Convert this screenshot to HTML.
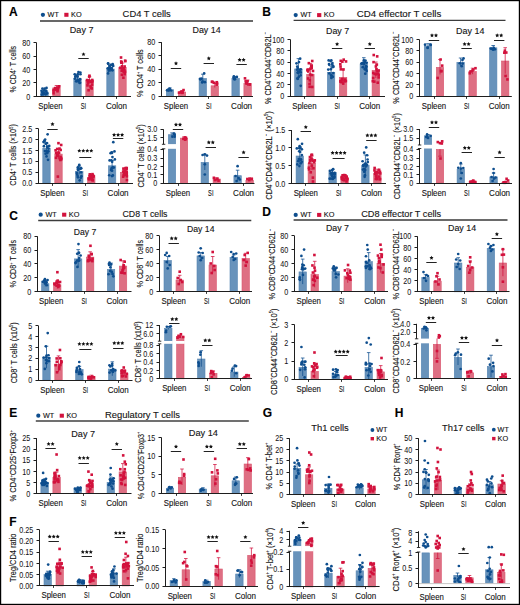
<!DOCTYPE html>
<html><head><meta charset="utf-8"><title>Figure</title>
<style>html,body{margin:0;padding:0;background:#fff;}
body{width:520px;height:605px;overflow:hidden;font-family:"Liberation Sans", sans-serif;}
svg{display:block;} text{stroke:#141414;stroke-width:0.12px;} text.tk{stroke-width:0.04px;}</style></head>
<body><svg width="520" height="605" viewBox="0 0 520 605" font-family='"Liberation Sans", sans-serif'><rect x="0.6" y="0.6" width="518.8" height="603.8" fill="none" stroke="#000" stroke-width="1.2"/><text x="8.9" y="15.8" font-size="12" text-anchor="start" font-weight="bold" fill="#000"><tspan>A</tspan></text><text x="262.3" y="15.6" font-size="12" text-anchor="start" font-weight="bold" fill="#000"><tspan>B</tspan></text><text x="9.3" y="220.1" font-size="12" text-anchor="start" font-weight="bold" fill="#000"><tspan>C</tspan></text><text x="262.3" y="216.3" font-size="12" text-anchor="start" font-weight="bold" fill="#000"><tspan>D</tspan></text><text x="9.3" y="417.1" font-size="12" text-anchor="start" font-weight="bold" fill="#000"><tspan>E</tspan></text><text x="9.3" y="525.8" font-size="12" text-anchor="start" font-weight="bold" fill="#000"><tspan>F</tspan></text><text x="262.8" y="417.1" font-size="12" text-anchor="start" font-weight="bold" fill="#000"><tspan>G</tspan></text><text x="394.8" y="417.1" font-size="12" text-anchor="start" font-weight="bold" fill="#000"><tspan>H</tspan></text><circle cx="42.9" cy="14.8" r="2.1" fill="#0e4e8e"/><text x="47.6" y="16.7" font-size="7" text-anchor="start" font-weight="normal" fill="#141414" textLength="11.2" lengthAdjust="spacingAndGlyphs"><tspan>WT</tspan></text><rect x="64.3" y="12.8" width="4.2" height="4" fill="#d2123d"/><text x="71" y="16.7" font-size="7" text-anchor="start" font-weight="normal" fill="#141414" textLength="10.6" lengthAdjust="spacingAndGlyphs"><tspan>KO</tspan></text><text x="122.6" y="16.6" font-size="9.3" text-anchor="start" font-weight="normal" fill="#141414" textLength="48.2" lengthAdjust="spacingAndGlyphs"><tspan>CD4 T cells</tspan></text><line x1="40" y1="20.9" x2="253" y2="20.9" stroke="#686868" stroke-width="2"/><circle cx="295.7" cy="15.1" r="2.1" fill="#0e4e8e"/><text x="300.4" y="17" font-size="7" text-anchor="start" font-weight="normal" fill="#141414" textLength="11.2" lengthAdjust="spacingAndGlyphs"><tspan>WT</tspan></text><rect x="317.1" y="13.1" width="4.2" height="4" fill="#d2123d"/><text x="323.8" y="17" font-size="7" text-anchor="start" font-weight="normal" fill="#141414" textLength="10.6" lengthAdjust="spacingAndGlyphs"><tspan>KO</tspan></text><text x="356.8" y="16.9" font-size="9.3" text-anchor="start" font-weight="normal" fill="#141414" textLength="84.5" lengthAdjust="spacingAndGlyphs"><tspan>CD4 effector T cells</tspan></text><line x1="293.6" y1="20.4" x2="505.5" y2="20.4" stroke="#3c3c3c" stroke-width="1.4"/><circle cx="40.7" cy="214.7" r="2.1" fill="#0e4e8e"/><text x="45.4" y="216.6" font-size="7" text-anchor="start" font-weight="normal" fill="#141414" textLength="11.2" lengthAdjust="spacingAndGlyphs"><tspan>WT</tspan></text><rect x="62.1" y="212.7" width="4.2" height="4" fill="#d2123d"/><text x="68.8" y="216.6" font-size="7" text-anchor="start" font-weight="normal" fill="#141414" textLength="10.6" lengthAdjust="spacingAndGlyphs"><tspan>KO</tspan></text><text x="122.5" y="216.5" font-size="9.3" text-anchor="start" font-weight="normal" fill="#141414" textLength="45" lengthAdjust="spacingAndGlyphs"><tspan>CD8 T cells</tspan></text><line x1="38.2" y1="220.5" x2="251.3" y2="220.5" stroke="#3c3c3c" stroke-width="1.4"/><circle cx="295.7" cy="214.9" r="2.1" fill="#0e4e8e"/><text x="300.4" y="216.8" font-size="7" text-anchor="start" font-weight="normal" fill="#141414" textLength="11.2" lengthAdjust="spacingAndGlyphs"><tspan>WT</tspan></text><rect x="317.1" y="212.9" width="4.2" height="4" fill="#d2123d"/><text x="323.8" y="216.8" font-size="7" text-anchor="start" font-weight="normal" fill="#141414" textLength="10.6" lengthAdjust="spacingAndGlyphs"><tspan>KO</tspan></text><text x="361.2" y="216.7" font-size="9.3" text-anchor="start" font-weight="normal" fill="#141414" textLength="80" lengthAdjust="spacingAndGlyphs"><tspan>CD8 effector T cells</tspan></text><line x1="293.6" y1="219.9" x2="507.5" y2="219.9" stroke="#6a6a6a" stroke-width="2"/><circle cx="38.3" cy="415.7" r="2.1" fill="#0e4e8e"/><text x="43" y="417.6" font-size="7" text-anchor="start" font-weight="normal" fill="#141414" textLength="11.2" lengthAdjust="spacingAndGlyphs"><tspan>WT</tspan></text><rect x="59.7" y="413.7" width="4.2" height="4" fill="#d2123d"/><text x="66.4" y="417.6" font-size="7" text-anchor="start" font-weight="normal" fill="#141414" textLength="10.6" lengthAdjust="spacingAndGlyphs"><tspan>KO</tspan></text><text x="105" y="417.5" font-size="9.3" text-anchor="start" font-weight="normal" fill="#141414" textLength="75" lengthAdjust="spacingAndGlyphs"><tspan>Regulatory T cells</tspan></text><line x1="35.8" y1="421" x2="248.8" y2="421" stroke="#707070" stroke-width="2"/><text x="69.85" y="32.5" font-size="9" text-anchor="start" font-weight="normal" fill="#141414" textLength="23.6" lengthAdjust="spacingAndGlyphs"><tspan>Day 7</tspan></text><text x="192.5" y="33" font-size="9" text-anchor="start" font-weight="normal" fill="#141414" textLength="28.2" lengthAdjust="spacingAndGlyphs"><tspan>Day 14</tspan></text><text x="326" y="33.5" font-size="9" text-anchor="start" font-weight="normal" fill="#141414" textLength="23.2" lengthAdjust="spacingAndGlyphs"><tspan>Day 7</tspan></text><text x="456" y="33.5" font-size="9" text-anchor="start" font-weight="normal" fill="#141414" textLength="28.4" lengthAdjust="spacingAndGlyphs"><tspan>Day 14</tspan></text><text x="73.8" y="234.5" font-size="9" text-anchor="start" font-weight="normal" fill="#141414" textLength="22.5" lengthAdjust="spacingAndGlyphs"><tspan>Day 7</tspan></text><text x="187" y="231.6" font-size="9" text-anchor="start" font-weight="normal" fill="#141414" textLength="27.5" lengthAdjust="spacingAndGlyphs"><tspan>Day 14</tspan></text><text x="326" y="230.8" font-size="9" text-anchor="start" font-weight="normal" fill="#141414" textLength="23" lengthAdjust="spacingAndGlyphs"><tspan>Day 7</tspan></text><text x="448" y="230.8" font-size="9" text-anchor="start" font-weight="normal" fill="#141414" textLength="28.2" lengthAdjust="spacingAndGlyphs"><tspan>Day 14</tspan></text><text x="71.3" y="436.5" font-size="9" text-anchor="start" font-weight="normal" fill="#141414" textLength="23.7" lengthAdjust="spacingAndGlyphs"><tspan>Day 7</tspan></text><text x="188.8" y="435.8" font-size="9" text-anchor="start" font-weight="normal" fill="#141414" textLength="29.2" lengthAdjust="spacingAndGlyphs"><tspan>Day 14</tspan></text><text x="311.3" y="430.5" font-size="9.2" text-anchor="start" font-weight="normal" fill="#141414" textLength="37.5" lengthAdjust="spacingAndGlyphs"><tspan>Th1 cells</tspan></text><circle cx="372.4" cy="430" r="1.9" fill="#0e4e8e"/><text x="376.3" y="432.3" font-size="7" text-anchor="start" font-weight="normal" fill="#141414" textLength="11.2" lengthAdjust="spacingAndGlyphs"><tspan>WT</tspan></text><rect x="370.6" y="437" width="3.4" height="3.4" fill="#d2123d"/><text x="376.3" y="440.6" font-size="7" text-anchor="start" font-weight="normal" fill="#141414" textLength="10.6" lengthAdjust="spacingAndGlyphs"><tspan>KO</tspan></text><text x="442" y="430.5" font-size="9.2" text-anchor="start" font-weight="normal" fill="#141414" textLength="42.5" lengthAdjust="spacingAndGlyphs"><tspan>Th17 cells</tspan></text><circle cx="493.8" cy="429.7" r="1.9" fill="#0e4e8e"/><text x="497.6" y="432" font-size="7" text-anchor="start" font-weight="normal" fill="#141414" textLength="11.2" lengthAdjust="spacingAndGlyphs"><tspan>WT</tspan></text><rect x="492.1" y="436.9" width="3.4" height="3.4" fill="#d2123d"/><text x="497.6" y="440.5" font-size="7" text-anchor="start" font-weight="normal" fill="#141414" textLength="10.6" lengthAdjust="spacingAndGlyphs"><tspan>KO</tspan></text><rect x="40.8" y="92.05" width="7.4" height="4.35" fill="#6893bb" stroke="#5584b2" stroke-width="0.6"/><rect x="52.8" y="87.8" width="7.4" height="8.6" fill="#de6f83" stroke="#d9566f" stroke-width="0.6"/><line x1="44.5" y1="89.75" x2="44.5" y2="93.75" stroke="#0e4e8e" stroke-width="0.75"/><line x1="42.7" y1="89.75" x2="46.3" y2="89.75" stroke="#0e4e8e" stroke-width="0.75"/><circle cx="46.12" cy="93.74" r="1.35" fill="#0e4e8e"/><circle cx="45.73" cy="94.34" r="1.35" fill="#0e4e8e"/><circle cx="46.3" cy="91.39" r="1.35" fill="#0e4e8e"/><circle cx="44.7" cy="88.61" r="1.35" fill="#0e4e8e"/><circle cx="41.79" cy="94.62" r="1.35" fill="#0e4e8e"/><circle cx="47.1" cy="93.33" r="1.35" fill="#0e4e8e"/><circle cx="43.36" cy="94.29" r="1.35" fill="#0e4e8e"/><circle cx="46.11" cy="90.87" r="1.35" fill="#0e4e8e"/><circle cx="42.63" cy="92.28" r="1.35" fill="#0e4e8e"/><circle cx="43.58" cy="93.53" r="1.35" fill="#0e4e8e"/><circle cx="44.83" cy="93.56" r="1.35" fill="#0e4e8e"/><circle cx="42.46" cy="88.56" r="1.35" fill="#0e4e8e"/><circle cx="41.53" cy="90.84" r="1.35" fill="#0e4e8e"/><circle cx="43.87" cy="90.52" r="1.35" fill="#0e4e8e"/><circle cx="42.66" cy="92.31" r="1.35" fill="#0e4e8e"/><circle cx="46.55" cy="87.96" r="1.35" fill="#0e4e8e"/><line x1="56.5" y1="85.5" x2="56.5" y2="89.5" stroke="#d2123d" stroke-width="0.75"/><line x1="54.7" y1="85.5" x2="58.3" y2="85.5" stroke="#d2123d" stroke-width="0.75"/><rect x="57.99" y="85" width="2.6" height="2.6" fill="#d2123d"/><rect x="56.18" y="89.94" width="2.6" height="2.6" fill="#d2123d"/><rect x="53.93" y="86.79" width="2.6" height="2.6" fill="#d2123d"/><rect x="56.35" y="88.79" width="2.6" height="2.6" fill="#d2123d"/><rect x="52.62" y="88.54" width="2.6" height="2.6" fill="#d2123d"/><rect x="56.82" y="86.76" width="2.6" height="2.6" fill="#d2123d"/><rect x="54.4" y="87.72" width="2.6" height="2.6" fill="#d2123d"/><rect x="56.02" y="86.79" width="2.6" height="2.6" fill="#d2123d"/><rect x="54.78" y="87.66" width="2.6" height="2.6" fill="#d2123d"/><rect x="57.14" y="85.59" width="2.6" height="2.6" fill="#d2123d"/><rect x="56.28" y="87.91" width="2.6" height="2.6" fill="#d2123d"/><rect x="54.74" y="88.45" width="2.6" height="2.6" fill="#d2123d"/><rect x="52.24" y="89.35" width="2.6" height="2.6" fill="#d2123d"/><rect x="54.27" y="87.24" width="2.6" height="2.6" fill="#d2123d"/><rect x="52.26" y="92" width="2.6" height="2.6" fill="#d2123d"/><rect x="55.59" y="87" width="2.6" height="2.6" fill="#d2123d"/><rect x="73.8" y="78.5" width="7.4" height="17.9" fill="#6893bb" stroke="#5584b2" stroke-width="0.6"/><rect x="85.8" y="80.1" width="7.4" height="16.3" fill="#de6f83" stroke="#d9566f" stroke-width="0.6"/><line x1="77.5" y1="75.2" x2="77.5" y2="81.2" stroke="#0e4e8e" stroke-width="0.75"/><line x1="75.7" y1="75.2" x2="79.3" y2="75.2" stroke="#0e4e8e" stroke-width="0.75"/><circle cx="79.43" cy="82.85" r="1.35" fill="#0e4e8e"/><circle cx="75.99" cy="76.16" r="1.35" fill="#0e4e8e"/><circle cx="77.75" cy="74.13" r="1.35" fill="#0e4e8e"/><circle cx="74.95" cy="78.66" r="1.35" fill="#0e4e8e"/><circle cx="74.74" cy="74.33" r="1.35" fill="#0e4e8e"/><circle cx="79.39" cy="80.43" r="1.35" fill="#0e4e8e"/><circle cx="78.29" cy="80.69" r="1.35" fill="#0e4e8e"/><circle cx="77.67" cy="76.67" r="1.35" fill="#0e4e8e"/><circle cx="78.47" cy="72.1" r="1.35" fill="#0e4e8e"/><circle cx="76.17" cy="81.3" r="1.35" fill="#0e4e8e"/><circle cx="80.46" cy="74.23" r="1.35" fill="#0e4e8e"/><circle cx="80.08" cy="82.83" r="1.35" fill="#0e4e8e"/><circle cx="79.95" cy="79.16" r="1.35" fill="#0e4e8e"/><circle cx="80.37" cy="72.61" r="1.35" fill="#0e4e8e"/><circle cx="76.96" cy="80.71" r="1.35" fill="#0e4e8e"/><circle cx="75.87" cy="75.95" r="1.35" fill="#0e4e8e"/><circle cx="77.47" cy="81.22" r="1.35" fill="#0e4e8e"/><circle cx="75.34" cy="76.73" r="1.35" fill="#0e4e8e"/><line x1="89.5" y1="76.8" x2="89.5" y2="82.8" stroke="#d2123d" stroke-width="0.75"/><line x1="87.7" y1="76.8" x2="91.3" y2="76.8" stroke="#d2123d" stroke-width="0.75"/><rect x="90.86" y="80.66" width="2.6" height="2.6" fill="#d2123d"/><rect x="88.16" y="74.41" width="2.6" height="2.6" fill="#d2123d"/><rect x="86.22" y="84.06" width="2.6" height="2.6" fill="#d2123d"/><rect x="86.58" y="80.93" width="2.6" height="2.6" fill="#d2123d"/><rect x="89.22" y="85.06" width="2.6" height="2.6" fill="#d2123d"/><rect x="86.87" y="81.8" width="2.6" height="2.6" fill="#d2123d"/><rect x="90.62" y="80.44" width="2.6" height="2.6" fill="#d2123d"/><rect x="87.3" y="88.94" width="2.6" height="2.6" fill="#d2123d"/><rect x="89.76" y="80.43" width="2.6" height="2.6" fill="#d2123d"/><rect x="87.64" y="79.11" width="2.6" height="2.6" fill="#d2123d"/><rect x="90.43" y="87.15" width="2.6" height="2.6" fill="#d2123d"/><rect x="85.8" y="78.73" width="2.6" height="2.6" fill="#d2123d"/><rect x="87.96" y="75.31" width="2.6" height="2.6" fill="#d2123d"/><rect x="90.91" y="79.57" width="2.6" height="2.6" fill="#d2123d"/><rect x="90.84" y="83.31" width="2.6" height="2.6" fill="#d2123d"/><rect x="88.96" y="79.91" width="2.6" height="2.6" fill="#d2123d"/><rect x="90.89" y="78.66" width="2.6" height="2.6" fill="#d2123d"/><rect x="89.64" y="86.36" width="2.6" height="2.6" fill="#d2123d"/><rect x="106.8" y="69" width="7.4" height="27.4" fill="#6893bb" stroke="#5584b2" stroke-width="0.6"/><rect x="118.8" y="67.3" width="7.4" height="29.1" fill="#de6f83" stroke="#d9566f" stroke-width="0.6"/><line x1="110.5" y1="65.7" x2="110.5" y2="71.7" stroke="#0e4e8e" stroke-width="0.75"/><line x1="108.7" y1="65.7" x2="112.3" y2="65.7" stroke="#0e4e8e" stroke-width="0.75"/><circle cx="113.22" cy="66" r="1.35" fill="#0e4e8e"/><circle cx="111.31" cy="68.45" r="1.35" fill="#0e4e8e"/><circle cx="108.05" cy="63.39" r="1.35" fill="#0e4e8e"/><circle cx="109.01" cy="69.49" r="1.35" fill="#0e4e8e"/><circle cx="109.43" cy="65.83" r="1.35" fill="#0e4e8e"/><circle cx="111.74" cy="68.04" r="1.35" fill="#0e4e8e"/><circle cx="109.22" cy="67.81" r="1.35" fill="#0e4e8e"/><circle cx="108.81" cy="70.71" r="1.35" fill="#0e4e8e"/><circle cx="108.19" cy="63.71" r="1.35" fill="#0e4e8e"/><circle cx="108.75" cy="68.63" r="1.35" fill="#0e4e8e"/><circle cx="108.07" cy="73.41" r="1.35" fill="#0e4e8e"/><circle cx="112.7" cy="64.21" r="1.35" fill="#0e4e8e"/><circle cx="112.33" cy="64.79" r="1.35" fill="#0e4e8e"/><circle cx="111.63" cy="70" r="1.35" fill="#0e4e8e"/><circle cx="110.77" cy="64.9" r="1.35" fill="#0e4e8e"/><circle cx="112.51" cy="70.3" r="1.35" fill="#0e4e8e"/><circle cx="107.68" cy="68.23" r="1.35" fill="#0e4e8e"/><circle cx="109.65" cy="66.97" r="1.35" fill="#0e4e8e"/><line x1="122.5" y1="63" x2="122.5" y2="71" stroke="#d2123d" stroke-width="0.75"/><line x1="120.7" y1="63" x2="124.3" y2="63" stroke="#d2123d" stroke-width="0.75"/><rect x="120.59" y="73.47" width="2.6" height="2.6" fill="#d2123d"/><rect x="123.69" y="70.45" width="2.6" height="2.6" fill="#d2123d"/><rect x="123.83" y="59.41" width="2.6" height="2.6" fill="#d2123d"/><rect x="119.91" y="60.19" width="2.6" height="2.6" fill="#d2123d"/><rect x="122.26" y="69.88" width="2.6" height="2.6" fill="#d2123d"/><rect x="124.01" y="59.84" width="2.6" height="2.6" fill="#d2123d"/><rect x="123.03" y="68.97" width="2.6" height="2.6" fill="#d2123d"/><rect x="123.36" y="72.89" width="2.6" height="2.6" fill="#d2123d"/><rect x="122.72" y="66.81" width="2.6" height="2.6" fill="#d2123d"/><rect x="120.28" y="60.97" width="2.6" height="2.6" fill="#d2123d"/><rect x="120.78" y="67.2" width="2.6" height="2.6" fill="#d2123d"/><rect x="122.09" y="76.42" width="2.6" height="2.6" fill="#d2123d"/><rect x="120.13" y="61.42" width="2.6" height="2.6" fill="#d2123d"/><rect x="120.68" y="64.89" width="2.6" height="2.6" fill="#d2123d"/><rect x="120.4" y="69.49" width="2.6" height="2.6" fill="#d2123d"/><rect x="122.62" y="70.61" width="2.6" height="2.6" fill="#d2123d"/><rect x="119.02" y="66.47" width="2.6" height="2.6" fill="#d2123d"/><rect x="123.33" y="65.19" width="2.6" height="2.6" fill="#d2123d"/><rect x="119.73" y="56.2" width="2.6" height="2.6" fill="#d2123d"/><line x1="36.5" y1="42.6" x2="36.5" y2="97" stroke="#1e1e1e" stroke-width="1"/><line x1="36" y1="96.5" x2="131" y2="96.5" stroke="#1e1e1e" stroke-width="1"/><line x1="33.5" y1="96.5" x2="36.5" y2="96.5" stroke="#1e1e1e" stroke-width="1"/><text class="tk" transform="translate(30.3 99.5) scale(0.82 1)" font-size="8.8" text-anchor="end" font-weight="normal" fill="#141414"><tspan>0</tspan></text><line x1="33.5" y1="82.5" x2="36.5" y2="82.5" stroke="#1e1e1e" stroke-width="1"/><text class="tk" transform="translate(30.3 86.05) scale(0.82 1)" font-size="8.8" text-anchor="end" font-weight="normal" fill="#141414"><tspan>20</tspan></text><line x1="33.5" y1="69.5" x2="36.5" y2="69.5" stroke="#1e1e1e" stroke-width="1"/><text class="tk" transform="translate(30.3 72.6) scale(0.82 1)" font-size="8.8" text-anchor="end" font-weight="normal" fill="#141414"><tspan>40</tspan></text><line x1="33.5" y1="56.5" x2="36.5" y2="56.5" stroke="#1e1e1e" stroke-width="1"/><text class="tk" transform="translate(30.3 59.15) scale(0.82 1)" font-size="8.8" text-anchor="end" font-weight="normal" fill="#141414"><tspan>60</tspan></text><line x1="33.5" y1="42.5" x2="36.5" y2="42.5" stroke="#1e1e1e" stroke-width="1"/><text class="tk" transform="translate(30.3 45.7) scale(0.82 1)" font-size="8.8" text-anchor="end" font-weight="normal" fill="#141414"><tspan>80</tspan></text><line x1="50.5" y1="96.5" x2="50.5" y2="98.9" stroke="#1e1e1e" stroke-width="0.9"/><line x1="83.5" y1="96.5" x2="83.5" y2="98.9" stroke="#1e1e1e" stroke-width="0.9"/><line x1="116.5" y1="96.5" x2="116.5" y2="98.9" stroke="#1e1e1e" stroke-width="0.9"/><text x="50.5" y="109.2" font-size="8.7" text-anchor="middle" font-weight="normal" fill="#141414" textLength="24.3" lengthAdjust="spacingAndGlyphs"><tspan>Spleen</tspan></text><text x="83.5" y="109.2" font-size="8.7" text-anchor="middle" font-weight="normal" fill="#141414" textLength="5.4" lengthAdjust="spacingAndGlyphs"><tspan>SI</tspan></text><text x="116.5" y="109.2" font-size="8.7" text-anchor="middle" font-weight="normal" fill="#141414" textLength="21" lengthAdjust="spacingAndGlyphs"><tspan>Colon</tspan></text><line x1="78.3" y1="58.5" x2="88.7" y2="58.5" stroke="#222" stroke-width="1"/><polygon points="83.5,52.15 84.12,53.45 85.54,53.64 84.5,54.62 84.76,56.04 83.5,55.35 82.24,56.04 82.5,54.62 81.46,53.64 82.88,53.45" fill="#111"/><text transform="translate(16.2 69.2) rotate(-90)" x="0" y="0" font-size="9.8" text-anchor="middle" font-weight="normal" fill="#141414" textLength="46.4" lengthAdjust="spacingAndGlyphs"><tspan>% CD4</tspan><tspan dy="-3.53" font-size="5.2">+</tspan><tspan dy="3.53"> T cells</tspan></text><rect x="166.3" y="89.8" width="7.4" height="6.7" fill="#6893bb" stroke="#5584b2" stroke-width="0.6"/><rect x="178.3" y="92.05" width="7.4" height="4.45" fill="#de6f83" stroke="#d9566f" stroke-width="0.6"/><line x1="170" y1="88" x2="170" y2="91" stroke="#0e4e8e" stroke-width="0.75"/><line x1="168.2" y1="88" x2="171.8" y2="88" stroke="#0e4e8e" stroke-width="0.75"/><circle cx="171.25" cy="90.51" r="1.35" fill="#0e4e8e"/><circle cx="167.86" cy="89.8" r="1.35" fill="#0e4e8e"/><circle cx="167.07" cy="90.28" r="1.35" fill="#0e4e8e"/><circle cx="169.64" cy="88.55" r="1.35" fill="#0e4e8e"/><circle cx="168.67" cy="89.64" r="1.35" fill="#0e4e8e"/><circle cx="169.76" cy="89.75" r="1.35" fill="#0e4e8e"/><circle cx="168.8" cy="90.57" r="1.35" fill="#0e4e8e"/><line x1="182" y1="90.55" x2="182" y2="92.95" stroke="#d2123d" stroke-width="0.75"/><line x1="180.2" y1="90.55" x2="183.8" y2="90.55" stroke="#d2123d" stroke-width="0.75"/><rect x="177.72" y="91.34" width="2.6" height="2.6" fill="#d2123d"/><rect x="179.4" y="90.85" width="2.6" height="2.6" fill="#d2123d"/><rect x="180.52" y="90.48" width="2.6" height="2.6" fill="#d2123d"/><rect x="182.22" y="88.77" width="2.6" height="2.6" fill="#d2123d"/><rect x="181.36" y="91.11" width="2.6" height="2.6" fill="#d2123d"/><rect x="180.56" y="91.35" width="2.6" height="2.6" fill="#d2123d"/><rect x="180.91" y="91.54" width="2.6" height="2.6" fill="#d2123d"/><rect x="199.1" y="78.5" width="7.4" height="18" fill="#6893bb" stroke="#5584b2" stroke-width="0.6"/><rect x="211.1" y="85.8" width="7.4" height="10.7" fill="#de6f83" stroke="#d9566f" stroke-width="0.6"/><line x1="202.8" y1="74.2" x2="202.8" y2="82.2" stroke="#0e4e8e" stroke-width="0.75"/><line x1="201" y1="74.2" x2="204.6" y2="74.2" stroke="#0e4e8e" stroke-width="0.75"/><circle cx="204.16" cy="73.46" r="1.35" fill="#0e4e8e"/><circle cx="202.23" cy="82.39" r="1.35" fill="#0e4e8e"/><circle cx="201.54" cy="78.61" r="1.35" fill="#0e4e8e"/><circle cx="200.04" cy="78.93" r="1.35" fill="#0e4e8e"/><circle cx="202.71" cy="81.63" r="1.35" fill="#0e4e8e"/><circle cx="204.89" cy="82.13" r="1.35" fill="#0e4e8e"/><circle cx="200.58" cy="79.38" r="1.35" fill="#0e4e8e"/><line x1="214.8" y1="83.5" x2="214.8" y2="87.5" stroke="#d2123d" stroke-width="0.75"/><line x1="213" y1="83.5" x2="216.6" y2="83.5" stroke="#d2123d" stroke-width="0.75"/><rect x="210.63" y="80.43" width="2.6" height="2.6" fill="#d2123d"/><rect x="215.8" y="82.57" width="2.6" height="2.6" fill="#d2123d"/><rect x="215.57" y="81.75" width="2.6" height="2.6" fill="#d2123d"/><rect x="212.56" y="81.52" width="2.6" height="2.6" fill="#d2123d"/><rect x="211.29" y="80.62" width="2.6" height="2.6" fill="#d2123d"/><rect x="215.41" y="83.32" width="2.6" height="2.6" fill="#d2123d"/><rect x="215.49" y="80.95" width="2.6" height="2.6" fill="#d2123d"/><rect x="231.9" y="78.5" width="7.4" height="18" fill="#6893bb" stroke="#5584b2" stroke-width="0.6"/><rect x="243.9" y="83.3" width="7.4" height="13.2" fill="#de6f83" stroke="#d9566f" stroke-width="0.6"/><line x1="235.6" y1="76.7" x2="235.6" y2="79.7" stroke="#0e4e8e" stroke-width="0.75"/><line x1="233.8" y1="76.7" x2="237.4" y2="76.7" stroke="#0e4e8e" stroke-width="0.75"/><circle cx="234.1" cy="78.18" r="1.35" fill="#0e4e8e"/><circle cx="234.26" cy="77.2" r="1.35" fill="#0e4e8e"/><circle cx="236.86" cy="76.9" r="1.35" fill="#0e4e8e"/><circle cx="234.01" cy="79.12" r="1.35" fill="#0e4e8e"/><circle cx="234.91" cy="79.3" r="1.35" fill="#0e4e8e"/><circle cx="233.76" cy="77.37" r="1.35" fill="#0e4e8e"/><circle cx="233.84" cy="76.45" r="1.35" fill="#0e4e8e"/><line x1="247.6" y1="80" x2="247.6" y2="86" stroke="#d2123d" stroke-width="0.75"/><line x1="245.8" y1="80" x2="249.4" y2="80" stroke="#d2123d" stroke-width="0.75"/><rect x="244.98" y="81.74" width="2.6" height="2.6" fill="#d2123d"/><rect x="248.23" y="83.08" width="2.6" height="2.6" fill="#d2123d"/><rect x="245.43" y="82.32" width="2.6" height="2.6" fill="#d2123d"/><rect x="243.69" y="77.05" width="2.6" height="2.6" fill="#d2123d"/><rect x="248.45" y="83.16" width="2.6" height="2.6" fill="#d2123d"/><rect x="244.38" y="80.03" width="2.6" height="2.6" fill="#d2123d"/><rect x="246.27" y="79.97" width="2.6" height="2.6" fill="#d2123d"/><line x1="161.5" y1="42.2" x2="161.5" y2="97" stroke="#1e1e1e" stroke-width="1"/><line x1="161" y1="96.5" x2="253" y2="96.5" stroke="#1e1e1e" stroke-width="1"/><line x1="158.5" y1="96.5" x2="161.5" y2="96.5" stroke="#1e1e1e" stroke-width="1"/><text class="tk" transform="translate(155.3 99.6) scale(0.82 1)" font-size="8.8" text-anchor="end" font-weight="normal" fill="#141414"><tspan>0</tspan></text><line x1="158.5" y1="82.5" x2="161.5" y2="82.5" stroke="#1e1e1e" stroke-width="1"/><text class="tk" transform="translate(155.3 86) scale(0.82 1)" font-size="8.8" text-anchor="end" font-weight="normal" fill="#141414"><tspan>20</tspan></text><line x1="158.5" y1="69.5" x2="161.5" y2="69.5" stroke="#1e1e1e" stroke-width="1"/><text class="tk" transform="translate(155.3 72.4) scale(0.82 1)" font-size="8.8" text-anchor="end" font-weight="normal" fill="#141414"><tspan>40</tspan></text><line x1="158.5" y1="55.5" x2="161.5" y2="55.5" stroke="#1e1e1e" stroke-width="1"/><text class="tk" transform="translate(155.3 58.8) scale(0.82 1)" font-size="8.8" text-anchor="end" font-weight="normal" fill="#141414"><tspan>60</tspan></text><line x1="158.5" y1="42.5" x2="161.5" y2="42.5" stroke="#1e1e1e" stroke-width="1"/><text class="tk" transform="translate(155.3 45.2) scale(0.82 1)" font-size="8.8" text-anchor="end" font-weight="normal" fill="#141414"><tspan>80</tspan></text><line x1="176.5" y1="96.5" x2="176.5" y2="98.9" stroke="#1e1e1e" stroke-width="0.9"/><line x1="208.5" y1="96.5" x2="208.5" y2="98.9" stroke="#1e1e1e" stroke-width="0.9"/><line x1="241.5" y1="96.5" x2="241.5" y2="98.9" stroke="#1e1e1e" stroke-width="0.9"/><text x="176" y="109.2" font-size="8.7" text-anchor="middle" font-weight="normal" fill="#141414" textLength="24.3" lengthAdjust="spacingAndGlyphs"><tspan>Spleen</tspan></text><text x="208.8" y="109.2" font-size="8.7" text-anchor="middle" font-weight="normal" fill="#141414" textLength="5.4" lengthAdjust="spacingAndGlyphs"><tspan>SI</tspan></text><text x="241.6" y="109.2" font-size="8.7" text-anchor="middle" font-weight="normal" fill="#141414" textLength="21" lengthAdjust="spacingAndGlyphs"><tspan>Colon</tspan></text><line x1="170.8" y1="68.5" x2="181.2" y2="68.5" stroke="#222" stroke-width="1"/><polygon points="176,61.25 176.62,62.55 178.04,62.74 177,63.72 177.26,65.14 176,64.45 174.74,65.14 175,63.72 173.96,62.74 175.38,62.55" fill="#111"/><line x1="203.6" y1="63.5" x2="214" y2="63.5" stroke="#222" stroke-width="1"/><polygon points="208.8,56.25 209.42,57.55 210.84,57.74 209.8,58.72 210.06,60.14 208.8,59.45 207.54,60.14 207.8,58.72 206.76,57.74 208.18,57.55" fill="#111"/><line x1="236.4" y1="64.5" x2="246.8" y2="64.5" stroke="#222" stroke-width="1"/><polygon points="239.6,57.75 240.22,59.05 241.64,59.24 240.6,60.22 240.86,61.64 239.6,60.95 238.34,61.64 238.6,60.22 237.56,59.24 238.98,59.05" fill="#111"/><polygon points="243.6,57.75 244.22,59.05 245.64,59.24 244.6,60.22 244.86,61.64 243.6,60.95 242.34,61.64 242.6,60.22 241.56,59.24 242.98,59.05" fill="#111"/><text transform="translate(143.2 73.1) rotate(-90)" x="0" y="0" font-size="9.8" text-anchor="middle" font-weight="normal" fill="#141414" textLength="47.6" lengthAdjust="spacingAndGlyphs"><tspan>% CD4</tspan><tspan dy="-3.53" font-size="5.2">+</tspan><tspan dy="3.53"> T cells</tspan></text><rect x="42.8" y="148.1" width="7.4" height="35" fill="#6893bb" stroke="#5584b2" stroke-width="0.6"/><rect x="54.8" y="154.1" width="7.4" height="29" fill="#de6f83" stroke="#d9566f" stroke-width="0.6"/><line x1="46.5" y1="142.8" x2="46.5" y2="152.8" stroke="#0e4e8e" stroke-width="0.75"/><line x1="44.7" y1="142.8" x2="48.3" y2="142.8" stroke="#0e4e8e" stroke-width="0.75"/><circle cx="43.51" cy="142.07" r="1.35" fill="#0e4e8e"/><circle cx="45.58" cy="143.76" r="1.35" fill="#0e4e8e"/><circle cx="46.98" cy="151.35" r="1.35" fill="#0e4e8e"/><circle cx="44.47" cy="140.63" r="1.35" fill="#0e4e8e"/><circle cx="44.33" cy="141.23" r="1.35" fill="#0e4e8e"/><circle cx="44.98" cy="151.01" r="1.35" fill="#0e4e8e"/><circle cx="46.52" cy="156.38" r="1.35" fill="#0e4e8e"/><circle cx="47.64" cy="146.55" r="1.35" fill="#0e4e8e"/><circle cx="46.84" cy="143.19" r="1.35" fill="#0e4e8e"/><circle cx="45.6" cy="153.69" r="1.35" fill="#0e4e8e"/><circle cx="43.9" cy="146.17" r="1.35" fill="#0e4e8e"/><circle cx="48.35" cy="151.37" r="1.35" fill="#0e4e8e"/><circle cx="48.01" cy="159.81" r="1.35" fill="#0e4e8e"/><circle cx="48.44" cy="148.59" r="1.35" fill="#0e4e8e"/><circle cx="49.23" cy="145.94" r="1.35" fill="#0e4e8e"/><circle cx="47.21" cy="146.86" r="1.35" fill="#0e4e8e"/><circle cx="45.13" cy="139.59" r="1.35" fill="#0e4e8e"/><circle cx="47.35" cy="153.12" r="1.35" fill="#0e4e8e"/><circle cx="47.63" cy="134.3" r="1.35" fill="#0e4e8e"/><line x1="58.5" y1="148.8" x2="58.5" y2="158.8" stroke="#d2123d" stroke-width="0.75"/><line x1="56.7" y1="148.8" x2="60.3" y2="148.8" stroke="#d2123d" stroke-width="0.75"/><rect x="57.16" y="141.87" width="2.6" height="2.6" fill="#d2123d"/><rect x="58.21" y="147.27" width="2.6" height="2.6" fill="#d2123d"/><rect x="55.73" y="153.88" width="2.6" height="2.6" fill="#d2123d"/><rect x="59.97" y="157.92" width="2.6" height="2.6" fill="#d2123d"/><rect x="54.77" y="151.51" width="2.6" height="2.6" fill="#d2123d"/><rect x="59.9" y="143.67" width="2.6" height="2.6" fill="#d2123d"/><rect x="59.27" y="155.6" width="2.6" height="2.6" fill="#d2123d"/><rect x="59.35" y="148.65" width="2.6" height="2.6" fill="#d2123d"/><rect x="59.07" y="158.68" width="2.6" height="2.6" fill="#d2123d"/><rect x="58.63" y="157.56" width="2.6" height="2.6" fill="#d2123d"/><rect x="56.95" y="151.34" width="2.6" height="2.6" fill="#d2123d"/><rect x="54.3" y="149.02" width="2.6" height="2.6" fill="#d2123d"/><rect x="55.9" y="147.64" width="2.6" height="2.6" fill="#d2123d"/><rect x="59.84" y="156.79" width="2.6" height="2.6" fill="#d2123d"/><rect x="57.78" y="151.53" width="2.6" height="2.6" fill="#d2123d"/><rect x="56.1" y="154.5" width="2.6" height="2.6" fill="#d2123d"/><rect x="54.72" y="156.48" width="2.6" height="2.6" fill="#d2123d"/><rect x="56.91" y="154.44" width="2.6" height="2.6" fill="#d2123d"/><rect x="56.56" y="175.3" width="2.6" height="2.6" fill="#d2123d"/><rect x="75.6" y="171.5" width="7.4" height="11.6" fill="#6893bb" stroke="#5584b2" stroke-width="0.6"/><rect x="87.6" y="177.8" width="7.4" height="5.3" fill="#de6f83" stroke="#d9566f" stroke-width="0.6"/><line x1="79.3" y1="168.2" x2="79.3" y2="174.2" stroke="#0e4e8e" stroke-width="0.75"/><line x1="77.5" y1="168.2" x2="81.1" y2="168.2" stroke="#0e4e8e" stroke-width="0.75"/><circle cx="77.86" cy="167.25" r="1.35" fill="#0e4e8e"/><circle cx="78.02" cy="169.89" r="1.35" fill="#0e4e8e"/><circle cx="78.19" cy="169.36" r="1.35" fill="#0e4e8e"/><circle cx="81.39" cy="176.19" r="1.35" fill="#0e4e8e"/><circle cx="77.14" cy="174.08" r="1.35" fill="#0e4e8e"/><circle cx="77.58" cy="175.82" r="1.35" fill="#0e4e8e"/><circle cx="80.54" cy="168.79" r="1.35" fill="#0e4e8e"/><circle cx="81.27" cy="168.23" r="1.35" fill="#0e4e8e"/><circle cx="79.69" cy="180.34" r="1.35" fill="#0e4e8e"/><circle cx="78.15" cy="168.75" r="1.35" fill="#0e4e8e"/><circle cx="78.04" cy="168.63" r="1.35" fill="#0e4e8e"/><circle cx="79.13" cy="165.57" r="1.35" fill="#0e4e8e"/><circle cx="76.85" cy="172.93" r="1.35" fill="#0e4e8e"/><circle cx="81.04" cy="172.36" r="1.35" fill="#0e4e8e"/><circle cx="80.84" cy="177.66" r="1.35" fill="#0e4e8e"/><circle cx="80.66" cy="167.74" r="1.35" fill="#0e4e8e"/><circle cx="77.97" cy="177.34" r="1.35" fill="#0e4e8e"/><circle cx="79.26" cy="164.92" r="1.35" fill="#0e4e8e"/><line x1="91.3" y1="175.5" x2="91.3" y2="179.5" stroke="#d2123d" stroke-width="0.75"/><line x1="89.5" y1="175.5" x2="93.1" y2="175.5" stroke="#d2123d" stroke-width="0.75"/><rect x="87.43" y="177.13" width="2.6" height="2.6" fill="#d2123d"/><rect x="89.62" y="174.24" width="2.6" height="2.6" fill="#d2123d"/><rect x="90.31" y="177.8" width="2.6" height="2.6" fill="#d2123d"/><rect x="90.2" y="175.9" width="2.6" height="2.6" fill="#d2123d"/><rect x="88.85" y="176.56" width="2.6" height="2.6" fill="#d2123d"/><rect x="91.45" y="178.65" width="2.6" height="2.6" fill="#d2123d"/><rect x="91.19" y="172.84" width="2.6" height="2.6" fill="#d2123d"/><rect x="88.73" y="173.13" width="2.6" height="2.6" fill="#d2123d"/><rect x="90.65" y="178.39" width="2.6" height="2.6" fill="#d2123d"/><rect x="88.57" y="173.25" width="2.6" height="2.6" fill="#d2123d"/><rect x="91.66" y="173.93" width="2.6" height="2.6" fill="#d2123d"/><rect x="87.73" y="178.08" width="2.6" height="2.6" fill="#d2123d"/><rect x="92.55" y="175.09" width="2.6" height="2.6" fill="#d2123d"/><rect x="90.19" y="175.96" width="2.6" height="2.6" fill="#d2123d"/><rect x="88.28" y="175.04" width="2.6" height="2.6" fill="#d2123d"/><rect x="91.74" y="175.6" width="2.6" height="2.6" fill="#d2123d"/><rect x="91.38" y="179.05" width="2.6" height="2.6" fill="#d2123d"/><rect x="90.65" y="177.21" width="2.6" height="2.6" fill="#d2123d"/><rect x="108.4" y="165.8" width="7.4" height="17.3" fill="#6893bb" stroke="#5584b2" stroke-width="0.6"/><rect x="120.4" y="172.3" width="7.4" height="10.8" fill="#de6f83" stroke="#d9566f" stroke-width="0.6"/><line x1="112.1" y1="160.5" x2="112.1" y2="170.5" stroke="#0e4e8e" stroke-width="0.75"/><line x1="110.3" y1="160.5" x2="113.9" y2="160.5" stroke="#0e4e8e" stroke-width="0.75"/><circle cx="111.73" cy="152.64" r="1.35" fill="#0e4e8e"/><circle cx="111.03" cy="170.08" r="1.35" fill="#0e4e8e"/><circle cx="112.17" cy="161.82" r="1.35" fill="#0e4e8e"/><circle cx="113.82" cy="167.56" r="1.35" fill="#0e4e8e"/><circle cx="112.45" cy="157.09" r="1.35" fill="#0e4e8e"/><circle cx="111.98" cy="176.12" r="1.35" fill="#0e4e8e"/><circle cx="112.08" cy="170.74" r="1.35" fill="#0e4e8e"/><circle cx="109.24" cy="175.27" r="1.35" fill="#0e4e8e"/><circle cx="112.87" cy="175.4" r="1.35" fill="#0e4e8e"/><circle cx="110.62" cy="153.14" r="1.35" fill="#0e4e8e"/><circle cx="111.81" cy="152.61" r="1.35" fill="#0e4e8e"/><circle cx="114.47" cy="151.44" r="1.35" fill="#0e4e8e"/><circle cx="111.56" cy="168.43" r="1.35" fill="#0e4e8e"/><circle cx="109.61" cy="160.4" r="1.35" fill="#0e4e8e"/><circle cx="111.98" cy="152.97" r="1.35" fill="#0e4e8e"/><circle cx="111.38" cy="160.29" r="1.35" fill="#0e4e8e"/><circle cx="114.85" cy="159.39" r="1.35" fill="#0e4e8e"/><circle cx="112.84" cy="167.31" r="1.35" fill="#0e4e8e"/><circle cx="113.3" cy="142.2" r="1.35" fill="#0e4e8e"/><line x1="124.1" y1="169" x2="124.1" y2="175" stroke="#d2123d" stroke-width="0.75"/><line x1="122.3" y1="169" x2="125.9" y2="169" stroke="#d2123d" stroke-width="0.75"/><rect x="123.17" y="170.18" width="2.6" height="2.6" fill="#d2123d"/><rect x="122.45" y="173.9" width="2.6" height="2.6" fill="#d2123d"/><rect x="125.41" y="166.74" width="2.6" height="2.6" fill="#d2123d"/><rect x="123.79" y="173.69" width="2.6" height="2.6" fill="#d2123d"/><rect x="124.38" y="166.76" width="2.6" height="2.6" fill="#d2123d"/><rect x="125.23" y="172.79" width="2.6" height="2.6" fill="#d2123d"/><rect x="125.31" y="167.81" width="2.6" height="2.6" fill="#d2123d"/><rect x="125.6" y="178.78" width="2.6" height="2.6" fill="#d2123d"/><rect x="122.74" y="172.36" width="2.6" height="2.6" fill="#d2123d"/><rect x="125.54" y="175.03" width="2.6" height="2.6" fill="#d2123d"/><rect x="124.11" y="169.83" width="2.6" height="2.6" fill="#d2123d"/><rect x="121.86" y="170.23" width="2.6" height="2.6" fill="#d2123d"/><rect x="125.38" y="170.59" width="2.6" height="2.6" fill="#d2123d"/><rect x="125.34" y="172.85" width="2.6" height="2.6" fill="#d2123d"/><rect x="122.15" y="167.29" width="2.6" height="2.6" fill="#d2123d"/><rect x="124.44" y="167" width="2.6" height="2.6" fill="#d2123d"/><rect x="123.18" y="172.62" width="2.6" height="2.6" fill="#d2123d"/><rect x="121.88" y="175.38" width="2.6" height="2.6" fill="#d2123d"/><line x1="38.5" y1="128.6" x2="38.5" y2="184" stroke="#1e1e1e" stroke-width="1"/><line x1="38" y1="183.5" x2="133" y2="183.5" stroke="#1e1e1e" stroke-width="1"/><line x1="35.5" y1="183.5" x2="38.5" y2="183.5" stroke="#1e1e1e" stroke-width="1"/><text class="tk" transform="translate(32.3 186.2) scale(0.82 1)" font-size="8.8" text-anchor="end" font-weight="normal" fill="#141414"><tspan>0.0</tspan></text><line x1="35.5" y1="172.5" x2="38.5" y2="172.5" stroke="#1e1e1e" stroke-width="1"/><text class="tk" transform="translate(32.3 175.3) scale(0.82 1)" font-size="8.8" text-anchor="end" font-weight="normal" fill="#141414"><tspan>0.5</tspan></text><line x1="35.5" y1="161.5" x2="38.5" y2="161.5" stroke="#1e1e1e" stroke-width="1"/><text class="tk" transform="translate(32.3 164.4) scale(0.82 1)" font-size="8.8" text-anchor="end" font-weight="normal" fill="#141414"><tspan>1.0</tspan></text><line x1="35.5" y1="150.5" x2="38.5" y2="150.5" stroke="#1e1e1e" stroke-width="1"/><text class="tk" transform="translate(32.3 153.5) scale(0.82 1)" font-size="8.8" text-anchor="end" font-weight="normal" fill="#141414"><tspan>1.5</tspan></text><line x1="35.5" y1="139.5" x2="38.5" y2="139.5" stroke="#1e1e1e" stroke-width="1"/><text class="tk" transform="translate(32.3 142.6) scale(0.82 1)" font-size="8.8" text-anchor="end" font-weight="normal" fill="#141414"><tspan>2.0</tspan></text><line x1="35.5" y1="128.5" x2="38.5" y2="128.5" stroke="#1e1e1e" stroke-width="1"/><text class="tk" transform="translate(32.3 131.7) scale(0.82 1)" font-size="8.8" text-anchor="end" font-weight="normal" fill="#141414"><tspan>2.5</tspan></text><line x1="52.5" y1="183.5" x2="52.5" y2="185.9" stroke="#1e1e1e" stroke-width="0.9"/><line x1="85.5" y1="183.5" x2="85.5" y2="185.9" stroke="#1e1e1e" stroke-width="0.9"/><line x1="118.5" y1="183.5" x2="118.5" y2="185.9" stroke="#1e1e1e" stroke-width="0.9"/><text x="52.5" y="196.2" font-size="8.7" text-anchor="middle" font-weight="normal" fill="#141414" textLength="24.3" lengthAdjust="spacingAndGlyphs"><tspan>Spleen</tspan></text><text x="85.3" y="196.2" font-size="8.7" text-anchor="middle" font-weight="normal" fill="#141414" textLength="5.4" lengthAdjust="spacingAndGlyphs"><tspan>SI</tspan></text><text x="118.1" y="196.2" font-size="8.7" text-anchor="middle" font-weight="normal" fill="#141414" textLength="21" lengthAdjust="spacingAndGlyphs"><tspan>Colon</tspan></text><line x1="47.3" y1="129.5" x2="57.7" y2="129.5" stroke="#222" stroke-width="1"/><polygon points="52.5,122.05 53.12,123.35 54.54,123.54 53.5,124.52 53.76,125.94 52.5,125.25 51.24,125.94 51.5,124.52 50.46,123.54 51.88,123.35" fill="#111"/><line x1="79.3" y1="157.5" x2="91.3" y2="157.5" stroke="#222" stroke-width="1"/><polygon points="79.3,148.65 79.92,149.95 81.34,150.14 80.3,151.12 80.56,152.54 79.3,151.85 78.04,152.54 78.3,151.12 77.26,150.14 78.68,149.95" fill="#111"/><polygon points="83.3,148.65 83.92,149.95 85.34,150.14 84.3,151.12 84.56,152.54 83.3,151.85 82.04,152.54 82.3,151.12 81.26,150.14 82.68,149.95" fill="#111"/><polygon points="87.3,148.65 87.92,149.95 89.34,150.14 88.3,151.12 88.56,152.54 87.3,151.85 86.04,152.54 86.3,151.12 85.26,150.14 86.68,149.95" fill="#111"/><polygon points="91.3,148.65 91.92,149.95 93.34,150.14 92.3,151.12 92.56,152.54 91.3,151.85 90.04,152.54 90.3,151.12 89.26,150.14 90.68,149.95" fill="#111"/><line x1="112.9" y1="138.5" x2="123.3" y2="138.5" stroke="#222" stroke-width="1"/><polygon points="114.1,132.75 114.72,134.05 116.14,134.24 115.1,135.22 115.36,136.64 114.1,135.95 112.84,136.64 113.1,135.22 112.06,134.24 113.48,134.05" fill="#111"/><polygon points="118.1,132.75 118.72,134.05 120.14,134.24 119.1,135.22 119.36,136.64 118.1,135.95 116.84,136.64 117.1,135.22 116.06,134.24 117.48,134.05" fill="#111"/><polygon points="122.1,132.75 122.72,134.05 124.14,134.24 123.1,135.22 123.36,136.64 122.1,135.95 120.84,136.64 121.1,135.22 120.06,134.24 121.48,134.05" fill="#111"/><text transform="translate(16.2 155) rotate(-90)" x="0" y="0" font-size="9.8" text-anchor="middle" font-weight="normal" fill="#141414" textLength="61.7" lengthAdjust="spacingAndGlyphs"><tspan>CD4</tspan><tspan dy="-3.53" font-size="5.2">+</tspan><tspan dy="3.53"> T cells (×10</tspan><tspan dy="-3.53" font-size="5.2">5</tspan><tspan dy="3.53">)</tspan></text><rect x="168.3" y="134.7" width="7.4" height="48.6" fill="#6893bb" stroke="#5584b2" stroke-width="0.6"/><rect x="167.5" y="144.1" width="9" height="4.7" fill="#ffffff"/><rect x="180.3" y="138.1" width="7.4" height="45.2" fill="#de6f83" stroke="#d9566f" stroke-width="0.6"/><line x1="172" y1="132.9" x2="172" y2="135.9" stroke="#0e4e8e" stroke-width="0.75"/><line x1="170.2" y1="132.9" x2="173.8" y2="132.9" stroke="#0e4e8e" stroke-width="0.75"/><circle cx="173.88" cy="133.54" r="1.35" fill="#0e4e8e"/><circle cx="172.4" cy="136.68" r="1.35" fill="#0e4e8e"/><circle cx="174.61" cy="135.05" r="1.35" fill="#0e4e8e"/><circle cx="174.66" cy="136.77" r="1.35" fill="#0e4e8e"/><circle cx="174.42" cy="133.92" r="1.35" fill="#0e4e8e"/><line x1="184" y1="136.8" x2="184" y2="138.8" stroke="#d2123d" stroke-width="0.75"/><line x1="182.2" y1="136.8" x2="185.8" y2="136.8" stroke="#d2123d" stroke-width="0.75"/><rect x="184.64" y="136.53" width="2.6" height="2.6" fill="#d2123d"/><rect x="182.05" y="137.49" width="2.6" height="2.6" fill="#d2123d"/><rect x="184.45" y="137.73" width="2.6" height="2.6" fill="#d2123d"/><rect x="183.72" y="136.13" width="2.6" height="2.6" fill="#d2123d"/><rect x="183.75" y="138.34" width="2.6" height="2.6" fill="#d2123d"/><rect x="201.1" y="162.4" width="7.4" height="20.9" fill="#6893bb" stroke="#5584b2" stroke-width="0.6"/><rect x="213.1" y="179" width="7.4" height="4.3" fill="#de6f83" stroke="#d9566f" stroke-width="0.6"/><line x1="204.8" y1="154.2" x2="204.8" y2="170" stroke="#0e4e8e" stroke-width="0.75"/><line x1="203" y1="154.2" x2="206.6" y2="154.2" stroke="#0e4e8e" stroke-width="0.75"/><circle cx="202.6" cy="155" r="1.35" fill="#0e4e8e"/><circle cx="204.8" cy="154.4" r="1.35" fill="#0e4e8e"/><circle cx="207" cy="155.6" r="1.35" fill="#0e4e8e"/><circle cx="204.8" cy="164.3" r="1.35" fill="#0e4e8e"/><circle cx="204.8" cy="174.5" r="1.35" fill="#0e4e8e"/><line x1="216.8" y1="177.7" x2="216.8" y2="179.7" stroke="#d2123d" stroke-width="0.75"/><line x1="215" y1="177.7" x2="218.6" y2="177.7" stroke="#d2123d" stroke-width="0.75"/><rect x="216.12" y="177.67" width="2.6" height="2.6" fill="#d2123d"/><rect x="213.9" y="178.65" width="2.6" height="2.6" fill="#d2123d"/><rect x="213.76" y="178.55" width="2.6" height="2.6" fill="#d2123d"/><rect x="212.57" y="176.5" width="2.6" height="2.6" fill="#d2123d"/><rect x="217.22" y="179.33" width="2.6" height="2.6" fill="#d2123d"/><rect x="233.9" y="175.7" width="7.4" height="7.6" fill="#6893bb" stroke="#5584b2" stroke-width="0.6"/><rect x="245.9" y="180.3" width="7.4" height="3" fill="#de6f83" stroke="#d9566f" stroke-width="0.6"/><line x1="237.6" y1="170.2" x2="237.6" y2="180.6" stroke="#0e4e8e" stroke-width="0.75"/><line x1="235.8" y1="170.2" x2="239.4" y2="170.2" stroke="#0e4e8e" stroke-width="0.75"/><circle cx="237.6" cy="166.2" r="1.35" fill="#0e4e8e"/><circle cx="235.6" cy="176" r="1.35" fill="#0e4e8e"/><circle cx="238.6" cy="178" r="1.35" fill="#0e4e8e"/><circle cx="239.8" cy="179.5" r="1.35" fill="#0e4e8e"/><circle cx="236.6" cy="181" r="1.35" fill="#0e4e8e"/><line x1="249.6" y1="179" x2="249.6" y2="181" stroke="#d2123d" stroke-width="0.75"/><line x1="247.8" y1="179" x2="251.4" y2="179" stroke="#d2123d" stroke-width="0.75"/><rect x="250.49" y="177.73" width="2.6" height="2.6" fill="#d2123d"/><rect x="248.26" y="177.28" width="2.6" height="2.6" fill="#d2123d"/><rect x="250.41" y="177.6" width="2.6" height="2.6" fill="#d2123d"/><rect x="247.99" y="178.78" width="2.6" height="2.6" fill="#d2123d"/><rect x="246.05" y="177.71" width="2.6" height="2.6" fill="#d2123d"/><line x1="163.5" y1="129.3" x2="163.5" y2="144.3" stroke="#1e1e1e" stroke-width="1"/><line x1="163.5" y1="148.8" x2="163.5" y2="184" stroke="#1e1e1e" stroke-width="1"/><line x1="161.9" y1="144.3" x2="165.3" y2="144.3" stroke="#1e1e1e" stroke-width="0.9"/><line x1="161.9" y1="148.8" x2="165.3" y2="148.8" stroke="#1e1e1e" stroke-width="0.9"/><line x1="163" y1="183.5" x2="254.5" y2="183.5" stroke="#1e1e1e" stroke-width="1"/><line x1="160.5" y1="129.5" x2="163.5" y2="129.5" stroke="#1e1e1e" stroke-width="1"/><text class="tk" transform="translate(157.3 132.4) scale(0.82 1)" font-size="8.8" text-anchor="end" font-weight="normal" fill="#141414"><tspan>3.0</tspan></text><line x1="160.5" y1="137.5" x2="163.5" y2="137.5" stroke="#1e1e1e" stroke-width="1"/><text class="tk" transform="translate(157.3 140.95) scale(0.82 1)" font-size="8.8" text-anchor="end" font-weight="normal" fill="#141414"><tspan>1.5</tspan></text><line x1="160.5" y1="149.5" x2="163.5" y2="149.5" stroke="#1e1e1e" stroke-width="1"/><text class="tk" transform="translate(157.3 152.35) scale(0.82 1)" font-size="8.8" text-anchor="end" font-weight="normal" fill="#141414"><tspan>0.4</tspan></text><line x1="160.5" y1="158.5" x2="163.5" y2="158.5" stroke="#1e1e1e" stroke-width="1"/><text class="tk" transform="translate(157.3 161.1) scale(0.82 1)" font-size="8.8" text-anchor="end" font-weight="normal" fill="#141414"><tspan>0.3</tspan></text><line x1="160.5" y1="166.5" x2="163.5" y2="166.5" stroke="#1e1e1e" stroke-width="1"/><text class="tk" transform="translate(157.3 169.5) scale(0.82 1)" font-size="8.8" text-anchor="end" font-weight="normal" fill="#141414"><tspan>0.2</tspan></text><line x1="160.5" y1="174.5" x2="163.5" y2="174.5" stroke="#1e1e1e" stroke-width="1"/><text class="tk" transform="translate(157.3 177.9) scale(0.82 1)" font-size="8.8" text-anchor="end" font-weight="normal" fill="#141414"><tspan>0.1</tspan></text><line x1="160.5" y1="183.5" x2="163.5" y2="183.5" stroke="#1e1e1e" stroke-width="1"/><text class="tk" transform="translate(157.3 186.4) scale(0.82 1)" font-size="8.8" text-anchor="end" font-weight="normal" fill="#141414"><tspan>0</tspan></text><line x1="178.5" y1="183.5" x2="178.5" y2="185.9" stroke="#1e1e1e" stroke-width="0.9"/><line x1="210.5" y1="183.5" x2="210.5" y2="185.9" stroke="#1e1e1e" stroke-width="0.9"/><line x1="243.5" y1="183.5" x2="243.5" y2="185.9" stroke="#1e1e1e" stroke-width="0.9"/><text x="178" y="196.2" font-size="8.7" text-anchor="middle" font-weight="normal" fill="#141414" textLength="24.3" lengthAdjust="spacingAndGlyphs"><tspan>Spleen</tspan></text><text x="210.8" y="196.2" font-size="8.7" text-anchor="middle" font-weight="normal" fill="#141414" textLength="5.4" lengthAdjust="spacingAndGlyphs"><tspan>SI</tspan></text><text x="243.6" y="196.2" font-size="8.7" text-anchor="middle" font-weight="normal" fill="#141414" textLength="21" lengthAdjust="spacingAndGlyphs"><tspan>Colon</tspan></text><line x1="172.8" y1="129.5" x2="183.2" y2="129.5" stroke="#222" stroke-width="1"/><polygon points="176,122.55 176.62,123.85 178.04,124.04 177,125.02 177.26,126.44 176,125.75 174.74,126.44 175,125.02 173.96,124.04 175.38,123.85" fill="#111"/><polygon points="180,122.55 180.62,123.85 182.04,124.04 181,125.02 181.26,126.44 180,125.75 178.74,126.44 179,125.02 177.96,124.04 179.38,123.85" fill="#111"/><line x1="205.6" y1="147.5" x2="216" y2="147.5" stroke="#222" stroke-width="1"/><polygon points="208.8,140.25 209.42,141.55 210.84,141.74 209.8,142.72 210.06,144.14 208.8,143.45 207.54,144.14 207.8,142.72 206.76,141.74 208.18,141.55" fill="#111"/><polygon points="212.8,140.25 213.42,141.55 214.84,141.74 213.8,142.72 214.06,144.14 212.8,143.45 211.54,144.14 211.8,142.72 210.76,141.74 212.18,141.55" fill="#111"/><line x1="238.4" y1="157.5" x2="248.8" y2="157.5" stroke="#222" stroke-width="1"/><polygon points="243.6,150.25 244.22,151.55 245.64,151.74 244.6,152.72 244.86,154.14 243.6,153.45 242.34,154.14 242.6,152.72 241.56,151.74 242.98,151.55" fill="#111"/><text transform="translate(143.8 155.8) rotate(-90)" x="0" y="0" font-size="9.8" text-anchor="middle" font-weight="normal" fill="#141414" textLength="63.3" lengthAdjust="spacingAndGlyphs"><tspan>CD4</tspan><tspan dy="-3.53" font-size="5.2">+</tspan><tspan dy="3.53"> T cells (×10</tspan><tspan dy="-3.53" font-size="5.2">5</tspan><tspan dy="3.53">)</tspan></text><rect x="294.7" y="68.9" width="7.4" height="27.25" fill="#6893bb" stroke="#5584b2" stroke-width="0.6"/><rect x="306.7" y="74.4" width="7.4" height="21.75" fill="#de6f83" stroke="#d9566f" stroke-width="0.6"/><line x1="298.4" y1="58.6" x2="298.4" y2="78.6" stroke="#0e4e8e" stroke-width="0.75"/><line x1="296.6" y1="58.6" x2="300.2" y2="58.6" stroke="#0e4e8e" stroke-width="0.75"/><circle cx="298.87" cy="76.83" r="1.35" fill="#0e4e8e"/><circle cx="297.66" cy="67.92" r="1.35" fill="#0e4e8e"/><circle cx="298.83" cy="71.92" r="1.35" fill="#0e4e8e"/><circle cx="300.15" cy="58.67" r="1.35" fill="#0e4e8e"/><circle cx="297.79" cy="78.83" r="1.35" fill="#0e4e8e"/><circle cx="297.17" cy="69.77" r="1.35" fill="#0e4e8e"/><circle cx="298.09" cy="72.41" r="1.35" fill="#0e4e8e"/><circle cx="297.25" cy="66.48" r="1.35" fill="#0e4e8e"/><circle cx="300.74" cy="72.42" r="1.35" fill="#0e4e8e"/><circle cx="297.62" cy="72.87" r="1.35" fill="#0e4e8e"/><circle cx="297.41" cy="78.39" r="1.35" fill="#0e4e8e"/><circle cx="296.5" cy="63.33" r="1.35" fill="#0e4e8e"/><circle cx="300" cy="69.84" r="1.35" fill="#0e4e8e"/><circle cx="300.74" cy="69.28" r="1.35" fill="#0e4e8e"/><circle cx="300.7" cy="85.78" r="1.35" fill="#0e4e8e"/><circle cx="299" cy="62.05" r="1.35" fill="#0e4e8e"/><circle cx="298.71" cy="72.54" r="1.35" fill="#0e4e8e"/><circle cx="300.64" cy="75.31" r="1.35" fill="#0e4e8e"/><line x1="310.4" y1="63.6" x2="310.4" y2="84.6" stroke="#d2123d" stroke-width="0.75"/><line x1="308.6" y1="63.6" x2="312.2" y2="63.6" stroke="#d2123d" stroke-width="0.75"/><rect x="307.55" y="61.87" width="2.6" height="2.6" fill="#d2123d"/><rect x="310.94" y="59.69" width="2.6" height="2.6" fill="#d2123d"/><rect x="310.41" y="66.84" width="2.6" height="2.6" fill="#d2123d"/><rect x="308.21" y="82.67" width="2.6" height="2.6" fill="#d2123d"/><rect x="308.34" y="85.51" width="2.6" height="2.6" fill="#d2123d"/><rect x="306.22" y="68.4" width="2.6" height="2.6" fill="#d2123d"/><rect x="308.84" y="73.17" width="2.6" height="2.6" fill="#d2123d"/><rect x="310.15" y="64.4" width="2.6" height="2.6" fill="#d2123d"/><rect x="308.46" y="78.99" width="2.6" height="2.6" fill="#d2123d"/><rect x="306.27" y="69.24" width="2.6" height="2.6" fill="#d2123d"/><rect x="306.81" y="77.2" width="2.6" height="2.6" fill="#d2123d"/><rect x="309.09" y="67.4" width="2.6" height="2.6" fill="#d2123d"/><rect x="307" y="70.18" width="2.6" height="2.6" fill="#d2123d"/><rect x="310.76" y="73.7" width="2.6" height="2.6" fill="#d2123d"/><rect x="311.71" y="69.65" width="2.6" height="2.6" fill="#d2123d"/><rect x="310.96" y="85.65" width="2.6" height="2.6" fill="#d2123d"/><rect x="307.13" y="68.38" width="2.6" height="2.6" fill="#d2123d"/><rect x="310.42" y="64.43" width="2.6" height="2.6" fill="#d2123d"/><rect x="327.4" y="72.3" width="7.4" height="23.85" fill="#6893bb" stroke="#5584b2" stroke-width="0.6"/><rect x="339.4" y="77.3" width="7.4" height="18.85" fill="#de6f83" stroke="#d9566f" stroke-width="0.6"/><line x1="331.1" y1="66" x2="331.1" y2="78" stroke="#0e4e8e" stroke-width="0.75"/><line x1="329.3" y1="66" x2="332.9" y2="66" stroke="#0e4e8e" stroke-width="0.75"/><circle cx="332.68" cy="67.26" r="1.35" fill="#0e4e8e"/><circle cx="330.54" cy="61.12" r="1.35" fill="#0e4e8e"/><circle cx="333.26" cy="73.09" r="1.35" fill="#0e4e8e"/><circle cx="333.5" cy="66.66" r="1.35" fill="#0e4e8e"/><circle cx="329.05" cy="64.07" r="1.35" fill="#0e4e8e"/><circle cx="332.43" cy="63.09" r="1.35" fill="#0e4e8e"/><circle cx="332.93" cy="65.92" r="1.35" fill="#0e4e8e"/><circle cx="331.15" cy="75.4" r="1.35" fill="#0e4e8e"/><circle cx="328.66" cy="60.47" r="1.35" fill="#0e4e8e"/><circle cx="332.86" cy="76.81" r="1.35" fill="#0e4e8e"/><circle cx="331.35" cy="77.91" r="1.35" fill="#0e4e8e"/><circle cx="332.07" cy="64.4" r="1.35" fill="#0e4e8e"/><circle cx="331.96" cy="75.97" r="1.35" fill="#0e4e8e"/><circle cx="331.33" cy="60.38" r="1.35" fill="#0e4e8e"/><circle cx="330.8" cy="69.21" r="1.35" fill="#0e4e8e"/><circle cx="328.26" cy="69.53" r="1.35" fill="#0e4e8e"/><circle cx="329.19" cy="64.74" r="1.35" fill="#0e4e8e"/><circle cx="329.34" cy="73.46" r="1.35" fill="#0e4e8e"/><line x1="343.1" y1="69" x2="343.1" y2="85" stroke="#d2123d" stroke-width="0.75"/><line x1="341.3" y1="69" x2="344.9" y2="69" stroke="#d2123d" stroke-width="0.75"/><rect x="340.26" y="80.9" width="2.6" height="2.6" fill="#d2123d"/><rect x="343.26" y="79.92" width="2.6" height="2.6" fill="#d2123d"/><rect x="343.87" y="78.26" width="2.6" height="2.6" fill="#d2123d"/><rect x="339.29" y="79.88" width="2.6" height="2.6" fill="#d2123d"/><rect x="339.25" y="65.31" width="2.6" height="2.6" fill="#d2123d"/><rect x="339.4" y="80.28" width="2.6" height="2.6" fill="#d2123d"/><rect x="339.01" y="62.96" width="2.6" height="2.6" fill="#d2123d"/><rect x="344.73" y="60.14" width="2.6" height="2.6" fill="#d2123d"/><rect x="342.39" y="58.36" width="2.6" height="2.6" fill="#d2123d"/><rect x="341.08" y="60.34" width="2.6" height="2.6" fill="#d2123d"/><rect x="339.25" y="80.01" width="2.6" height="2.6" fill="#d2123d"/><rect x="340.5" y="78.3" width="2.6" height="2.6" fill="#d2123d"/><rect x="342.11" y="68.22" width="2.6" height="2.6" fill="#d2123d"/><rect x="341.94" y="82.24" width="2.6" height="2.6" fill="#d2123d"/><rect x="339.52" y="68.04" width="2.6" height="2.6" fill="#d2123d"/><rect x="339.47" y="59.55" width="2.6" height="2.6" fill="#d2123d"/><rect x="340.98" y="77.78" width="2.6" height="2.6" fill="#d2123d"/><rect x="344.55" y="79.79" width="2.6" height="2.6" fill="#d2123d"/><rect x="360.1" y="64" width="7.4" height="32.15" fill="#6893bb" stroke="#5584b2" stroke-width="0.6"/><rect x="372.1" y="70.3" width="7.4" height="25.85" fill="#de6f83" stroke="#d9566f" stroke-width="0.6"/><line x1="363.8" y1="57.7" x2="363.8" y2="69.7" stroke="#0e4e8e" stroke-width="0.75"/><line x1="362" y1="57.7" x2="365.6" y2="57.7" stroke="#0e4e8e" stroke-width="0.75"/><circle cx="365.98" cy="66.18" r="1.35" fill="#0e4e8e"/><circle cx="363.22" cy="63.42" r="1.35" fill="#0e4e8e"/><circle cx="365.35" cy="68.61" r="1.35" fill="#0e4e8e"/><circle cx="366.11" cy="69.43" r="1.35" fill="#0e4e8e"/><circle cx="364.41" cy="63.87" r="1.35" fill="#0e4e8e"/><circle cx="366.69" cy="71.04" r="1.35" fill="#0e4e8e"/><circle cx="362.76" cy="67.19" r="1.35" fill="#0e4e8e"/><circle cx="362.08" cy="63.35" r="1.35" fill="#0e4e8e"/><circle cx="363.79" cy="60.38" r="1.35" fill="#0e4e8e"/><circle cx="366.46" cy="66.79" r="1.35" fill="#0e4e8e"/><circle cx="364.97" cy="62.16" r="1.35" fill="#0e4e8e"/><circle cx="365.47" cy="60.6" r="1.35" fill="#0e4e8e"/><circle cx="366.69" cy="62.81" r="1.35" fill="#0e4e8e"/><circle cx="365.69" cy="68.4" r="1.35" fill="#0e4e8e"/><circle cx="364.96" cy="69.38" r="1.35" fill="#0e4e8e"/><circle cx="365.29" cy="73.69" r="1.35" fill="#0e4e8e"/><circle cx="362.9" cy="62.83" r="1.35" fill="#0e4e8e"/><circle cx="361.46" cy="63.62" r="1.35" fill="#0e4e8e"/><line x1="375.8" y1="62" x2="375.8" y2="78" stroke="#d2123d" stroke-width="0.75"/><line x1="374" y1="62" x2="377.6" y2="62" stroke="#d2123d" stroke-width="0.75"/><rect x="373.01" y="80.31" width="2.6" height="2.6" fill="#d2123d"/><rect x="377.38" y="73.56" width="2.6" height="2.6" fill="#d2123d"/><rect x="377.32" y="76.1" width="2.6" height="2.6" fill="#d2123d"/><rect x="373.36" y="72.64" width="2.6" height="2.6" fill="#d2123d"/><rect x="372.27" y="60.82" width="2.6" height="2.6" fill="#d2123d"/><rect x="375.53" y="63.27" width="2.6" height="2.6" fill="#d2123d"/><rect x="371.97" y="71.65" width="2.6" height="2.6" fill="#d2123d"/><rect x="375.89" y="55.08" width="2.6" height="2.6" fill="#d2123d"/><rect x="371.52" y="79.89" width="2.6" height="2.6" fill="#d2123d"/><rect x="371.87" y="76.7" width="2.6" height="2.6" fill="#d2123d"/><rect x="374.82" y="73" width="2.6" height="2.6" fill="#d2123d"/><rect x="376.43" y="81.39" width="2.6" height="2.6" fill="#d2123d"/><rect x="376.53" y="72.46" width="2.6" height="2.6" fill="#d2123d"/><rect x="376.06" y="70.04" width="2.6" height="2.6" fill="#d2123d"/><rect x="374.57" y="65.16" width="2.6" height="2.6" fill="#d2123d"/><rect x="375.24" y="67.92" width="2.6" height="2.6" fill="#d2123d"/><rect x="377.33" y="69.16" width="2.6" height="2.6" fill="#d2123d"/><rect x="372.44" y="53.74" width="2.6" height="2.6" fill="#d2123d"/><line x1="290.5" y1="39.6" x2="290.5" y2="97" stroke="#1e1e1e" stroke-width="1"/><line x1="290" y1="96.5" x2="385" y2="96.5" stroke="#1e1e1e" stroke-width="1"/><line x1="287.5" y1="96.5" x2="290.5" y2="96.5" stroke="#1e1e1e" stroke-width="1"/><text class="tk" transform="translate(284.3 99.25) scale(0.82 1)" font-size="8.8" text-anchor="end" font-weight="normal" fill="#141414"><tspan>0</tspan></text><line x1="287.5" y1="84.5" x2="290.5" y2="84.5" stroke="#1e1e1e" stroke-width="1"/><text class="tk" transform="translate(284.3 87.94) scale(0.82 1)" font-size="8.8" text-anchor="end" font-weight="normal" fill="#141414"><tspan>20</tspan></text><line x1="287.5" y1="73.5" x2="290.5" y2="73.5" stroke="#1e1e1e" stroke-width="1"/><text class="tk" transform="translate(284.3 76.63) scale(0.82 1)" font-size="8.8" text-anchor="end" font-weight="normal" fill="#141414"><tspan>40</tspan></text><line x1="287.5" y1="62.5" x2="290.5" y2="62.5" stroke="#1e1e1e" stroke-width="1"/><text class="tk" transform="translate(284.3 65.32) scale(0.82 1)" font-size="8.8" text-anchor="end" font-weight="normal" fill="#141414"><tspan>60</tspan></text><line x1="287.5" y1="50.5" x2="290.5" y2="50.5" stroke="#1e1e1e" stroke-width="1"/><text class="tk" transform="translate(284.3 54.01) scale(0.82 1)" font-size="8.8" text-anchor="end" font-weight="normal" fill="#141414"><tspan>80</tspan></text><line x1="287.5" y1="39.5" x2="290.5" y2="39.5" stroke="#1e1e1e" stroke-width="1"/><text class="tk" transform="translate(284.3 42.7) scale(0.82 1)" font-size="8.8" text-anchor="end" font-weight="normal" fill="#141414"><tspan>100</tspan></text><line x1="304.5" y1="96.5" x2="304.5" y2="98.9" stroke="#1e1e1e" stroke-width="0.9"/><line x1="337.5" y1="96.5" x2="337.5" y2="98.9" stroke="#1e1e1e" stroke-width="0.9"/><line x1="369.5" y1="96.5" x2="369.5" y2="98.9" stroke="#1e1e1e" stroke-width="0.9"/><text x="304.4" y="109.2" font-size="8.7" text-anchor="middle" font-weight="normal" fill="#141414" textLength="24.3" lengthAdjust="spacingAndGlyphs"><tspan>Spleen</tspan></text><text x="337.1" y="109.2" font-size="8.7" text-anchor="middle" font-weight="normal" fill="#141414" textLength="5.4" lengthAdjust="spacingAndGlyphs"><tspan>SI</tspan></text><text x="369.8" y="109.2" font-size="8.7" text-anchor="middle" font-weight="normal" fill="#141414" textLength="21" lengthAdjust="spacingAndGlyphs"><tspan>Colon</tspan></text><line x1="331.9" y1="48.5" x2="342.3" y2="48.5" stroke="#222" stroke-width="1"/><polygon points="337.1,41.95 337.72,43.25 339.14,43.44 338.1,44.42 338.36,45.84 337.1,45.15 335.84,45.84 336.1,44.42 335.06,43.44 336.48,43.25" fill="#111"/><line x1="364.6" y1="48.5" x2="375" y2="48.5" stroke="#222" stroke-width="1"/><polygon points="369.8,41.95 370.42,43.25 371.84,43.44 370.8,44.42 371.06,45.84 369.8,45.15 368.54,45.84 368.8,44.42 367.76,43.44 369.18,43.25" fill="#111"/><text transform="translate(270.7 68.1) rotate(-90)" x="0" y="0" font-size="9.8" text-anchor="middle" font-weight="normal" fill="#141414" textLength="72" lengthAdjust="spacingAndGlyphs"><tspan>% CD4</tspan><tspan dy="-3.53" font-size="5.2">+</tspan><tspan dy="3.53">CD44</tspan><tspan dy="-3.53" font-size="5.2">+</tspan><tspan dy="3.53">CD62L</tspan><tspan dy="-3.53" font-size="5.2">−</tspan></text><rect x="424.3" y="46" width="7.4" height="50.15" fill="#6893bb" stroke="#5584b2" stroke-width="0.6"/><rect x="436.3" y="67.3" width="7.4" height="28.85" fill="#de6f83" stroke="#d9566f" stroke-width="0.6"/><line x1="428" y1="43.7" x2="428" y2="47.7" stroke="#0e4e8e" stroke-width="0.75"/><line x1="426.2" y1="43.7" x2="429.8" y2="43.7" stroke="#0e4e8e" stroke-width="0.75"/><circle cx="427.64" cy="47.73" r="1.35" fill="#0e4e8e"/><circle cx="430.74" cy="44.9" r="1.35" fill="#0e4e8e"/><circle cx="427.66" cy="47.84" r="1.35" fill="#0e4e8e"/><circle cx="430.48" cy="44.7" r="1.35" fill="#0e4e8e"/><circle cx="425.06" cy="44.64" r="1.35" fill="#0e4e8e"/><line x1="440" y1="59.5" x2="440" y2="74.5" stroke="#d2123d" stroke-width="0.75"/><line x1="438.2" y1="59.5" x2="441.8" y2="59.5" stroke="#d2123d" stroke-width="0.75"/><rect x="440.11" y="69.83" width="2.6" height="2.6" fill="#d2123d"/><rect x="436.35" y="76.68" width="2.6" height="2.6" fill="#d2123d"/><rect x="440.9" y="64.33" width="2.6" height="2.6" fill="#d2123d"/><rect x="439.69" y="69.78" width="2.6" height="2.6" fill="#d2123d"/><rect x="439.27" y="58.21" width="2.6" height="2.6" fill="#d2123d"/><rect x="456.9" y="62.3" width="7.4" height="33.85" fill="#6893bb" stroke="#5584b2" stroke-width="0.6"/><rect x="468.9" y="71.5" width="7.4" height="24.65" fill="#de6f83" stroke="#d9566f" stroke-width="0.6"/><line x1="460.6" y1="58" x2="460.6" y2="66" stroke="#0e4e8e" stroke-width="0.75"/><line x1="458.8" y1="58" x2="462.4" y2="58" stroke="#0e4e8e" stroke-width="0.75"/><circle cx="463.54" cy="58.47" r="1.35" fill="#0e4e8e"/><circle cx="459.76" cy="63.27" r="1.35" fill="#0e4e8e"/><circle cx="461.69" cy="66.17" r="1.35" fill="#0e4e8e"/><circle cx="462.67" cy="63.55" r="1.35" fill="#0e4e8e"/><circle cx="462.45" cy="60.05" r="1.35" fill="#0e4e8e"/><line x1="472.6" y1="68.2" x2="472.6" y2="74.2" stroke="#d2123d" stroke-width="0.75"/><line x1="470.8" y1="68.2" x2="474.4" y2="68.2" stroke="#d2123d" stroke-width="0.75"/><rect x="472.07" y="68.22" width="2.6" height="2.6" fill="#d2123d"/><rect x="468.54" y="71.97" width="2.6" height="2.6" fill="#d2123d"/><rect x="471.07" y="69.28" width="2.6" height="2.6" fill="#d2123d"/><rect x="474.18" y="66.9" width="2.6" height="2.6" fill="#d2123d"/><rect x="469.29" y="70.11" width="2.6" height="2.6" fill="#d2123d"/><rect x="489.5" y="47.8" width="7.4" height="48.35" fill="#6893bb" stroke="#5584b2" stroke-width="0.6"/><rect x="501.5" y="61" width="7.4" height="35.15" fill="#de6f83" stroke="#d9566f" stroke-width="0.6"/><line x1="493.2" y1="45.5" x2="493.2" y2="49.5" stroke="#0e4e8e" stroke-width="0.75"/><line x1="491.4" y1="45.5" x2="495" y2="45.5" stroke="#0e4e8e" stroke-width="0.75"/><circle cx="493.85" cy="47.81" r="1.35" fill="#0e4e8e"/><circle cx="494.92" cy="49.33" r="1.35" fill="#0e4e8e"/><circle cx="493.11" cy="49.66" r="1.35" fill="#0e4e8e"/><circle cx="491.96" cy="48.79" r="1.35" fill="#0e4e8e"/><circle cx="490.86" cy="48.59" r="1.35" fill="#0e4e8e"/><line x1="505.2" y1="47.7" x2="505.2" y2="73.7" stroke="#d2123d" stroke-width="0.75"/><line x1="503.4" y1="47.7" x2="507" y2="47.7" stroke="#d2123d" stroke-width="0.75"/><rect x="503.05" y="51.4" width="2.6" height="2.6" fill="#d2123d"/><rect x="506.13" y="78.12" width="2.6" height="2.6" fill="#d2123d"/><rect x="504.28" y="74.65" width="2.6" height="2.6" fill="#d2123d"/><rect x="503.58" y="49.4" width="2.6" height="2.6" fill="#d2123d"/><rect x="504.97" y="51.24" width="2.6" height="2.6" fill="#d2123d"/><line x1="419.5" y1="39.6" x2="419.5" y2="97" stroke="#1e1e1e" stroke-width="1"/><line x1="419" y1="96.5" x2="511.8" y2="96.5" stroke="#1e1e1e" stroke-width="1"/><line x1="416.5" y1="96.5" x2="419.5" y2="96.5" stroke="#1e1e1e" stroke-width="1"/><text class="tk" transform="translate(413.3 99.25) scale(0.82 1)" font-size="8.8" text-anchor="end" font-weight="normal" fill="#141414"><tspan>0</tspan></text><line x1="416.5" y1="84.5" x2="419.5" y2="84.5" stroke="#1e1e1e" stroke-width="1"/><text class="tk" transform="translate(413.3 87.94) scale(0.82 1)" font-size="8.8" text-anchor="end" font-weight="normal" fill="#141414"><tspan>20</tspan></text><line x1="416.5" y1="73.5" x2="419.5" y2="73.5" stroke="#1e1e1e" stroke-width="1"/><text class="tk" transform="translate(413.3 76.63) scale(0.82 1)" font-size="8.8" text-anchor="end" font-weight="normal" fill="#141414"><tspan>40</tspan></text><line x1="416.5" y1="62.5" x2="419.5" y2="62.5" stroke="#1e1e1e" stroke-width="1"/><text class="tk" transform="translate(413.3 65.32) scale(0.82 1)" font-size="8.8" text-anchor="end" font-weight="normal" fill="#141414"><tspan>60</tspan></text><line x1="416.5" y1="50.5" x2="419.5" y2="50.5" stroke="#1e1e1e" stroke-width="1"/><text class="tk" transform="translate(413.3 54.01) scale(0.82 1)" font-size="8.8" text-anchor="end" font-weight="normal" fill="#141414"><tspan>80</tspan></text><line x1="416.5" y1="39.5" x2="419.5" y2="39.5" stroke="#1e1e1e" stroke-width="1"/><text class="tk" transform="translate(413.3 42.7) scale(0.82 1)" font-size="8.8" text-anchor="end" font-weight="normal" fill="#141414"><tspan>100</tspan></text><line x1="434.5" y1="96.5" x2="434.5" y2="98.9" stroke="#1e1e1e" stroke-width="0.9"/><line x1="466.5" y1="96.5" x2="466.5" y2="98.9" stroke="#1e1e1e" stroke-width="0.9"/><line x1="499.5" y1="96.5" x2="499.5" y2="98.9" stroke="#1e1e1e" stroke-width="0.9"/><text x="434" y="109.2" font-size="8.7" text-anchor="middle" font-weight="normal" fill="#141414" textLength="24.3" lengthAdjust="spacingAndGlyphs"><tspan>Spleen</tspan></text><text x="466.6" y="109.2" font-size="8.7" text-anchor="middle" font-weight="normal" fill="#141414" textLength="5.4" lengthAdjust="spacingAndGlyphs"><tspan>SI</tspan></text><text x="499.2" y="109.2" font-size="8.7" text-anchor="middle" font-weight="normal" fill="#141414" textLength="21" lengthAdjust="spacingAndGlyphs"><tspan>Colon</tspan></text><line x1="428.8" y1="40.5" x2="439.2" y2="40.5" stroke="#222" stroke-width="1"/><polygon points="432,33.25 432.62,34.55 434.04,34.74 433,35.72 433.26,37.14 432,36.45 430.74,37.14 431,35.72 429.96,34.74 431.38,34.55" fill="#111"/><polygon points="436,33.25 436.62,34.55 438.04,34.74 437,35.72 437.26,37.14 436,36.45 434.74,37.14 435,35.72 433.96,34.74 435.38,34.55" fill="#111"/><line x1="461.4" y1="48.5" x2="471.8" y2="48.5" stroke="#222" stroke-width="1"/><polygon points="464.6,41.95 465.22,43.25 466.64,43.44 465.6,44.42 465.86,45.84 464.6,45.15 463.34,45.84 463.6,44.42 462.56,43.44 463.98,43.25" fill="#111"/><polygon points="468.6,41.95 469.22,43.25 470.64,43.44 469.6,44.42 469.86,45.84 468.6,45.15 467.34,45.84 467.6,44.42 466.56,43.44 467.98,43.25" fill="#111"/><line x1="494" y1="40.5" x2="504.4" y2="40.5" stroke="#222" stroke-width="1"/><polygon points="497.2,33.25 497.82,34.55 499.24,34.74 498.2,35.72 498.46,37.14 497.2,36.45 495.94,37.14 496.2,35.72 495.16,34.74 496.58,34.55" fill="#111"/><polygon points="501.2,33.25 501.82,34.55 503.24,34.74 502.2,35.72 502.46,37.14 501.2,36.45 499.94,37.14 500.2,35.72 499.16,34.74 500.58,34.55" fill="#111"/><text transform="translate(398.8 67.7) rotate(-90)" x="0" y="0" font-size="9.8" text-anchor="middle" font-weight="normal" fill="#141414" textLength="72" lengthAdjust="spacingAndGlyphs"><tspan>% CD4</tspan><tspan dy="-3.53" font-size="5.2">+</tspan><tspan dy="3.53">CD44</tspan><tspan dy="-3.53" font-size="5.2">+</tspan><tspan dy="3.53">CD62L</tspan><tspan dy="-3.53" font-size="5.2">−</tspan></text><rect x="296.1" y="156" width="7.4" height="27.75" fill="#6893bb" stroke="#5584b2" stroke-width="0.6"/><rect x="308.1" y="163.3" width="7.4" height="20.45" fill="#de6f83" stroke="#d9566f" stroke-width="0.6"/><line x1="299.8" y1="146.7" x2="299.8" y2="164.7" stroke="#0e4e8e" stroke-width="0.75"/><line x1="298" y1="146.7" x2="301.6" y2="146.7" stroke="#0e4e8e" stroke-width="0.75"/><circle cx="301" cy="159.29" r="1.35" fill="#0e4e8e"/><circle cx="301.81" cy="161.87" r="1.35" fill="#0e4e8e"/><circle cx="296.83" cy="148.43" r="1.35" fill="#0e4e8e"/><circle cx="301.85" cy="149.32" r="1.35" fill="#0e4e8e"/><circle cx="298.25" cy="161.16" r="1.35" fill="#0e4e8e"/><circle cx="298.81" cy="159.08" r="1.35" fill="#0e4e8e"/><circle cx="300.53" cy="160.01" r="1.35" fill="#0e4e8e"/><circle cx="300.48" cy="147.77" r="1.35" fill="#0e4e8e"/><circle cx="299.18" cy="151.26" r="1.35" fill="#0e4e8e"/><circle cx="297.34" cy="164.45" r="1.35" fill="#0e4e8e"/><circle cx="300.12" cy="151.88" r="1.35" fill="#0e4e8e"/><circle cx="301.82" cy="155.06" r="1.35" fill="#0e4e8e"/><circle cx="299.39" cy="166.09" r="1.35" fill="#0e4e8e"/><circle cx="299.62" cy="146.1" r="1.35" fill="#0e4e8e"/><circle cx="297.8" cy="139.13" r="1.35" fill="#0e4e8e"/><circle cx="302.04" cy="143.79" r="1.35" fill="#0e4e8e"/><circle cx="300.87" cy="163.28" r="1.35" fill="#0e4e8e"/><circle cx="299.33" cy="148.17" r="1.35" fill="#0e4e8e"/><line x1="311.8" y1="156" x2="311.8" y2="170" stroke="#d2123d" stroke-width="0.75"/><line x1="310" y1="156" x2="313.6" y2="156" stroke="#d2123d" stroke-width="0.75"/><rect x="308.17" y="161.46" width="2.6" height="2.6" fill="#d2123d"/><rect x="310.7" y="153.51" width="2.6" height="2.6" fill="#d2123d"/><rect x="313.48" y="159.06" width="2.6" height="2.6" fill="#d2123d"/><rect x="308.56" y="158.41" width="2.6" height="2.6" fill="#d2123d"/><rect x="312.89" y="160.88" width="2.6" height="2.6" fill="#d2123d"/><rect x="307.76" y="168.06" width="2.6" height="2.6" fill="#d2123d"/><rect x="309.44" y="171" width="2.6" height="2.6" fill="#d2123d"/><rect x="312.14" y="166.96" width="2.6" height="2.6" fill="#d2123d"/><rect x="309.01" y="159.45" width="2.6" height="2.6" fill="#d2123d"/><rect x="310.86" y="158.24" width="2.6" height="2.6" fill="#d2123d"/><rect x="310.18" y="157.27" width="2.6" height="2.6" fill="#d2123d"/><rect x="308.63" y="155.76" width="2.6" height="2.6" fill="#d2123d"/><rect x="307.6" y="166.44" width="2.6" height="2.6" fill="#d2123d"/><rect x="311.68" y="180.19" width="2.6" height="2.6" fill="#d2123d"/><rect x="311.93" y="159.56" width="2.6" height="2.6" fill="#d2123d"/><rect x="310.5" y="164.34" width="2.6" height="2.6" fill="#d2123d"/><rect x="310.14" y="153.67" width="2.6" height="2.6" fill="#d2123d"/><rect x="311.59" y="176.34" width="2.6" height="2.6" fill="#d2123d"/><rect x="328.9" y="172.6" width="7.4" height="11.15" fill="#6893bb" stroke="#5584b2" stroke-width="0.6"/><rect x="340.9" y="177.7" width="7.4" height="6.05" fill="#de6f83" stroke="#d9566f" stroke-width="0.6"/><line x1="332.6" y1="169.3" x2="332.6" y2="175.3" stroke="#0e4e8e" stroke-width="0.75"/><line x1="330.8" y1="169.3" x2="334.4" y2="169.3" stroke="#0e4e8e" stroke-width="0.75"/><circle cx="333.75" cy="177.3" r="1.35" fill="#0e4e8e"/><circle cx="331.58" cy="174.92" r="1.35" fill="#0e4e8e"/><circle cx="332.81" cy="178.88" r="1.35" fill="#0e4e8e"/><circle cx="334.65" cy="172.8" r="1.35" fill="#0e4e8e"/><circle cx="333.21" cy="173.65" r="1.35" fill="#0e4e8e"/><circle cx="332.07" cy="170.32" r="1.35" fill="#0e4e8e"/><circle cx="334.48" cy="176.6" r="1.35" fill="#0e4e8e"/><circle cx="329.62" cy="178.7" r="1.35" fill="#0e4e8e"/><circle cx="331.14" cy="178.56" r="1.35" fill="#0e4e8e"/><circle cx="334.43" cy="177.65" r="1.35" fill="#0e4e8e"/><circle cx="334.8" cy="174.03" r="1.35" fill="#0e4e8e"/><circle cx="329.83" cy="170.9" r="1.35" fill="#0e4e8e"/><circle cx="334.65" cy="174.45" r="1.35" fill="#0e4e8e"/><circle cx="332.11" cy="172.75" r="1.35" fill="#0e4e8e"/><circle cx="332.03" cy="176.01" r="1.35" fill="#0e4e8e"/><circle cx="333.14" cy="169.2" r="1.35" fill="#0e4e8e"/><circle cx="330.63" cy="173.46" r="1.35" fill="#0e4e8e"/><circle cx="333.09" cy="176.75" r="1.35" fill="#0e4e8e"/><line x1="344.6" y1="175.4" x2="344.6" y2="179.4" stroke="#d2123d" stroke-width="0.75"/><line x1="342.8" y1="175.4" x2="346.4" y2="175.4" stroke="#d2123d" stroke-width="0.75"/><rect x="342.85" y="173.76" width="2.6" height="2.6" fill="#d2123d"/><rect x="341.66" y="174.04" width="2.6" height="2.6" fill="#d2123d"/><rect x="341.93" y="177.11" width="2.6" height="2.6" fill="#d2123d"/><rect x="344.13" y="174.12" width="2.6" height="2.6" fill="#d2123d"/><rect x="340.56" y="177.47" width="2.6" height="2.6" fill="#d2123d"/><rect x="340.32" y="175.76" width="2.6" height="2.6" fill="#d2123d"/><rect x="345.87" y="178.03" width="2.6" height="2.6" fill="#d2123d"/><rect x="341.37" y="174.13" width="2.6" height="2.6" fill="#d2123d"/><rect x="345.2" y="175.61" width="2.6" height="2.6" fill="#d2123d"/><rect x="343.11" y="178.94" width="2.6" height="2.6" fill="#d2123d"/><rect x="341.24" y="177.79" width="2.6" height="2.6" fill="#d2123d"/><rect x="343.48" y="174.18" width="2.6" height="2.6" fill="#d2123d"/><rect x="341.48" y="177.8" width="2.6" height="2.6" fill="#d2123d"/><rect x="344.6" y="176.85" width="2.6" height="2.6" fill="#d2123d"/><rect x="345.96" y="177.59" width="2.6" height="2.6" fill="#d2123d"/><rect x="345.22" y="180.13" width="2.6" height="2.6" fill="#d2123d"/><rect x="345.35" y="175.42" width="2.6" height="2.6" fill="#d2123d"/><rect x="341.98" y="178.55" width="2.6" height="2.6" fill="#d2123d"/><rect x="361.7" y="165.2" width="7.4" height="18.55" fill="#6893bb" stroke="#5584b2" stroke-width="0.6"/><rect x="373.7" y="173.5" width="7.4" height="10.25" fill="#de6f83" stroke="#d9566f" stroke-width="0.6"/><line x1="365.4" y1="154.9" x2="365.4" y2="174.9" stroke="#0e4e8e" stroke-width="0.75"/><line x1="363.6" y1="154.9" x2="367.2" y2="154.9" stroke="#0e4e8e" stroke-width="0.75"/><circle cx="366.89" cy="164.81" r="1.35" fill="#0e4e8e"/><circle cx="367.57" cy="159.49" r="1.35" fill="#0e4e8e"/><circle cx="362.6" cy="161.25" r="1.35" fill="#0e4e8e"/><circle cx="366.04" cy="166.31" r="1.35" fill="#0e4e8e"/><circle cx="364.19" cy="152.66" r="1.35" fill="#0e4e8e"/><circle cx="364.24" cy="168.94" r="1.35" fill="#0e4e8e"/><circle cx="363.89" cy="164.84" r="1.35" fill="#0e4e8e"/><circle cx="365.16" cy="170.06" r="1.35" fill="#0e4e8e"/><circle cx="367.15" cy="155.23" r="1.35" fill="#0e4e8e"/><circle cx="363.36" cy="165.91" r="1.35" fill="#0e4e8e"/><circle cx="365.2" cy="163.74" r="1.35" fill="#0e4e8e"/><circle cx="363.33" cy="164.98" r="1.35" fill="#0e4e8e"/><circle cx="364.68" cy="176.78" r="1.35" fill="#0e4e8e"/><circle cx="365.58" cy="163.51" r="1.35" fill="#0e4e8e"/><circle cx="364.22" cy="171.78" r="1.35" fill="#0e4e8e"/><circle cx="362.98" cy="169.58" r="1.35" fill="#0e4e8e"/><circle cx="367.81" cy="162.04" r="1.35" fill="#0e4e8e"/><circle cx="364.91" cy="175.13" r="1.35" fill="#0e4e8e"/><circle cx="366.2" cy="147.4" r="1.35" fill="#0e4e8e"/><line x1="377.4" y1="169.2" x2="377.4" y2="177.2" stroke="#d2123d" stroke-width="0.75"/><line x1="375.6" y1="169.2" x2="379.2" y2="169.2" stroke="#d2123d" stroke-width="0.75"/><rect x="377.66" y="175.29" width="2.6" height="2.6" fill="#d2123d"/><rect x="375.17" y="176.78" width="2.6" height="2.6" fill="#d2123d"/><rect x="375.88" y="177.73" width="2.6" height="2.6" fill="#d2123d"/><rect x="378.7" y="170.51" width="2.6" height="2.6" fill="#d2123d"/><rect x="374.24" y="171.91" width="2.6" height="2.6" fill="#d2123d"/><rect x="378.94" y="172.1" width="2.6" height="2.6" fill="#d2123d"/><rect x="377.86" y="168.53" width="2.6" height="2.6" fill="#d2123d"/><rect x="375.44" y="170.53" width="2.6" height="2.6" fill="#d2123d"/><rect x="377.73" y="171.2" width="2.6" height="2.6" fill="#d2123d"/><rect x="373.16" y="169.09" width="2.6" height="2.6" fill="#d2123d"/><rect x="378.68" y="177.83" width="2.6" height="2.6" fill="#d2123d"/><rect x="374.53" y="177.64" width="2.6" height="2.6" fill="#d2123d"/><rect x="378.51" y="177.79" width="2.6" height="2.6" fill="#d2123d"/><rect x="373.79" y="172.52" width="2.6" height="2.6" fill="#d2123d"/><rect x="373.33" y="166.66" width="2.6" height="2.6" fill="#d2123d"/><rect x="374.08" y="171.18" width="2.6" height="2.6" fill="#d2123d"/><rect x="374.68" y="174.42" width="2.6" height="2.6" fill="#d2123d"/><rect x="375.03" y="171.58" width="2.6" height="2.6" fill="#d2123d"/><line x1="291.5" y1="130" x2="291.5" y2="184" stroke="#1e1e1e" stroke-width="1"/><line x1="291" y1="183.5" x2="386" y2="183.5" stroke="#1e1e1e" stroke-width="1"/><line x1="288.5" y1="183.5" x2="291.5" y2="183.5" stroke="#1e1e1e" stroke-width="1"/><text class="tk" transform="translate(285.3 186.85) scale(0.82 1)" font-size="8.8" text-anchor="end" font-weight="normal" fill="#141414"><tspan>0.0</tspan></text><line x1="288.5" y1="165.5" x2="291.5" y2="165.5" stroke="#1e1e1e" stroke-width="1"/><text class="tk" transform="translate(285.3 168.95) scale(0.82 1)" font-size="8.8" text-anchor="end" font-weight="normal" fill="#141414"><tspan>0.5</tspan></text><line x1="288.5" y1="147.5" x2="291.5" y2="147.5" stroke="#1e1e1e" stroke-width="1"/><text class="tk" transform="translate(285.3 151.05) scale(0.82 1)" font-size="8.8" text-anchor="end" font-weight="normal" fill="#141414"><tspan>1.0</tspan></text><line x1="288.5" y1="130.5" x2="291.5" y2="130.5" stroke="#1e1e1e" stroke-width="1"/><text class="tk" transform="translate(285.3 133.15) scale(0.82 1)" font-size="8.8" text-anchor="end" font-weight="normal" fill="#141414"><tspan>1.5</tspan></text><line x1="305.5" y1="183.5" x2="305.5" y2="185.9" stroke="#1e1e1e" stroke-width="0.9"/><line x1="338.5" y1="183.5" x2="338.5" y2="185.9" stroke="#1e1e1e" stroke-width="0.9"/><line x1="371.5" y1="183.5" x2="371.5" y2="185.9" stroke="#1e1e1e" stroke-width="0.9"/><text x="305.8" y="196.2" font-size="8.7" text-anchor="middle" font-weight="normal" fill="#141414" textLength="24.3" lengthAdjust="spacingAndGlyphs"><tspan>Spleen</tspan></text><text x="338.6" y="196.2" font-size="8.7" text-anchor="middle" font-weight="normal" fill="#141414" textLength="5.4" lengthAdjust="spacingAndGlyphs"><tspan>SI</tspan></text><text x="371.4" y="196.2" font-size="8.7" text-anchor="middle" font-weight="normal" fill="#141414" textLength="21" lengthAdjust="spacingAndGlyphs"><tspan>Colon</tspan></text><line x1="300.6" y1="131.5" x2="311" y2="131.5" stroke="#222" stroke-width="1"/><polygon points="305.8,124.95 306.42,126.25 307.84,126.44 306.8,127.42 307.06,128.84 305.8,128.15 304.54,128.84 304.8,127.42 303.76,126.44 305.18,126.25" fill="#111"/><line x1="332.6" y1="158.5" x2="344.6" y2="158.5" stroke="#222" stroke-width="1"/><polygon points="332.6,150.75 333.22,152.05 334.64,152.24 333.6,153.22 333.86,154.64 332.6,153.95 331.34,154.64 331.6,153.22 330.56,152.24 331.98,152.05" fill="#111"/><polygon points="336.6,150.75 337.22,152.05 338.64,152.24 337.6,153.22 337.86,154.64 336.6,153.95 335.34,154.64 335.6,153.22 334.56,152.24 335.98,152.05" fill="#111"/><polygon points="340.6,150.75 341.22,152.05 342.64,152.24 341.6,153.22 341.86,154.64 340.6,153.95 339.34,154.64 339.6,153.22 338.56,152.24 339.98,152.05" fill="#111"/><polygon points="344.6,150.75 345.22,152.05 346.64,152.24 345.6,153.22 345.86,154.64 344.6,153.95 343.34,154.64 343.6,153.22 342.56,152.24 343.98,152.05" fill="#111"/><line x1="366.2" y1="140.5" x2="376.6" y2="140.5" stroke="#222" stroke-width="1"/><polygon points="367.4,133.25 368.02,134.55 369.44,134.74 368.4,135.72 368.66,137.14 367.4,136.45 366.14,137.14 366.4,135.72 365.36,134.74 366.78,134.55" fill="#111"/><polygon points="371.4,133.25 372.02,134.55 373.44,134.74 372.4,135.72 372.66,137.14 371.4,136.45 370.14,137.14 370.4,135.72 369.36,134.74 370.78,134.55" fill="#111"/><polygon points="375.4,133.25 376.02,134.55 377.44,134.74 376.4,135.72 376.66,137.14 375.4,136.45 374.14,137.14 374.4,135.72 373.36,134.74 374.78,134.55" fill="#111"/><text transform="translate(271.5 155.5) rotate(-90)" x="0" y="0" font-size="9.8" text-anchor="middle" font-weight="normal" fill="#141414" textLength="88.5" lengthAdjust="spacingAndGlyphs"><tspan>CD4</tspan><tspan dy="-3.53" font-size="5.2">+</tspan><tspan dy="3.53">CD44</tspan><tspan dy="-3.53" font-size="5.2">+</tspan><tspan dy="3.53">CD62L</tspan><tspan dy="-3.53" font-size="5.2">−</tspan><tspan dy="3.53"> (×10</tspan><tspan dy="-3.53" font-size="5.2">5</tspan><tspan dy="3.53">)</tspan></text><rect x="424.3" y="135.8" width="7.4" height="47.3" fill="#6893bb" stroke="#5584b2" stroke-width="0.6"/><rect x="423.5" y="144.8" width="9" height="3.7" fill="#ffffff"/><rect x="436.3" y="149.4" width="7.4" height="33.7" fill="#de6f83" stroke="#d9566f" stroke-width="0.6"/><line x1="428" y1="134.5" x2="428" y2="136.5" stroke="#0e4e8e" stroke-width="0.75"/><line x1="426.2" y1="134.5" x2="429.8" y2="134.5" stroke="#0e4e8e" stroke-width="0.75"/><circle cx="428.06" cy="137.93" r="1.35" fill="#0e4e8e"/><circle cx="426.88" cy="136.25" r="1.35" fill="#0e4e8e"/><circle cx="426.28" cy="137.07" r="1.35" fill="#0e4e8e"/><circle cx="430.65" cy="135.82" r="1.35" fill="#0e4e8e"/><circle cx="427.07" cy="134.46" r="1.35" fill="#0e4e8e"/><line x1="440" y1="149.2" x2="440" y2="156.2" stroke="#d2123d" stroke-width="0.75"/><line x1="438.2" y1="156.2" x2="441.8" y2="156.2" stroke="#d2123d" stroke-width="0.75"/><rect x="440.5" y="142.18" width="2.6" height="2.6" fill="#d2123d"/><rect x="438.66" y="141.85" width="2.6" height="2.6" fill="#d2123d"/><rect x="436.5" y="140.78" width="2.6" height="2.6" fill="#d2123d"/><rect x="440.87" y="140.03" width="2.6" height="2.6" fill="#d2123d"/><rect x="439.2" y="157.2" width="2.6" height="2.6" fill="#d2123d"/><rect x="457.1" y="169.3" width="7.4" height="13.8" fill="#6893bb" stroke="#5584b2" stroke-width="0.6"/><rect x="469.1" y="181.5" width="7.4" height="1.6" fill="#de6f83" stroke="#d9566f" stroke-width="0.6"/><line x1="460.8" y1="164" x2="460.8" y2="174" stroke="#0e4e8e" stroke-width="0.75"/><line x1="459" y1="164" x2="462.6" y2="164" stroke="#0e4e8e" stroke-width="0.75"/><circle cx="460.8" cy="163" r="1.35" fill="#0e4e8e"/><circle cx="458.3" cy="167.8" r="1.35" fill="#0e4e8e"/><circle cx="460.8" cy="168.6" r="1.35" fill="#0e4e8e"/><circle cx="463.3" cy="168" r="1.35" fill="#0e4e8e"/><circle cx="461.8" cy="173" r="1.35" fill="#0e4e8e"/><circle cx="460.8" cy="178.5" r="1.35" fill="#0e4e8e"/><line x1="472.8" y1="180.4" x2="472.8" y2="182" stroke="#d2123d" stroke-width="0.75"/><line x1="471" y1="180.4" x2="474.6" y2="180.4" stroke="#d2123d" stroke-width="0.75"/><rect x="471.66" y="180.6" width="2.6" height="2.6" fill="#d2123d"/><rect x="473.78" y="180.6" width="2.6" height="2.6" fill="#d2123d"/><rect x="469.09" y="180.42" width="2.6" height="2.6" fill="#d2123d"/><rect x="471.98" y="179.27" width="2.6" height="2.6" fill="#d2123d"/><rect x="469.94" y="180.6" width="2.6" height="2.6" fill="#d2123d"/><rect x="489.9" y="176.9" width="7.4" height="6.2" fill="#6893bb" stroke="#5584b2" stroke-width="0.6"/><rect x="501.9" y="182.3" width="7.4" height="0.8" fill="#de6f83" stroke="#d9566f" stroke-width="0.6"/><line x1="493.6" y1="173" x2="493.6" y2="180.2" stroke="#0e4e8e" stroke-width="0.75"/><line x1="491.8" y1="173" x2="495.4" y2="173" stroke="#0e4e8e" stroke-width="0.75"/><circle cx="493.6" cy="169" r="1.35" fill="#0e4e8e"/><circle cx="493.6" cy="173" r="1.35" fill="#0e4e8e"/><circle cx="491.6" cy="177" r="1.35" fill="#0e4e8e"/><circle cx="494.1" cy="178.5" r="1.35" fill="#0e4e8e"/><circle cx="495.6" cy="177.5" r="1.35" fill="#0e4e8e"/><circle cx="492.6" cy="181" r="1.35" fill="#0e4e8e"/><line x1="505.6" y1="181.5" x2="505.6" y2="182.5" stroke="#d2123d" stroke-width="0.75"/><line x1="503.8" y1="181.5" x2="507.4" y2="181.5" stroke="#d2123d" stroke-width="0.75"/><rect x="505.3" y="177.5" width="2.6" height="2.6" fill="#d2123d"/><rect x="506.8" y="179.2" width="2.6" height="2.6" fill="#d2123d"/><rect x="504.3" y="180.7" width="2.6" height="2.6" fill="#d2123d"/><rect x="502.3" y="181" width="2.6" height="2.6" fill="#d2123d"/><rect x="503.3" y="181.5" width="2.6" height="2.6" fill="#d2123d"/><line x1="419.5" y1="129" x2="419.5" y2="145" stroke="#1e1e1e" stroke-width="1"/><line x1="419.5" y1="148.5" x2="419.5" y2="184" stroke="#1e1e1e" stroke-width="1"/><line x1="417.9" y1="145" x2="421.3" y2="145" stroke="#1e1e1e" stroke-width="0.9"/><line x1="417.9" y1="148.5" x2="421.3" y2="148.5" stroke="#1e1e1e" stroke-width="0.9"/><line x1="419" y1="183.5" x2="512" y2="183.5" stroke="#1e1e1e" stroke-width="1"/><line x1="416.5" y1="129.5" x2="419.5" y2="129.5" stroke="#1e1e1e" stroke-width="1"/><text class="tk" transform="translate(413.3 132.35) scale(0.82 1)" font-size="8.8" text-anchor="end" font-weight="normal" fill="#141414"><tspan>3.0</tspan></text><line x1="416.5" y1="138.5" x2="419.5" y2="138.5" stroke="#1e1e1e" stroke-width="1"/><text class="tk" transform="translate(413.3 141.1) scale(0.82 1)" font-size="8.8" text-anchor="end" font-weight="normal" fill="#141414"><tspan>1.5</tspan></text><line x1="416.5" y1="149.5" x2="419.5" y2="149.5" stroke="#1e1e1e" stroke-width="1"/><text class="tk" transform="translate(413.3 152.35) scale(0.82 1)" font-size="8.8" text-anchor="end" font-weight="normal" fill="#141414"><tspan>0.4</tspan></text><line x1="416.5" y1="158.5" x2="419.5" y2="158.5" stroke="#1e1e1e" stroke-width="1"/><text class="tk" transform="translate(413.3 161.1) scale(0.82 1)" font-size="8.8" text-anchor="end" font-weight="normal" fill="#141414"><tspan>0.3</tspan></text><line x1="416.5" y1="166.5" x2="419.5" y2="166.5" stroke="#1e1e1e" stroke-width="1"/><text class="tk" transform="translate(413.3 169.6) scale(0.82 1)" font-size="8.8" text-anchor="end" font-weight="normal" fill="#141414"><tspan>0.2</tspan></text><line x1="416.5" y1="174.5" x2="419.5" y2="174.5" stroke="#1e1e1e" stroke-width="1"/><text class="tk" transform="translate(413.3 177.7) scale(0.82 1)" font-size="8.8" text-anchor="end" font-weight="normal" fill="#141414"><tspan>0.1</tspan></text><line x1="416.5" y1="183.5" x2="419.5" y2="183.5" stroke="#1e1e1e" stroke-width="1"/><text class="tk" transform="translate(413.3 186.2) scale(0.82 1)" font-size="8.8" text-anchor="end" font-weight="normal" fill="#141414"><tspan>0</tspan></text><line x1="434.5" y1="183.5" x2="434.5" y2="185.9" stroke="#1e1e1e" stroke-width="0.9"/><line x1="466.5" y1="183.5" x2="466.5" y2="185.9" stroke="#1e1e1e" stroke-width="0.9"/><line x1="499.5" y1="183.5" x2="499.5" y2="185.9" stroke="#1e1e1e" stroke-width="0.9"/><text x="434" y="196.2" font-size="8.7" text-anchor="middle" font-weight="normal" fill="#141414" textLength="24.3" lengthAdjust="spacingAndGlyphs"><tspan>Spleen</tspan></text><text x="466.8" y="196.2" font-size="8.7" text-anchor="middle" font-weight="normal" fill="#141414" textLength="5.4" lengthAdjust="spacingAndGlyphs"><tspan>SI</tspan></text><text x="499.6" y="196.2" font-size="8.7" text-anchor="middle" font-weight="normal" fill="#141414" textLength="21" lengthAdjust="spacingAndGlyphs"><tspan>Colon</tspan></text><line x1="428.8" y1="127.5" x2="439.2" y2="127.5" stroke="#222" stroke-width="1"/><polygon points="432,120.25 432.62,121.55 434.04,121.74 433,122.72 433.26,124.14 432,123.45 430.74,124.14 431,122.72 429.96,121.74 431.38,121.55" fill="#111"/><polygon points="436,120.25 436.62,121.55 438.04,121.74 437,122.72 437.26,124.14 436,123.45 434.74,124.14 435,122.72 433.96,121.74 435.38,121.55" fill="#111"/><line x1="461.6" y1="152.5" x2="472" y2="152.5" stroke="#222" stroke-width="1"/><polygon points="464.8,145.75 465.42,147.05 466.84,147.24 465.8,148.22 466.06,149.64 464.8,148.95 463.54,149.64 463.8,148.22 462.76,147.24 464.18,147.05" fill="#111"/><polygon points="468.8,145.75 469.42,147.05 470.84,147.24 469.8,148.22 470.06,149.64 468.8,148.95 467.54,149.64 467.8,148.22 466.76,147.24 468.18,147.05" fill="#111"/><line x1="494.4" y1="157.5" x2="504.8" y2="157.5" stroke="#222" stroke-width="1"/><polygon points="499.6,150.25 500.22,151.55 501.64,151.74 500.6,152.72 500.86,154.14 499.6,153.45 498.34,154.14 498.6,152.72 497.56,151.74 498.98,151.55" fill="#111"/><text transform="translate(399.5 156.1) rotate(-90)" x="0" y="0" font-size="9.8" text-anchor="middle" font-weight="normal" fill="#141414" textLength="86.2" lengthAdjust="spacingAndGlyphs"><tspan>CD4</tspan><tspan dy="-3.53" font-size="5.2">+</tspan><tspan dy="3.53">CD44</tspan><tspan dy="-3.53" font-size="5.2">+</tspan><tspan dy="3.53">CD62L</tspan><tspan dy="-3.53" font-size="5.2">−</tspan><tspan dy="3.53"> (×10</tspan><tspan dy="-3.53" font-size="5.2">5</tspan><tspan dy="3.53">)</tspan></text><rect x="41.55" y="283.7" width="7.4" height="7.8" fill="#6893bb" stroke="#5584b2" stroke-width="0.6"/><rect x="53.55" y="284.8" width="7.4" height="6.7" fill="#de6f83" stroke="#d9566f" stroke-width="0.6"/><line x1="45.25" y1="280.4" x2="45.25" y2="286.4" stroke="#0e4e8e" stroke-width="0.75"/><line x1="43.45" y1="280.4" x2="47.05" y2="280.4" stroke="#0e4e8e" stroke-width="0.75"/><circle cx="46.8" cy="285.27" r="1.35" fill="#0e4e8e"/><circle cx="46.21" cy="282.62" r="1.35" fill="#0e4e8e"/><circle cx="42.57" cy="281.93" r="1.35" fill="#0e4e8e"/><circle cx="44.91" cy="279.17" r="1.35" fill="#0e4e8e"/><circle cx="47.56" cy="280.09" r="1.35" fill="#0e4e8e"/><circle cx="46.53" cy="282.39" r="1.35" fill="#0e4e8e"/><circle cx="44.23" cy="280.57" r="1.35" fill="#0e4e8e"/><circle cx="44.32" cy="282.12" r="1.35" fill="#0e4e8e"/><circle cx="45.6" cy="281.5" r="1.35" fill="#0e4e8e"/><circle cx="45.15" cy="283.07" r="1.35" fill="#0e4e8e"/><circle cx="44.91" cy="283.42" r="1.35" fill="#0e4e8e"/><line x1="57.25" y1="280.5" x2="57.25" y2="288.5" stroke="#d2123d" stroke-width="0.75"/><line x1="55.45" y1="280.5" x2="59.05" y2="280.5" stroke="#d2123d" stroke-width="0.75"/><rect x="56.45" y="280.78" width="2.6" height="2.6" fill="#d2123d"/><rect x="55.26" y="284.32" width="2.6" height="2.6" fill="#d2123d"/><rect x="57.23" y="283.35" width="2.6" height="2.6" fill="#d2123d"/><rect x="58.76" y="280.7" width="2.6" height="2.6" fill="#d2123d"/><rect x="55.28" y="281.25" width="2.6" height="2.6" fill="#d2123d"/><rect x="56.36" y="279.29" width="2.6" height="2.6" fill="#d2123d"/><rect x="57.1" y="285.69" width="2.6" height="2.6" fill="#d2123d"/><rect x="55.2" y="281.61" width="2.6" height="2.6" fill="#d2123d"/><rect x="53.6" y="283.16" width="2.6" height="2.6" fill="#d2123d"/><rect x="53.05" y="282.28" width="2.6" height="2.6" fill="#d2123d"/><rect x="57.96" y="284.38" width="2.6" height="2.6" fill="#d2123d"/><rect x="56.09" y="270.9" width="2.6" height="2.6" fill="#d2123d"/><rect x="74.45" y="258.9" width="7.4" height="32.6" fill="#6893bb" stroke="#5584b2" stroke-width="0.6"/><rect x="86.45" y="257.1" width="7.4" height="34.4" fill="#de6f83" stroke="#d9566f" stroke-width="0.6"/><line x1="78.15" y1="249.6" x2="78.15" y2="267.6" stroke="#0e4e8e" stroke-width="0.75"/><line x1="76.35" y1="249.6" x2="79.95" y2="249.6" stroke="#0e4e8e" stroke-width="0.75"/><circle cx="78.99" cy="252.84" r="1.35" fill="#0e4e8e"/><circle cx="78.84" cy="252.92" r="1.35" fill="#0e4e8e"/><circle cx="79.24" cy="258.06" r="1.35" fill="#0e4e8e"/><circle cx="75.93" cy="262.31" r="1.35" fill="#0e4e8e"/><circle cx="79.16" cy="260.48" r="1.35" fill="#0e4e8e"/><circle cx="75.52" cy="263.11" r="1.35" fill="#0e4e8e"/><circle cx="77.17" cy="260.48" r="1.35" fill="#0e4e8e"/><circle cx="80.65" cy="255.49" r="1.35" fill="#0e4e8e"/><circle cx="77.43" cy="266.95" r="1.35" fill="#0e4e8e"/><circle cx="77.2" cy="253.77" r="1.35" fill="#0e4e8e"/><circle cx="78.55" cy="260.69" r="1.35" fill="#0e4e8e"/><circle cx="78.48" cy="244.1" r="1.35" fill="#0e4e8e"/><line x1="90.15" y1="251.8" x2="90.15" y2="261.8" stroke="#d2123d" stroke-width="0.75"/><line x1="88.35" y1="251.8" x2="91.95" y2="251.8" stroke="#d2123d" stroke-width="0.75"/><rect x="91.05" y="259.81" width="2.6" height="2.6" fill="#d2123d"/><rect x="88.96" y="258.58" width="2.6" height="2.6" fill="#d2123d"/><rect x="87.25" y="258.89" width="2.6" height="2.6" fill="#d2123d"/><rect x="91.24" y="257.44" width="2.6" height="2.6" fill="#d2123d"/><rect x="89.16" y="244.49" width="2.6" height="2.6" fill="#d2123d"/><rect x="86.65" y="259.81" width="2.6" height="2.6" fill="#d2123d"/><rect x="90.34" y="252.74" width="2.6" height="2.6" fill="#d2123d"/><rect x="87.42" y="254.43" width="2.6" height="2.6" fill="#d2123d"/><rect x="87.32" y="258.95" width="2.6" height="2.6" fill="#d2123d"/><rect x="87.81" y="256.11" width="2.6" height="2.6" fill="#d2123d"/><rect x="90.18" y="252.88" width="2.6" height="2.6" fill="#d2123d"/><rect x="107.35" y="269.4" width="7.4" height="22.1" fill="#6893bb" stroke="#5584b2" stroke-width="0.6"/><rect x="119.35" y="266.1" width="7.4" height="25.4" fill="#de6f83" stroke="#d9566f" stroke-width="0.6"/><line x1="111.05" y1="263.1" x2="111.05" y2="275.1" stroke="#0e4e8e" stroke-width="0.75"/><line x1="109.25" y1="263.1" x2="112.85" y2="263.1" stroke="#0e4e8e" stroke-width="0.75"/><circle cx="108.95" cy="263.81" r="1.35" fill="#0e4e8e"/><circle cx="109.17" cy="264.96" r="1.35" fill="#0e4e8e"/><circle cx="109.52" cy="262.67" r="1.35" fill="#0e4e8e"/><circle cx="111.16" cy="264.43" r="1.35" fill="#0e4e8e"/><circle cx="113.33" cy="276.34" r="1.35" fill="#0e4e8e"/><circle cx="109.32" cy="264.6" r="1.35" fill="#0e4e8e"/><circle cx="110.38" cy="267.32" r="1.35" fill="#0e4e8e"/><circle cx="111.91" cy="271.88" r="1.35" fill="#0e4e8e"/><circle cx="112.62" cy="273.97" r="1.35" fill="#0e4e8e"/><circle cx="110.11" cy="270.93" r="1.35" fill="#0e4e8e"/><circle cx="108.54" cy="274.21" r="1.35" fill="#0e4e8e"/><line x1="123.05" y1="260.8" x2="123.05" y2="270.8" stroke="#d2123d" stroke-width="0.75"/><line x1="121.25" y1="260.8" x2="124.85" y2="260.8" stroke="#d2123d" stroke-width="0.75"/><rect x="121.18" y="269.21" width="2.6" height="2.6" fill="#d2123d"/><rect x="122.37" y="263.99" width="2.6" height="2.6" fill="#d2123d"/><rect x="123.34" y="271.96" width="2.6" height="2.6" fill="#d2123d"/><rect x="122.64" y="265.17" width="2.6" height="2.6" fill="#d2123d"/><rect x="120.04" y="271.32" width="2.6" height="2.6" fill="#d2123d"/><rect x="122.31" y="266.46" width="2.6" height="2.6" fill="#d2123d"/><rect x="123.39" y="260.39" width="2.6" height="2.6" fill="#d2123d"/><rect x="121.29" y="271.5" width="2.6" height="2.6" fill="#d2123d"/><rect x="119.36" y="258.71" width="2.6" height="2.6" fill="#d2123d"/><rect x="121.87" y="267.84" width="2.6" height="2.6" fill="#d2123d"/><rect x="122.85" y="266.5" width="2.6" height="2.6" fill="#d2123d"/><line x1="37.5" y1="236.3" x2="37.5" y2="292" stroke="#1e1e1e" stroke-width="1"/><line x1="37" y1="291.5" x2="131.5" y2="291.5" stroke="#1e1e1e" stroke-width="1"/><line x1="34.5" y1="291.5" x2="37.5" y2="291.5" stroke="#1e1e1e" stroke-width="1"/><text class="tk" transform="translate(31.3 294.6) scale(0.82 1)" font-size="8.8" text-anchor="end" font-weight="normal" fill="#141414"><tspan>0</tspan></text><line x1="34.5" y1="277.5" x2="37.5" y2="277.5" stroke="#1e1e1e" stroke-width="1"/><text class="tk" transform="translate(31.3 280.8) scale(0.82 1)" font-size="8.8" text-anchor="end" font-weight="normal" fill="#141414"><tspan>20</tspan></text><line x1="34.5" y1="263.5" x2="37.5" y2="263.5" stroke="#1e1e1e" stroke-width="1"/><text class="tk" transform="translate(31.3 267) scale(0.82 1)" font-size="8.8" text-anchor="end" font-weight="normal" fill="#141414"><tspan>40</tspan></text><line x1="34.5" y1="250.5" x2="37.5" y2="250.5" stroke="#1e1e1e" stroke-width="1"/><text class="tk" transform="translate(31.3 253.2) scale(0.82 1)" font-size="8.8" text-anchor="end" font-weight="normal" fill="#141414"><tspan>60</tspan></text><line x1="34.5" y1="236.5" x2="37.5" y2="236.5" stroke="#1e1e1e" stroke-width="1"/><text class="tk" transform="translate(31.3 239.4) scale(0.82 1)" font-size="8.8" text-anchor="end" font-weight="normal" fill="#141414"><tspan>80</tspan></text><line x1="51.5" y1="291.5" x2="51.5" y2="293.9" stroke="#1e1e1e" stroke-width="0.9"/><line x1="84.5" y1="291.5" x2="84.5" y2="293.9" stroke="#1e1e1e" stroke-width="0.9"/><line x1="117.5" y1="291.5" x2="117.5" y2="293.9" stroke="#1e1e1e" stroke-width="0.9"/><text x="51.25" y="304.2" font-size="8.7" text-anchor="middle" font-weight="normal" fill="#141414" textLength="24.3" lengthAdjust="spacingAndGlyphs"><tspan>Spleen</tspan></text><text x="84.15" y="304.2" font-size="8.7" text-anchor="middle" font-weight="normal" fill="#141414" textLength="5.4" lengthAdjust="spacingAndGlyphs"><tspan>SI</tspan></text><text x="117.05" y="304.2" font-size="8.7" text-anchor="middle" font-weight="normal" fill="#141414" textLength="21" lengthAdjust="spacingAndGlyphs"><tspan>Colon</tspan></text><text transform="translate(16.2 263.7) rotate(-90)" x="0" y="0" font-size="9.8" text-anchor="middle" font-weight="normal" fill="#141414" textLength="47.5" lengthAdjust="spacingAndGlyphs"><tspan>% CD8</tspan><tspan dy="-3.53" font-size="5.2">+</tspan><tspan dy="3.53"> T cells</tspan></text><rect x="164" y="260.5" width="7.4" height="31" fill="#6893bb" stroke="#5584b2" stroke-width="0.6"/><rect x="176" y="280" width="7.4" height="11.5" fill="#de6f83" stroke="#d9566f" stroke-width="0.6"/><line x1="167.7" y1="256.5" x2="167.7" y2="263.9" stroke="#0e4e8e" stroke-width="0.75"/><line x1="165.9" y1="256.5" x2="169.5" y2="256.5" stroke="#0e4e8e" stroke-width="0.75"/><circle cx="166.7" cy="252.9" r="1.35" fill="#0e4e8e"/><circle cx="165.2" cy="255" r="1.35" fill="#0e4e8e"/><circle cx="169.2" cy="256" r="1.35" fill="#0e4e8e"/><circle cx="166.7" cy="262" r="1.35" fill="#0e4e8e"/><circle cx="169.7" cy="265" r="1.35" fill="#0e4e8e"/><circle cx="167.7" cy="268.4" r="1.35" fill="#0e4e8e"/><line x1="179.7" y1="275.3" x2="179.7" y2="284.1" stroke="#d2123d" stroke-width="0.75"/><line x1="177.9" y1="275.3" x2="181.5" y2="275.3" stroke="#d2123d" stroke-width="0.75"/><rect x="178.4" y="270.4" width="2.6" height="2.6" fill="#d2123d"/><rect x="176.4" y="276.7" width="2.6" height="2.6" fill="#d2123d"/><rect x="179.4" y="278.7" width="2.6" height="2.6" fill="#d2123d"/><rect x="180.9" y="280.7" width="2.6" height="2.6" fill="#d2123d"/><rect x="177.4" y="282.7" width="2.6" height="2.6" fill="#d2123d"/><rect x="197" y="255.9" width="7.4" height="35.6" fill="#6893bb" stroke="#5584b2" stroke-width="0.6"/><rect x="209" y="265" width="7.4" height="26.5" fill="#de6f83" stroke="#d9566f" stroke-width="0.6"/><line x1="200.7" y1="252.6" x2="200.7" y2="258.6" stroke="#0e4e8e" stroke-width="0.75"/><line x1="198.9" y1="252.6" x2="202.5" y2="252.6" stroke="#0e4e8e" stroke-width="0.75"/><circle cx="200.7" cy="248.3" r="1.35" fill="#0e4e8e"/><circle cx="198.7" cy="252.5" r="1.35" fill="#0e4e8e"/><circle cx="202.7" cy="253" r="1.35" fill="#0e4e8e"/><circle cx="199.7" cy="256" r="1.35" fill="#0e4e8e"/><circle cx="202.2" cy="258" r="1.35" fill="#0e4e8e"/><circle cx="200.7" cy="260.2" r="1.35" fill="#0e4e8e"/><line x1="212.7" y1="256.5" x2="212.7" y2="272.9" stroke="#d2123d" stroke-width="0.75"/><line x1="210.9" y1="256.5" x2="214.5" y2="256.5" stroke="#d2123d" stroke-width="0.75"/><rect x="211.4" y="250.7" width="2.6" height="2.6" fill="#d2123d"/><rect x="209.4" y="262.2" width="2.6" height="2.6" fill="#d2123d"/><rect x="212.9" y="264.7" width="2.6" height="2.6" fill="#d2123d"/><rect x="213.4" y="268.7" width="2.6" height="2.6" fill="#d2123d"/><rect x="210.4" y="271.7" width="2.6" height="2.6" fill="#d2123d"/><rect x="230" y="257.3" width="7.4" height="34.2" fill="#6893bb" stroke="#5584b2" stroke-width="0.6"/><rect x="242" y="258.6" width="7.4" height="32.9" fill="#de6f83" stroke="#d9566f" stroke-width="0.6"/><line x1="233.7" y1="255" x2="233.7" y2="259" stroke="#0e4e8e" stroke-width="0.75"/><line x1="231.9" y1="255" x2="235.5" y2="255" stroke="#0e4e8e" stroke-width="0.75"/><circle cx="231.2" cy="252" r="1.35" fill="#0e4e8e"/><circle cx="233.7" cy="254" r="1.35" fill="#0e4e8e"/><circle cx="236.2" cy="253.5" r="1.35" fill="#0e4e8e"/><circle cx="232.7" cy="257" r="1.35" fill="#0e4e8e"/><circle cx="235.2" cy="259" r="1.35" fill="#0e4e8e"/><circle cx="233.7" cy="260" r="1.35" fill="#0e4e8e"/><line x1="245.7" y1="253.3" x2="245.7" y2="263.3" stroke="#d2123d" stroke-width="0.75"/><line x1="243.9" y1="253.3" x2="247.5" y2="253.3" stroke="#d2123d" stroke-width="0.75"/><rect x="246.4" y="251.6" width="2.6" height="2.6" fill="#d2123d"/><rect x="243.4" y="253.7" width="2.6" height="2.6" fill="#d2123d"/><rect x="242.4" y="258.7" width="2.6" height="2.6" fill="#d2123d"/><rect x="245.4" y="260.7" width="2.6" height="2.6" fill="#d2123d"/><rect x="244.4" y="264.3" width="2.6" height="2.6" fill="#d2123d"/><line x1="159.5" y1="235.8" x2="159.5" y2="292" stroke="#1e1e1e" stroke-width="1"/><line x1="159" y1="291.5" x2="252" y2="291.5" stroke="#1e1e1e" stroke-width="1"/><line x1="156.5" y1="291.5" x2="159.5" y2="291.5" stroke="#1e1e1e" stroke-width="1"/><text class="tk" transform="translate(153.3 294.6) scale(0.82 1)" font-size="8.8" text-anchor="end" font-weight="normal" fill="#141414"><tspan>0</tspan></text><line x1="156.5" y1="277.5" x2="159.5" y2="277.5" stroke="#1e1e1e" stroke-width="1"/><text class="tk" transform="translate(153.3 280.7) scale(0.82 1)" font-size="8.8" text-anchor="end" font-weight="normal" fill="#141414"><tspan>20</tspan></text><line x1="156.5" y1="263.5" x2="159.5" y2="263.5" stroke="#1e1e1e" stroke-width="1"/><text class="tk" transform="translate(153.3 266.8) scale(0.82 1)" font-size="8.8" text-anchor="end" font-weight="normal" fill="#141414"><tspan>40</tspan></text><line x1="156.5" y1="249.5" x2="159.5" y2="249.5" stroke="#1e1e1e" stroke-width="1"/><text class="tk" transform="translate(153.3 252.9) scale(0.82 1)" font-size="8.8" text-anchor="end" font-weight="normal" fill="#141414"><tspan>60</tspan></text><line x1="156.5" y1="235.5" x2="159.5" y2="235.5" stroke="#1e1e1e" stroke-width="1"/><text class="tk" transform="translate(153.3 239) scale(0.82 1)" font-size="8.8" text-anchor="end" font-weight="normal" fill="#141414"><tspan>80</tspan></text><line x1="173.5" y1="291.5" x2="173.5" y2="293.9" stroke="#1e1e1e" stroke-width="0.9"/><line x1="206.5" y1="291.5" x2="206.5" y2="293.9" stroke="#1e1e1e" stroke-width="0.9"/><line x1="239.5" y1="291.5" x2="239.5" y2="293.9" stroke="#1e1e1e" stroke-width="0.9"/><text x="173.7" y="304.2" font-size="8.7" text-anchor="middle" font-weight="normal" fill="#141414" textLength="24.3" lengthAdjust="spacingAndGlyphs"><tspan>Spleen</tspan></text><text x="206.7" y="304.2" font-size="8.7" text-anchor="middle" font-weight="normal" fill="#141414" textLength="5.4" lengthAdjust="spacingAndGlyphs"><tspan>SI</tspan></text><text x="239.7" y="304.2" font-size="8.7" text-anchor="middle" font-weight="normal" fill="#141414" textLength="21" lengthAdjust="spacingAndGlyphs"><tspan>Colon</tspan></text><line x1="168.5" y1="243.5" x2="178.9" y2="243.5" stroke="#222" stroke-width="1"/><polygon points="171.7,236.25 172.32,237.55 173.74,237.74 172.7,238.72 172.96,240.14 171.7,239.45 170.44,240.14 170.7,238.72 169.66,237.74 171.08,237.55" fill="#111"/><polygon points="175.7,236.25 176.32,237.55 177.74,237.74 176.7,238.72 176.96,240.14 175.7,239.45 174.44,240.14 174.7,238.72 173.66,237.74 175.08,237.55" fill="#111"/><text transform="translate(142.8 263.7) rotate(-90)" x="0" y="0" font-size="9.8" text-anchor="middle" font-weight="normal" fill="#141414" textLength="47.5" lengthAdjust="spacingAndGlyphs"><tspan>% CD8</tspan><tspan dy="-3.53" font-size="5.2">+</tspan><tspan dy="3.53"> T cells</tspan></text><rect x="42.8" y="357.5" width="7.4" height="22.6" fill="#6893bb" stroke="#5584b2" stroke-width="0.6"/><rect x="54.8" y="364.2" width="7.4" height="15.9" fill="#de6f83" stroke="#d9566f" stroke-width="0.6"/><line x1="46.5" y1="346.2" x2="46.5" y2="368.2" stroke="#0e4e8e" stroke-width="0.75"/><line x1="44.7" y1="346.2" x2="48.3" y2="346.2" stroke="#0e4e8e" stroke-width="0.75"/><circle cx="44.83" cy="368.96" r="1.35" fill="#0e4e8e"/><circle cx="46.59" cy="355.58" r="1.35" fill="#0e4e8e"/><circle cx="49.1" cy="358.09" r="1.35" fill="#0e4e8e"/><circle cx="47.17" cy="360.5" r="1.35" fill="#0e4e8e"/><circle cx="46.87" cy="360.8" r="1.35" fill="#0e4e8e"/><circle cx="45.92" cy="360.01" r="1.35" fill="#0e4e8e"/><circle cx="43.72" cy="357.61" r="1.35" fill="#0e4e8e"/><circle cx="46.37" cy="363.21" r="1.35" fill="#0e4e8e"/><circle cx="48.49" cy="355.26" r="1.35" fill="#0e4e8e"/><circle cx="46.34" cy="357.18" r="1.35" fill="#0e4e8e"/><circle cx="48.81" cy="361.13" r="1.35" fill="#0e4e8e"/><circle cx="47.72" cy="333.1" r="1.35" fill="#0e4e8e"/><circle cx="45.89" cy="346.3" r="1.35" fill="#0e4e8e"/><line x1="58.5" y1="355.9" x2="58.5" y2="371.9" stroke="#d2123d" stroke-width="0.75"/><line x1="56.7" y1="355.9" x2="60.3" y2="355.9" stroke="#d2123d" stroke-width="0.75"/><rect x="59.95" y="359.99" width="2.6" height="2.6" fill="#d2123d"/><rect x="57.98" y="365.63" width="2.6" height="2.6" fill="#d2123d"/><rect x="55.52" y="360.53" width="2.6" height="2.6" fill="#d2123d"/><rect x="55.8" y="370.97" width="2.6" height="2.6" fill="#d2123d"/><rect x="59.02" y="357.02" width="2.6" height="2.6" fill="#d2123d"/><rect x="55.37" y="357.15" width="2.6" height="2.6" fill="#d2123d"/><rect x="60.19" y="360.64" width="2.6" height="2.6" fill="#d2123d"/><rect x="57.9" y="367.81" width="2.6" height="2.6" fill="#d2123d"/><rect x="59.89" y="361.58" width="2.6" height="2.6" fill="#d2123d"/><rect x="59.02" y="363.7" width="2.6" height="2.6" fill="#d2123d"/><rect x="54.35" y="363.85" width="2.6" height="2.6" fill="#d2123d"/><rect x="58.66" y="348.7" width="2.6" height="2.6" fill="#d2123d"/><rect x="75.7" y="369.6" width="7.4" height="10.5" fill="#6893bb" stroke="#5584b2" stroke-width="0.6"/><rect x="87.7" y="376.5" width="7.4" height="3.6" fill="#de6f83" stroke="#d9566f" stroke-width="0.6"/><line x1="79.4" y1="366.3" x2="79.4" y2="372.3" stroke="#0e4e8e" stroke-width="0.75"/><line x1="77.6" y1="366.3" x2="81.2" y2="366.3" stroke="#0e4e8e" stroke-width="0.75"/><circle cx="76.92" cy="370.34" r="1.35" fill="#0e4e8e"/><circle cx="79.97" cy="369" r="1.35" fill="#0e4e8e"/><circle cx="78.92" cy="373.96" r="1.35" fill="#0e4e8e"/><circle cx="79.06" cy="372.26" r="1.35" fill="#0e4e8e"/><circle cx="81.8" cy="374.33" r="1.35" fill="#0e4e8e"/><circle cx="80.45" cy="373.35" r="1.35" fill="#0e4e8e"/><circle cx="79.01" cy="366.32" r="1.35" fill="#0e4e8e"/><circle cx="80.97" cy="372.91" r="1.35" fill="#0e4e8e"/><circle cx="76.43" cy="371.95" r="1.35" fill="#0e4e8e"/><circle cx="76.84" cy="367.88" r="1.35" fill="#0e4e8e"/><circle cx="80.33" cy="371.49" r="1.35" fill="#0e4e8e"/><circle cx="79.28" cy="362" r="1.35" fill="#0e4e8e"/><line x1="91.4" y1="375.2" x2="91.4" y2="377.2" stroke="#d2123d" stroke-width="0.75"/><line x1="89.6" y1="375.2" x2="93.2" y2="375.2" stroke="#d2123d" stroke-width="0.75"/><rect x="90.95" y="375.25" width="2.6" height="2.6" fill="#d2123d"/><rect x="89.28" y="376.59" width="2.6" height="2.6" fill="#d2123d"/><rect x="88.22" y="376.82" width="2.6" height="2.6" fill="#d2123d"/><rect x="92.41" y="376.01" width="2.6" height="2.6" fill="#d2123d"/><rect x="89.73" y="377.32" width="2.6" height="2.6" fill="#d2123d"/><rect x="87.35" y="375.56" width="2.6" height="2.6" fill="#d2123d"/><rect x="89.97" y="376.24" width="2.6" height="2.6" fill="#d2123d"/><rect x="87.85" y="376.23" width="2.6" height="2.6" fill="#d2123d"/><rect x="87.17" y="376.75" width="2.6" height="2.6" fill="#d2123d"/><rect x="88.85" y="376.62" width="2.6" height="2.6" fill="#d2123d"/><rect x="88.56" y="376.1" width="2.6" height="2.6" fill="#d2123d"/><rect x="108.6" y="369.1" width="7.4" height="11" fill="#6893bb" stroke="#5584b2" stroke-width="0.6"/><rect x="120.6" y="373.2" width="7.4" height="6.9" fill="#de6f83" stroke="#d9566f" stroke-width="0.6"/><line x1="112.3" y1="361.8" x2="112.3" y2="375.8" stroke="#0e4e8e" stroke-width="0.75"/><line x1="110.5" y1="361.8" x2="114.1" y2="361.8" stroke="#0e4e8e" stroke-width="0.75"/><circle cx="109.47" cy="365.35" r="1.35" fill="#0e4e8e"/><circle cx="110.35" cy="366.4" r="1.35" fill="#0e4e8e"/><circle cx="112.23" cy="365.57" r="1.35" fill="#0e4e8e"/><circle cx="112.2" cy="363.78" r="1.35" fill="#0e4e8e"/><circle cx="113.07" cy="370.58" r="1.35" fill="#0e4e8e"/><circle cx="111.16" cy="370.34" r="1.35" fill="#0e4e8e"/><circle cx="115.26" cy="370.45" r="1.35" fill="#0e4e8e"/><circle cx="113.22" cy="369.17" r="1.35" fill="#0e4e8e"/><circle cx="112.83" cy="371.77" r="1.35" fill="#0e4e8e"/><circle cx="112.93" cy="371.79" r="1.35" fill="#0e4e8e"/><circle cx="109.59" cy="372.59" r="1.35" fill="#0e4e8e"/><line x1="124.3" y1="369.9" x2="124.3" y2="375.9" stroke="#d2123d" stroke-width="0.75"/><line x1="122.5" y1="369.9" x2="126.1" y2="369.9" stroke="#d2123d" stroke-width="0.75"/><rect x="123.63" y="369.71" width="2.6" height="2.6" fill="#d2123d"/><rect x="120.22" y="369.94" width="2.6" height="2.6" fill="#d2123d"/><rect x="120.51" y="369.09" width="2.6" height="2.6" fill="#d2123d"/><rect x="120.42" y="371.83" width="2.6" height="2.6" fill="#d2123d"/><rect x="120.72" y="374.93" width="2.6" height="2.6" fill="#d2123d"/><rect x="123.24" y="370.86" width="2.6" height="2.6" fill="#d2123d"/><rect x="122.98" y="369.93" width="2.6" height="2.6" fill="#d2123d"/><rect x="125.4" y="372.48" width="2.6" height="2.6" fill="#d2123d"/><rect x="121.69" y="374.65" width="2.6" height="2.6" fill="#d2123d"/><rect x="120.98" y="371.64" width="2.6" height="2.6" fill="#d2123d"/><rect x="124.59" y="375.14" width="2.6" height="2.6" fill="#d2123d"/><rect x="122.45" y="366.2" width="2.6" height="2.6" fill="#d2123d"/><line x1="38.5" y1="325.8" x2="38.5" y2="381" stroke="#1e1e1e" stroke-width="1"/><line x1="38" y1="380.5" x2="132.5" y2="380.5" stroke="#1e1e1e" stroke-width="1"/><line x1="35.5" y1="380.5" x2="38.5" y2="380.5" stroke="#1e1e1e" stroke-width="1"/><text class="tk" transform="translate(32.3 383.2) scale(0.82 1)" font-size="8.8" text-anchor="end" font-weight="normal" fill="#141414"><tspan>0</tspan></text><line x1="35.5" y1="369.5" x2="38.5" y2="369.5" stroke="#1e1e1e" stroke-width="1"/><text class="tk" transform="translate(32.3 372.34) scale(0.82 1)" font-size="8.8" text-anchor="end" font-weight="normal" fill="#141414"><tspan>1</tspan></text><line x1="35.5" y1="358.5" x2="38.5" y2="358.5" stroke="#1e1e1e" stroke-width="1"/><text class="tk" transform="translate(32.3 361.48) scale(0.82 1)" font-size="8.8" text-anchor="end" font-weight="normal" fill="#141414"><tspan>2</tspan></text><line x1="35.5" y1="347.5" x2="38.5" y2="347.5" stroke="#1e1e1e" stroke-width="1"/><text class="tk" transform="translate(32.3 350.62) scale(0.82 1)" font-size="8.8" text-anchor="end" font-weight="normal" fill="#141414"><tspan>3</tspan></text><line x1="35.5" y1="336.5" x2="38.5" y2="336.5" stroke="#1e1e1e" stroke-width="1"/><text class="tk" transform="translate(32.3 339.76) scale(0.82 1)" font-size="8.8" text-anchor="end" font-weight="normal" fill="#141414"><tspan>4</tspan></text><line x1="35.5" y1="325.5" x2="38.5" y2="325.5" stroke="#1e1e1e" stroke-width="1"/><text class="tk" transform="translate(32.3 328.9) scale(0.82 1)" font-size="8.8" text-anchor="end" font-weight="normal" fill="#141414"><tspan>5</tspan></text><line x1="52.5" y1="380.5" x2="52.5" y2="382.9" stroke="#1e1e1e" stroke-width="0.9"/><line x1="85.5" y1="380.5" x2="85.5" y2="382.9" stroke="#1e1e1e" stroke-width="0.9"/><line x1="118.5" y1="380.5" x2="118.5" y2="382.9" stroke="#1e1e1e" stroke-width="0.9"/><text x="52.5" y="393.2" font-size="8.7" text-anchor="middle" font-weight="normal" fill="#141414" textLength="24.3" lengthAdjust="spacingAndGlyphs"><tspan>Spleen</tspan></text><text x="85.4" y="393.2" font-size="8.7" text-anchor="middle" font-weight="normal" fill="#141414" textLength="5.4" lengthAdjust="spacingAndGlyphs"><tspan>SI</tspan></text><text x="118.3" y="393.2" font-size="8.7" text-anchor="middle" font-weight="normal" fill="#141414" textLength="21" lengthAdjust="spacingAndGlyphs"><tspan>Colon</tspan></text><line x1="79.4" y1="349.5" x2="91.4" y2="349.5" stroke="#222" stroke-width="1"/><polygon points="79.4,341.85 80.02,343.15 81.44,343.34 80.4,344.32 80.66,345.74 79.4,345.05 78.14,345.74 78.4,344.32 77.36,343.34 78.78,343.15" fill="#111"/><polygon points="83.4,341.85 84.02,343.15 85.44,343.34 84.4,344.32 84.66,345.74 83.4,345.05 82.14,345.74 82.4,344.32 81.36,343.34 82.78,343.15" fill="#111"/><polygon points="87.4,341.85 88.02,343.15 89.44,343.34 88.4,344.32 88.66,345.74 87.4,345.05 86.14,345.74 86.4,344.32 85.36,343.34 86.78,343.15" fill="#111"/><polygon points="91.4,341.85 92.02,343.15 93.44,343.34 92.4,344.32 92.66,345.74 91.4,345.05 90.14,345.74 90.4,344.32 89.36,343.34 90.78,343.15" fill="#111"/><line x1="113.1" y1="348.5" x2="123.5" y2="348.5" stroke="#222" stroke-width="1"/><polygon points="114.3,340.95 114.92,342.25 116.34,342.44 115.3,343.42 115.56,344.84 114.3,344.15 113.04,344.84 113.3,343.42 112.26,342.44 113.68,342.25" fill="#111"/><polygon points="118.3,340.95 118.92,342.25 120.34,342.44 119.3,343.42 119.56,344.84 118.3,344.15 117.04,344.84 117.3,343.42 116.26,342.44 117.68,342.25" fill="#111"/><polygon points="122.3,340.95 122.92,342.25 124.34,342.44 123.3,343.42 123.56,344.84 122.3,344.15 121.04,344.84 121.3,343.42 120.26,342.44 121.68,342.25" fill="#111"/><text transform="translate(16.5 352.8) rotate(-90)" x="0" y="0" font-size="9.8" text-anchor="middle" font-weight="normal" fill="#141414" textLength="61" lengthAdjust="spacingAndGlyphs"><tspan>CD8</tspan><tspan dy="-3.53" font-size="5.2">+</tspan><tspan dy="3.53"> T cells (x10</tspan><tspan dy="-3.53" font-size="5.2">5</tspan><tspan dy="3.53">)</tspan></text><rect x="164.6" y="328.3" width="7.4" height="50.5" fill="#6893bb" stroke="#5584b2" stroke-width="0.6"/><rect x="163.8" y="341" width="9" height="2.8" fill="#ffffff"/><rect x="176.6" y="336.5" width="7.4" height="42.3" fill="#de6f83" stroke="#d9566f" stroke-width="0.6"/><rect x="175.8" y="341" width="9" height="2.8" fill="#ffffff"/><line x1="168.3" y1="326.5" x2="168.3" y2="329.5" stroke="#0e4e8e" stroke-width="0.75"/><line x1="166.5" y1="326.5" x2="170.1" y2="326.5" stroke="#0e4e8e" stroke-width="0.75"/><circle cx="165.89" cy="332.15" r="1.35" fill="#0e4e8e"/><circle cx="169.82" cy="326.77" r="1.35" fill="#0e4e8e"/><circle cx="166.82" cy="326.76" r="1.35" fill="#0e4e8e"/><circle cx="170.82" cy="326.34" r="1.35" fill="#0e4e8e"/><circle cx="166.13" cy="330.69" r="1.35" fill="#0e4e8e"/><line x1="180.3" y1="335.2" x2="180.3" y2="337.2" stroke="#d2123d" stroke-width="0.75"/><line x1="178.5" y1="335.2" x2="182.1" y2="335.2" stroke="#d2123d" stroke-width="0.75"/><rect x="178.33" y="335.46" width="2.6" height="2.6" fill="#d2123d"/><rect x="176.25" y="336.42" width="2.6" height="2.6" fill="#d2123d"/><rect x="181.83" y="335.66" width="2.6" height="2.6" fill="#d2123d"/><rect x="177.17" y="334.56" width="2.6" height="2.6" fill="#d2123d"/><rect x="179.6" y="332.96" width="2.6" height="2.6" fill="#d2123d"/><rect x="197.6" y="359" width="7.4" height="19.8" fill="#6893bb" stroke="#5584b2" stroke-width="0.6"/><rect x="209.6" y="373.3" width="7.4" height="5.5" fill="#de6f83" stroke="#d9566f" stroke-width="0.6"/><line x1="201.3" y1="350.7" x2="201.3" y2="366.7" stroke="#0e4e8e" stroke-width="0.75"/><line x1="199.5" y1="350.7" x2="203.1" y2="350.7" stroke="#0e4e8e" stroke-width="0.75"/><circle cx="198.67" cy="365.91" r="1.35" fill="#0e4e8e"/><circle cx="198.46" cy="362.28" r="1.35" fill="#0e4e8e"/><circle cx="198.79" cy="363.87" r="1.35" fill="#0e4e8e"/><circle cx="200.53" cy="352.3" r="1.35" fill="#0e4e8e"/><circle cx="200.33" cy="354.75" r="1.35" fill="#0e4e8e"/><line x1="213.3" y1="371" x2="213.3" y2="375" stroke="#d2123d" stroke-width="0.75"/><line x1="211.5" y1="371" x2="215.1" y2="371" stroke="#d2123d" stroke-width="0.75"/><rect x="211.81" y="370.54" width="2.6" height="2.6" fill="#d2123d"/><rect x="210.54" y="376" width="2.6" height="2.6" fill="#d2123d"/><rect x="212.31" y="373.09" width="2.6" height="2.6" fill="#d2123d"/><rect x="209.71" y="371.7" width="2.6" height="2.6" fill="#d2123d"/><rect x="209.94" y="369.79" width="2.6" height="2.6" fill="#d2123d"/><rect x="230.6" y="372" width="7.4" height="6.8" fill="#6893bb" stroke="#5584b2" stroke-width="0.6"/><rect x="242.6" y="377.3" width="7.4" height="1.5" fill="#de6f83" stroke="#d9566f" stroke-width="0.6"/><line x1="234.3" y1="366.7" x2="234.3" y2="376.7" stroke="#0e4e8e" stroke-width="0.75"/><line x1="232.5" y1="366.7" x2="236.1" y2="366.7" stroke="#0e4e8e" stroke-width="0.75"/><circle cx="231.92" cy="370.65" r="1.35" fill="#0e4e8e"/><circle cx="236.24" cy="373.26" r="1.35" fill="#0e4e8e"/><circle cx="236.1" cy="366.09" r="1.35" fill="#0e4e8e"/><circle cx="234.89" cy="365.62" r="1.35" fill="#0e4e8e"/><circle cx="232.64" cy="368.58" r="1.35" fill="#0e4e8e"/><line x1="246.3" y1="376" x2="246.3" y2="378" stroke="#d2123d" stroke-width="0.75"/><line x1="244.5" y1="376" x2="248.1" y2="376" stroke="#d2123d" stroke-width="0.75"/><rect x="243.62" y="376.3" width="2.6" height="2.6" fill="#d2123d"/><rect x="245.52" y="373.85" width="2.6" height="2.6" fill="#d2123d"/><rect x="245.22" y="374.03" width="2.6" height="2.6" fill="#d2123d"/><rect x="247.45" y="374.22" width="2.6" height="2.6" fill="#d2123d"/><rect x="243.44" y="375.93" width="2.6" height="2.6" fill="#d2123d"/><line x1="159.5" y1="325" x2="159.5" y2="341.2" stroke="#1e1e1e" stroke-width="1"/><line x1="159.5" y1="343.8" x2="159.5" y2="379" stroke="#1e1e1e" stroke-width="1"/><line x1="157.9" y1="341.2" x2="161.3" y2="341.2" stroke="#1e1e1e" stroke-width="0.9"/><line x1="157.9" y1="343.8" x2="161.3" y2="343.8" stroke="#1e1e1e" stroke-width="0.9"/><line x1="159" y1="378.5" x2="252" y2="378.5" stroke="#1e1e1e" stroke-width="1"/><line x1="156.5" y1="325.5" x2="159.5" y2="325.5" stroke="#1e1e1e" stroke-width="1"/><text class="tk" transform="translate(153.3 328.1) scale(0.82 1)" font-size="8.8" text-anchor="end" font-weight="normal" fill="#141414"><tspan>12</tspan></text><line x1="156.5" y1="333.5" x2="159.5" y2="333.5" stroke="#1e1e1e" stroke-width="1"/><text class="tk" transform="translate(153.3 336.85) scale(0.82 1)" font-size="8.8" text-anchor="end" font-weight="normal" fill="#141414"><tspan>6.0</tspan></text><line x1="156.5" y1="345.5" x2="159.5" y2="345.5" stroke="#1e1e1e" stroke-width="1"/><text class="tk" transform="translate(153.3 348.1) scale(0.82 1)" font-size="8.8" text-anchor="end" font-weight="normal" fill="#141414"><tspan>0.8</tspan></text><line x1="156.5" y1="353.5" x2="159.5" y2="353.5" stroke="#1e1e1e" stroke-width="1"/><text class="tk" transform="translate(153.3 356.85) scale(0.82 1)" font-size="8.8" text-anchor="end" font-weight="normal" fill="#141414"><tspan>0.6</tspan></text><line x1="156.5" y1="362.5" x2="159.5" y2="362.5" stroke="#1e1e1e" stroke-width="1"/><text class="tk" transform="translate(153.3 365.4) scale(0.82 1)" font-size="8.8" text-anchor="end" font-weight="normal" fill="#141414"><tspan>0.4</tspan></text><line x1="156.5" y1="370.5" x2="159.5" y2="370.5" stroke="#1e1e1e" stroke-width="1"/><text class="tk" transform="translate(153.3 373.6) scale(0.82 1)" font-size="8.8" text-anchor="end" font-weight="normal" fill="#141414"><tspan>0.2</tspan></text><line x1="156.5" y1="378.5" x2="159.5" y2="378.5" stroke="#1e1e1e" stroke-width="1"/><text class="tk" transform="translate(153.3 381.9) scale(0.82 1)" font-size="8.8" text-anchor="end" font-weight="normal" fill="#141414"><tspan>0</tspan></text><line x1="174.5" y1="378.5" x2="174.5" y2="380.9" stroke="#1e1e1e" stroke-width="0.9"/><line x1="207.5" y1="378.5" x2="207.5" y2="380.9" stroke="#1e1e1e" stroke-width="0.9"/><line x1="240.5" y1="378.5" x2="240.5" y2="380.9" stroke="#1e1e1e" stroke-width="0.9"/><text x="174.3" y="391.2" font-size="8.7" text-anchor="middle" font-weight="normal" fill="#141414" textLength="24.3" lengthAdjust="spacingAndGlyphs"><tspan>Spleen</tspan></text><text x="207.3" y="391.2" font-size="8.7" text-anchor="middle" font-weight="normal" fill="#141414" textLength="5.4" lengthAdjust="spacingAndGlyphs"><tspan>SI</tspan></text><text x="240.3" y="391.2" font-size="8.7" text-anchor="middle" font-weight="normal" fill="#141414" textLength="21" lengthAdjust="spacingAndGlyphs"><tspan>Colon</tspan></text><line x1="169.1" y1="323.5" x2="179.5" y2="323.5" stroke="#222" stroke-width="1"/><polygon points="172.3,317.05 172.92,318.35 174.34,318.54 173.3,319.52 173.56,320.94 172.3,320.25 171.04,320.94 171.3,319.52 170.26,318.54 171.68,318.35" fill="#111"/><polygon points="176.3,317.05 176.92,318.35 178.34,318.54 177.3,319.52 177.56,320.94 176.3,320.25 175.04,320.94 175.3,319.52 174.26,318.54 175.68,318.35" fill="#111"/><line x1="202.1" y1="345.5" x2="212.5" y2="345.5" stroke="#222" stroke-width="1"/><polygon points="205.3,338.25 205.92,339.55 207.34,339.74 206.3,340.72 206.56,342.14 205.3,341.45 204.04,342.14 204.3,340.72 203.26,339.74 204.68,339.55" fill="#111"/><polygon points="209.3,338.25 209.92,339.55 211.34,339.74 210.3,340.72 210.56,342.14 209.3,341.45 208.04,342.14 208.3,340.72 207.26,339.74 208.68,339.55" fill="#111"/><text transform="translate(141.3 351.9) rotate(-90)" x="0" y="0" font-size="9.8" text-anchor="middle" font-weight="normal" fill="#141414" textLength="61.5" lengthAdjust="spacingAndGlyphs"><tspan>CD8</tspan><tspan dy="-3.53" font-size="5.2">+</tspan><tspan dy="3.53"> T cells (x10</tspan><tspan dy="-3.53" font-size="5.2">5</tspan><tspan dy="3.53">)</tspan></text><rect x="299" y="271.9" width="7.4" height="19.6" fill="#6893bb" stroke="#5584b2" stroke-width="0.6"/><rect x="311" y="274.6" width="7.4" height="16.9" fill="#de6f83" stroke="#d9566f" stroke-width="0.6"/><line x1="302.7" y1="259.1" x2="302.7" y2="284.1" stroke="#0e4e8e" stroke-width="0.75"/><line x1="300.9" y1="259.1" x2="304.5" y2="259.1" stroke="#0e4e8e" stroke-width="0.75"/><circle cx="303.71" cy="265.25" r="1.35" fill="#0e4e8e"/><circle cx="299.73" cy="279.22" r="1.35" fill="#0e4e8e"/><circle cx="302.84" cy="268.54" r="1.35" fill="#0e4e8e"/><circle cx="302.95" cy="274.94" r="1.35" fill="#0e4e8e"/><circle cx="305.2" cy="268.57" r="1.35" fill="#0e4e8e"/><circle cx="302.31" cy="267.14" r="1.35" fill="#0e4e8e"/><circle cx="303.43" cy="269.33" r="1.35" fill="#0e4e8e"/><circle cx="299.72" cy="277.44" r="1.35" fill="#0e4e8e"/><circle cx="299.95" cy="279.78" r="1.35" fill="#0e4e8e"/><circle cx="302.35" cy="264.7" r="1.35" fill="#0e4e8e"/><circle cx="301.93" cy="269.17" r="1.35" fill="#0e4e8e"/><circle cx="304.09" cy="249.6" r="1.35" fill="#0e4e8e"/><circle cx="301.39" cy="255.9" r="1.35" fill="#0e4e8e"/><line x1="314.7" y1="261.3" x2="314.7" y2="287.3" stroke="#d2123d" stroke-width="0.75"/><line x1="312.9" y1="261.3" x2="316.5" y2="261.3" stroke="#d2123d" stroke-width="0.75"/><rect x="312.33" y="278.36" width="2.6" height="2.6" fill="#d2123d"/><rect x="311.14" y="264.15" width="2.6" height="2.6" fill="#d2123d"/><rect x="313.32" y="274.63" width="2.6" height="2.6" fill="#d2123d"/><rect x="313.23" y="266.38" width="2.6" height="2.6" fill="#d2123d"/><rect x="313.69" y="269.35" width="2.6" height="2.6" fill="#d2123d"/><rect x="313.01" y="275.21" width="2.6" height="2.6" fill="#d2123d"/><rect x="313.5" y="279.52" width="2.6" height="2.6" fill="#d2123d"/><rect x="312.34" y="283.81" width="2.6" height="2.6" fill="#d2123d"/><rect x="315.98" y="276.41" width="2.6" height="2.6" fill="#d2123d"/><rect x="311.59" y="271.26" width="2.6" height="2.6" fill="#d2123d"/><rect x="311.8" y="278.42" width="2.6" height="2.6" fill="#d2123d"/><rect x="313.11" y="253.7" width="2.6" height="2.6" fill="#d2123d"/><rect x="332" y="271.6" width="7.4" height="19.9" fill="#6893bb" stroke="#5584b2" stroke-width="0.6"/><rect x="344" y="276.1" width="7.4" height="15.4" fill="#de6f83" stroke="#d9566f" stroke-width="0.6"/><line x1="335.7" y1="267.3" x2="335.7" y2="275.3" stroke="#0e4e8e" stroke-width="0.75"/><line x1="333.9" y1="267.3" x2="337.5" y2="267.3" stroke="#0e4e8e" stroke-width="0.75"/><circle cx="336.06" cy="277.3" r="1.35" fill="#0e4e8e"/><circle cx="332.83" cy="268.46" r="1.35" fill="#0e4e8e"/><circle cx="335.78" cy="273.94" r="1.35" fill="#0e4e8e"/><circle cx="336.52" cy="267.93" r="1.35" fill="#0e4e8e"/><circle cx="333.77" cy="266.31" r="1.35" fill="#0e4e8e"/><circle cx="334.2" cy="268.95" r="1.35" fill="#0e4e8e"/><circle cx="334.74" cy="268.57" r="1.35" fill="#0e4e8e"/><circle cx="335.06" cy="269.83" r="1.35" fill="#0e4e8e"/><circle cx="333.71" cy="269.97" r="1.35" fill="#0e4e8e"/><circle cx="338.38" cy="274.5" r="1.35" fill="#0e4e8e"/><circle cx="334.14" cy="270.43" r="1.35" fill="#0e4e8e"/><line x1="347.7" y1="268.8" x2="347.7" y2="282.8" stroke="#d2123d" stroke-width="0.75"/><line x1="345.9" y1="268.8" x2="349.5" y2="268.8" stroke="#d2123d" stroke-width="0.75"/><rect x="348" y="277.55" width="2.6" height="2.6" fill="#d2123d"/><rect x="349.12" y="278.43" width="2.6" height="2.6" fill="#d2123d"/><rect x="348.39" y="275.69" width="2.6" height="2.6" fill="#d2123d"/><rect x="347.79" y="275.16" width="2.6" height="2.6" fill="#d2123d"/><rect x="346.02" y="271.94" width="2.6" height="2.6" fill="#d2123d"/><rect x="343.65" y="269.07" width="2.6" height="2.6" fill="#d2123d"/><rect x="349.1" y="271.47" width="2.6" height="2.6" fill="#d2123d"/><rect x="348.41" y="276.52" width="2.6" height="2.6" fill="#d2123d"/><rect x="346.63" y="273.52" width="2.6" height="2.6" fill="#d2123d"/><rect x="348.46" y="269.29" width="2.6" height="2.6" fill="#d2123d"/><rect x="345.32" y="276.82" width="2.6" height="2.6" fill="#d2123d"/><rect x="346.76" y="263.7" width="2.6" height="2.6" fill="#d2123d"/><rect x="365" y="261.6" width="7.4" height="29.9" fill="#6893bb" stroke="#5584b2" stroke-width="0.6"/><rect x="377" y="263.4" width="7.4" height="28.1" fill="#de6f83" stroke="#d9566f" stroke-width="0.6"/><line x1="368.7" y1="252.6" x2="368.7" y2="270" stroke="#0e4e8e" stroke-width="0.75"/><line x1="366.9" y1="252.6" x2="370.5" y2="252.6" stroke="#0e4e8e" stroke-width="0.75"/><circle cx="370.41" cy="267.36" r="1.35" fill="#0e4e8e"/><circle cx="369.9" cy="269.23" r="1.35" fill="#0e4e8e"/><circle cx="365.79" cy="266.47" r="1.35" fill="#0e4e8e"/><circle cx="366.04" cy="261.91" r="1.35" fill="#0e4e8e"/><circle cx="365.98" cy="268.01" r="1.35" fill="#0e4e8e"/><circle cx="366.75" cy="263.02" r="1.35" fill="#0e4e8e"/><circle cx="366.02" cy="256.25" r="1.35" fill="#0e4e8e"/><circle cx="369.17" cy="260.37" r="1.35" fill="#0e4e8e"/><circle cx="367.26" cy="266.34" r="1.35" fill="#0e4e8e"/><circle cx="369.67" cy="265.45" r="1.35" fill="#0e4e8e"/><circle cx="371.01" cy="268.19" r="1.35" fill="#0e4e8e"/><circle cx="367.25" cy="245" r="1.35" fill="#0e4e8e"/><circle cx="367.72" cy="249.6" r="1.35" fill="#0e4e8e"/><line x1="380.7" y1="253.5" x2="380.7" y2="272.7" stroke="#d2123d" stroke-width="0.75"/><line x1="378.9" y1="253.5" x2="382.5" y2="253.5" stroke="#d2123d" stroke-width="0.75"/><rect x="377.79" y="259.47" width="2.6" height="2.6" fill="#d2123d"/><rect x="377.61" y="256.81" width="2.6" height="2.6" fill="#d2123d"/><rect x="380.42" y="255.61" width="2.6" height="2.6" fill="#d2123d"/><rect x="382.2" y="263.14" width="2.6" height="2.6" fill="#d2123d"/><rect x="378.39" y="260.48" width="2.6" height="2.6" fill="#d2123d"/><rect x="379.04" y="266.9" width="2.6" height="2.6" fill="#d2123d"/><rect x="380.5" y="253.37" width="2.6" height="2.6" fill="#d2123d"/><rect x="377.63" y="261.3" width="2.6" height="2.6" fill="#d2123d"/><rect x="377.18" y="266.15" width="2.6" height="2.6" fill="#d2123d"/><rect x="381.48" y="271.18" width="2.6" height="2.6" fill="#d2123d"/><rect x="376.64" y="254.29" width="2.6" height="2.6" fill="#d2123d"/><rect x="379.21" y="243.4" width="2.6" height="2.6" fill="#d2123d"/><rect x="379.95" y="248.3" width="2.6" height="2.6" fill="#d2123d"/><line x1="294.5" y1="235.8" x2="294.5" y2="292" stroke="#1e1e1e" stroke-width="1"/><line x1="294" y1="291.5" x2="388" y2="291.5" stroke="#1e1e1e" stroke-width="1"/><line x1="291.5" y1="291.5" x2="294.5" y2="291.5" stroke="#1e1e1e" stroke-width="1"/><text class="tk" transform="translate(288.3 294.6) scale(0.82 1)" font-size="8.8" text-anchor="end" font-weight="normal" fill="#141414"><tspan>0</tspan></text><line x1="291.5" y1="277.5" x2="294.5" y2="277.5" stroke="#1e1e1e" stroke-width="1"/><text class="tk" transform="translate(288.3 280.7) scale(0.82 1)" font-size="8.8" text-anchor="end" font-weight="normal" fill="#141414"><tspan>20</tspan></text><line x1="291.5" y1="263.5" x2="294.5" y2="263.5" stroke="#1e1e1e" stroke-width="1"/><text class="tk" transform="translate(288.3 266.8) scale(0.82 1)" font-size="8.8" text-anchor="end" font-weight="normal" fill="#141414"><tspan>40</tspan></text><line x1="291.5" y1="249.5" x2="294.5" y2="249.5" stroke="#1e1e1e" stroke-width="1"/><text class="tk" transform="translate(288.3 252.9) scale(0.82 1)" font-size="8.8" text-anchor="end" font-weight="normal" fill="#141414"><tspan>60</tspan></text><line x1="291.5" y1="235.5" x2="294.5" y2="235.5" stroke="#1e1e1e" stroke-width="1"/><text class="tk" transform="translate(288.3 239) scale(0.82 1)" font-size="8.8" text-anchor="end" font-weight="normal" fill="#141414"><tspan>80</tspan></text><line x1="308.5" y1="291.5" x2="308.5" y2="293.9" stroke="#1e1e1e" stroke-width="0.9"/><line x1="341.5" y1="291.5" x2="341.5" y2="293.9" stroke="#1e1e1e" stroke-width="0.9"/><line x1="374.5" y1="291.5" x2="374.5" y2="293.9" stroke="#1e1e1e" stroke-width="0.9"/><text x="308.7" y="304.2" font-size="8.7" text-anchor="middle" font-weight="normal" fill="#141414" textLength="24.3" lengthAdjust="spacingAndGlyphs"><tspan>Spleen</tspan></text><text x="341.7" y="304.2" font-size="8.7" text-anchor="middle" font-weight="normal" fill="#141414" textLength="5.4" lengthAdjust="spacingAndGlyphs"><tspan>SI</tspan></text><text x="374.7" y="304.2" font-size="8.7" text-anchor="middle" font-weight="normal" fill="#141414" textLength="21" lengthAdjust="spacingAndGlyphs"><tspan>Colon</tspan></text><text transform="translate(275.4 264.2) rotate(-90)" x="0" y="0" font-size="9.8" text-anchor="middle" font-weight="normal" fill="#141414" textLength="70.6" lengthAdjust="spacingAndGlyphs"><tspan>% CD8</tspan><tspan dy="-3.53" font-size="5.2">+</tspan><tspan dy="3.53">CD44</tspan><tspan dy="-3.53" font-size="5.2">+</tspan><tspan dy="3.53">CD62L</tspan><tspan dy="-3.53" font-size="5.2">−</tspan></text><rect x="421.8" y="277.5" width="7.4" height="14.3" fill="#6893bb" stroke="#5584b2" stroke-width="0.6"/><rect x="433.8" y="281.1" width="7.4" height="10.7" fill="#de6f83" stroke="#d9566f" stroke-width="0.6"/><line x1="425.5" y1="274.7" x2="425.5" y2="279.7" stroke="#0e4e8e" stroke-width="0.75"/><line x1="423.7" y1="274.7" x2="427.3" y2="274.7" stroke="#0e4e8e" stroke-width="0.75"/><circle cx="423.5" cy="272.1" r="1.35" fill="#0e4e8e"/><circle cx="426.5" cy="275" r="1.35" fill="#0e4e8e"/><circle cx="428" cy="276" r="1.35" fill="#0e4e8e"/><circle cx="424" cy="278" r="1.35" fill="#0e4e8e"/><circle cx="426" cy="280.8" r="1.35" fill="#0e4e8e"/><line x1="437.5" y1="276.3" x2="437.5" y2="285.3" stroke="#d2123d" stroke-width="0.75"/><line x1="435.7" y1="276.3" x2="439.3" y2="276.3" stroke="#d2123d" stroke-width="0.75"/><rect x="436.2" y="271.9" width="2.6" height="2.6" fill="#d2123d"/><rect x="435.2" y="275" width="2.6" height="2.6" fill="#d2123d"/><rect x="438.2" y="278.2" width="2.6" height="2.6" fill="#d2123d"/><rect x="434.2" y="280.2" width="2.6" height="2.6" fill="#d2123d"/><rect x="437.2" y="283.1" width="2.6" height="2.6" fill="#d2123d"/><rect x="454.5" y="263" width="7.4" height="28.8" fill="#6893bb" stroke="#5584b2" stroke-width="0.6"/><rect x="466.5" y="267.6" width="7.4" height="24.2" fill="#de6f83" stroke="#d9566f" stroke-width="0.6"/><line x1="458.2" y1="257.7" x2="458.2" y2="267.7" stroke="#0e4e8e" stroke-width="0.75"/><line x1="456.4" y1="257.7" x2="460" y2="257.7" stroke="#0e4e8e" stroke-width="0.75"/><circle cx="458.2" cy="254" r="1.35" fill="#0e4e8e"/><circle cx="456.2" cy="259.5" r="1.35" fill="#0e4e8e"/><circle cx="460.2" cy="260.5" r="1.35" fill="#0e4e8e"/><circle cx="458.2" cy="264" r="1.35" fill="#0e4e8e"/><circle cx="456.7" cy="267" r="1.35" fill="#0e4e8e"/><circle cx="459.7" cy="269" r="1.35" fill="#0e4e8e"/><line x1="470.2" y1="261" x2="470.2" y2="273.6" stroke="#d2123d" stroke-width="0.75"/><line x1="468.4" y1="261" x2="472" y2="261" stroke="#d2123d" stroke-width="0.75"/><rect x="468.9" y="256" width="2.6" height="2.6" fill="#d2123d"/><rect x="468.9" y="260.5" width="2.6" height="2.6" fill="#d2123d"/><rect x="466.9" y="264.7" width="2.6" height="2.6" fill="#d2123d"/><rect x="470.9" y="266.2" width="2.6" height="2.6" fill="#d2123d"/><rect x="468.9" y="268.7" width="2.6" height="2.6" fill="#d2123d"/><rect x="467.9" y="271.4" width="2.6" height="2.6" fill="#d2123d"/><rect x="487.2" y="248.6" width="7.4" height="43.2" fill="#6893bb" stroke="#5584b2" stroke-width="0.6"/><rect x="499.2" y="263" width="7.4" height="28.8" fill="#de6f83" stroke="#d9566f" stroke-width="0.6"/><line x1="490.9" y1="246.3" x2="490.9" y2="250.3" stroke="#0e4e8e" stroke-width="0.75"/><line x1="489.1" y1="246.3" x2="492.7" y2="246.3" stroke="#0e4e8e" stroke-width="0.75"/><circle cx="488.4" cy="244" r="1.35" fill="#0e4e8e"/><circle cx="490.9" cy="246" r="1.35" fill="#0e4e8e"/><circle cx="493.4" cy="245" r="1.35" fill="#0e4e8e"/><circle cx="489.9" cy="248" r="1.35" fill="#0e4e8e"/><circle cx="492.4" cy="249.5" r="1.35" fill="#0e4e8e"/><circle cx="490.9" cy="251" r="1.35" fill="#0e4e8e"/><line x1="502.9" y1="249.2" x2="502.9" y2="276.2" stroke="#d2123d" stroke-width="0.75"/><line x1="501.1" y1="249.2" x2="504.7" y2="249.2" stroke="#d2123d" stroke-width="0.75"/><rect x="501.6" y="247.9" width="2.6" height="2.6" fill="#d2123d"/><rect x="502.6" y="253.3" width="2.6" height="2.6" fill="#d2123d"/><rect x="500.6" y="253.5" width="2.6" height="2.6" fill="#d2123d"/><rect x="501.6" y="266" width="2.6" height="2.6" fill="#d2123d"/><rect x="501.6" y="280.4" width="2.6" height="2.6" fill="#d2123d"/><line x1="417.5" y1="236.3" x2="417.5" y2="292" stroke="#1e1e1e" stroke-width="1"/><line x1="417" y1="291.5" x2="509.5" y2="291.5" stroke="#1e1e1e" stroke-width="1"/><line x1="414.5" y1="291.5" x2="417.5" y2="291.5" stroke="#1e1e1e" stroke-width="1"/><text class="tk" transform="translate(411.3 294.9) scale(0.82 1)" font-size="8.8" text-anchor="end" font-weight="normal" fill="#141414"><tspan>0</tspan></text><line x1="414.5" y1="280.5" x2="417.5" y2="280.5" stroke="#1e1e1e" stroke-width="1"/><text class="tk" transform="translate(411.3 283.8) scale(0.82 1)" font-size="8.8" text-anchor="end" font-weight="normal" fill="#141414"><tspan>20</tspan></text><line x1="414.5" y1="269.5" x2="417.5" y2="269.5" stroke="#1e1e1e" stroke-width="1"/><text class="tk" transform="translate(411.3 272.7) scale(0.82 1)" font-size="8.8" text-anchor="end" font-weight="normal" fill="#141414"><tspan>40</tspan></text><line x1="414.5" y1="258.5" x2="417.5" y2="258.5" stroke="#1e1e1e" stroke-width="1"/><text class="tk" transform="translate(411.3 261.6) scale(0.82 1)" font-size="8.8" text-anchor="end" font-weight="normal" fill="#141414"><tspan>60</tspan></text><line x1="414.5" y1="247.5" x2="417.5" y2="247.5" stroke="#1e1e1e" stroke-width="1"/><text class="tk" transform="translate(411.3 250.5) scale(0.82 1)" font-size="8.8" text-anchor="end" font-weight="normal" fill="#141414"><tspan>80</tspan></text><line x1="414.5" y1="236.5" x2="417.5" y2="236.5" stroke="#1e1e1e" stroke-width="1"/><text class="tk" transform="translate(411.3 239.4) scale(0.82 1)" font-size="8.8" text-anchor="end" font-weight="normal" fill="#141414"><tspan>100</tspan></text><line x1="431.5" y1="291.5" x2="431.5" y2="293.9" stroke="#1e1e1e" stroke-width="0.9"/><line x1="464.5" y1="291.5" x2="464.5" y2="293.9" stroke="#1e1e1e" stroke-width="0.9"/><line x1="496.5" y1="291.5" x2="496.5" y2="293.9" stroke="#1e1e1e" stroke-width="0.9"/><text x="431.5" y="304.2" font-size="8.7" text-anchor="middle" font-weight="normal" fill="#141414" textLength="24.3" lengthAdjust="spacingAndGlyphs"><tspan>Spleen</tspan></text><text x="464.2" y="304.2" font-size="8.7" text-anchor="middle" font-weight="normal" fill="#141414" textLength="5.4" lengthAdjust="spacingAndGlyphs"><tspan>SI</tspan></text><text x="496.9" y="304.2" font-size="8.7" text-anchor="middle" font-weight="normal" fill="#141414" textLength="21" lengthAdjust="spacingAndGlyphs"><tspan>Colon</tspan></text><line x1="426.3" y1="262.5" x2="436.7" y2="262.5" stroke="#222" stroke-width="1"/><polygon points="431.5,255.75 432.12,257.05 433.54,257.24 432.5,258.22 432.76,259.64 431.5,258.95 430.24,259.64 430.5,258.22 429.46,257.24 430.88,257.05" fill="#111"/><line x1="491.7" y1="238.5" x2="502.1" y2="238.5" stroke="#222" stroke-width="1"/><polygon points="496.9,232.05 497.52,233.35 498.94,233.54 497.9,234.52 498.16,235.94 496.9,235.25 495.64,235.94 495.9,234.52 494.86,233.54 496.28,233.35" fill="#111"/><text transform="translate(398.8 264.2) rotate(-90)" x="0" y="0" font-size="9.8" text-anchor="middle" font-weight="normal" fill="#141414" textLength="70.6" lengthAdjust="spacingAndGlyphs"><tspan>% CD8</tspan><tspan dy="-3.53" font-size="5.2">+</tspan><tspan dy="3.53">CD44</tspan><tspan dy="-3.53" font-size="5.2">+</tspan><tspan dy="3.53">CD62L</tspan><tspan dy="-3.53" font-size="5.2">−</tspan></text><rect x="299" y="367.3" width="7.4" height="12" fill="#6893bb" stroke="#5584b2" stroke-width="0.6"/><rect x="311" y="371.4" width="7.4" height="7.9" fill="#de6f83" stroke="#d9566f" stroke-width="0.6"/><line x1="302.7" y1="358" x2="302.7" y2="376" stroke="#0e4e8e" stroke-width="0.75"/><line x1="300.9" y1="358" x2="304.5" y2="358" stroke="#0e4e8e" stroke-width="0.75"/><circle cx="301.73" cy="362.35" r="1.35" fill="#0e4e8e"/><circle cx="305.39" cy="361.65" r="1.35" fill="#0e4e8e"/><circle cx="304.65" cy="377.46" r="1.35" fill="#0e4e8e"/><circle cx="305.02" cy="369.31" r="1.35" fill="#0e4e8e"/><circle cx="301.36" cy="364.43" r="1.35" fill="#0e4e8e"/><circle cx="300.16" cy="369.79" r="1.35" fill="#0e4e8e"/><circle cx="302.41" cy="361.67" r="1.35" fill="#0e4e8e"/><circle cx="305.2" cy="367.27" r="1.35" fill="#0e4e8e"/><circle cx="304.28" cy="364.76" r="1.35" fill="#0e4e8e"/><circle cx="301.9" cy="363.28" r="1.35" fill="#0e4e8e"/><circle cx="304.62" cy="361.75" r="1.35" fill="#0e4e8e"/><circle cx="301.44" cy="347" r="1.35" fill="#0e4e8e"/><line x1="314.7" y1="364.1" x2="314.7" y2="378.1" stroke="#d2123d" stroke-width="0.75"/><line x1="312.9" y1="364.1" x2="316.5" y2="364.1" stroke="#d2123d" stroke-width="0.75"/><rect x="310.73" y="365.11" width="2.6" height="2.6" fill="#d2123d"/><rect x="314.09" y="364.2" width="2.6" height="2.6" fill="#d2123d"/><rect x="315.28" y="362.76" width="2.6" height="2.6" fill="#d2123d"/><rect x="311.96" y="365.71" width="2.6" height="2.6" fill="#d2123d"/><rect x="312.57" y="374.94" width="2.6" height="2.6" fill="#d2123d"/><rect x="311.84" y="369.89" width="2.6" height="2.6" fill="#d2123d"/><rect x="315.89" y="365.5" width="2.6" height="2.6" fill="#d2123d"/><rect x="313.27" y="368.31" width="2.6" height="2.6" fill="#d2123d"/><rect x="312.93" y="362" width="2.6" height="2.6" fill="#d2123d"/><rect x="315.66" y="366.45" width="2.6" height="2.6" fill="#d2123d"/><rect x="312.38" y="368.14" width="2.6" height="2.6" fill="#d2123d"/><rect x="313.18" y="351.2" width="2.6" height="2.6" fill="#d2123d"/><rect x="332" y="374.8" width="7.4" height="4.5" fill="#6893bb" stroke="#5584b2" stroke-width="0.6"/><rect x="344" y="377.8" width="7.4" height="1.5" fill="#de6f83" stroke="#d9566f" stroke-width="0.6"/><line x1="335.7" y1="371.5" x2="335.7" y2="377.5" stroke="#0e4e8e" stroke-width="0.75"/><line x1="333.9" y1="371.5" x2="337.5" y2="371.5" stroke="#0e4e8e" stroke-width="0.75"/><circle cx="336.81" cy="371.02" r="1.35" fill="#0e4e8e"/><circle cx="333.5" cy="377.08" r="1.35" fill="#0e4e8e"/><circle cx="337.1" cy="372.13" r="1.35" fill="#0e4e8e"/><circle cx="335.2" cy="376.81" r="1.35" fill="#0e4e8e"/><circle cx="333.05" cy="373.74" r="1.35" fill="#0e4e8e"/><circle cx="337.83" cy="375" r="1.35" fill="#0e4e8e"/><circle cx="336.31" cy="375.82" r="1.35" fill="#0e4e8e"/><circle cx="333.09" cy="369.66" r="1.35" fill="#0e4e8e"/><circle cx="335.88" cy="369.26" r="1.35" fill="#0e4e8e"/><circle cx="335.65" cy="374.75" r="1.35" fill="#0e4e8e"/><circle cx="337.65" cy="370.02" r="1.35" fill="#0e4e8e"/><line x1="347.7" y1="376.5" x2="347.7" y2="378.5" stroke="#d2123d" stroke-width="0.75"/><line x1="345.9" y1="376.5" x2="349.5" y2="376.5" stroke="#d2123d" stroke-width="0.75"/><rect x="349.11" y="376.71" width="2.6" height="2.6" fill="#d2123d"/><rect x="343.61" y="376.8" width="2.6" height="2.6" fill="#d2123d"/><rect x="346.27" y="376.32" width="2.6" height="2.6" fill="#d2123d"/><rect x="346.32" y="376.26" width="2.6" height="2.6" fill="#d2123d"/><rect x="346.48" y="376.8" width="2.6" height="2.6" fill="#d2123d"/><rect x="344.95" y="376.44" width="2.6" height="2.6" fill="#d2123d"/><rect x="348.88" y="375.41" width="2.6" height="2.6" fill="#d2123d"/><rect x="344.62" y="375.49" width="2.6" height="2.6" fill="#d2123d"/><rect x="347.03" y="376.26" width="2.6" height="2.6" fill="#d2123d"/><rect x="343.66" y="376.8" width="2.6" height="2.6" fill="#d2123d"/><rect x="344.71" y="375.71" width="2.6" height="2.6" fill="#d2123d"/><rect x="365" y="367.4" width="7.4" height="11.9" fill="#6893bb" stroke="#5584b2" stroke-width="0.6"/><rect x="377" y="371.9" width="7.4" height="7.4" fill="#de6f83" stroke="#d9566f" stroke-width="0.6"/><line x1="368.7" y1="352.6" x2="368.7" y2="379.3" stroke="#0e4e8e" stroke-width="0.75"/><line x1="366.9" y1="352.6" x2="370.5" y2="352.6" stroke="#0e4e8e" stroke-width="0.75"/><circle cx="365.83" cy="362.92" r="1.35" fill="#0e4e8e"/><circle cx="369.32" cy="369.64" r="1.35" fill="#0e4e8e"/><circle cx="370.66" cy="371.83" r="1.35" fill="#0e4e8e"/><circle cx="371.57" cy="364.02" r="1.35" fill="#0e4e8e"/><circle cx="370.12" cy="366" r="1.35" fill="#0e4e8e"/><circle cx="369.6" cy="369.12" r="1.35" fill="#0e4e8e"/><circle cx="365.8" cy="364.41" r="1.35" fill="#0e4e8e"/><circle cx="368.3" cy="375.51" r="1.35" fill="#0e4e8e"/><circle cx="366.54" cy="370.22" r="1.35" fill="#0e4e8e"/><circle cx="369.75" cy="363.55" r="1.35" fill="#0e4e8e"/><circle cx="366.46" cy="364.11" r="1.35" fill="#0e4e8e"/><circle cx="368.83" cy="338.1" r="1.35" fill="#0e4e8e"/><circle cx="366.7" cy="342.7" r="1.35" fill="#0e4e8e"/><circle cx="370.7" cy="344.5" r="1.35" fill="#0e4e8e"/><line x1="380.7" y1="365.6" x2="380.7" y2="377.6" stroke="#d2123d" stroke-width="0.75"/><line x1="378.9" y1="365.6" x2="382.5" y2="365.6" stroke="#d2123d" stroke-width="0.75"/><rect x="377.83" y="373.62" width="2.6" height="2.6" fill="#d2123d"/><rect x="379.26" y="370.45" width="2.6" height="2.6" fill="#d2123d"/><rect x="377.44" y="371.51" width="2.6" height="2.6" fill="#d2123d"/><rect x="377.09" y="369.11" width="2.6" height="2.6" fill="#d2123d"/><rect x="379.25" y="368.88" width="2.6" height="2.6" fill="#d2123d"/><rect x="380.52" y="373.74" width="2.6" height="2.6" fill="#d2123d"/><rect x="378.82" y="376.15" width="2.6" height="2.6" fill="#d2123d"/><rect x="376.47" y="368.86" width="2.6" height="2.6" fill="#d2123d"/><rect x="380.43" y="374.79" width="2.6" height="2.6" fill="#d2123d"/><rect x="379.94" y="369.29" width="2.6" height="2.6" fill="#d2123d"/><rect x="378.2" y="370.69" width="2.6" height="2.6" fill="#d2123d"/><rect x="380.2" y="356.7" width="2.6" height="2.6" fill="#d2123d"/><line x1="294.5" y1="324.5" x2="294.5" y2="380" stroke="#1e1e1e" stroke-width="1"/><line x1="294" y1="379.5" x2="388" y2="379.5" stroke="#1e1e1e" stroke-width="1"/><line x1="291.5" y1="379.5" x2="294.5" y2="379.5" stroke="#1e1e1e" stroke-width="1"/><text class="tk" transform="translate(288.3 382.4) scale(0.82 1)" font-size="8.8" text-anchor="end" font-weight="normal" fill="#141414"><tspan>0</tspan></text><line x1="291.5" y1="361.5" x2="294.5" y2="361.5" stroke="#1e1e1e" stroke-width="1"/><text class="tk" transform="translate(288.3 364.13) scale(0.82 1)" font-size="8.8" text-anchor="end" font-weight="normal" fill="#141414"><tspan>1</tspan></text><line x1="291.5" y1="342.5" x2="294.5" y2="342.5" stroke="#1e1e1e" stroke-width="1"/><text class="tk" transform="translate(288.3 345.86) scale(0.82 1)" font-size="8.8" text-anchor="end" font-weight="normal" fill="#141414"><tspan>2</tspan></text><line x1="291.5" y1="324.5" x2="294.5" y2="324.5" stroke="#1e1e1e" stroke-width="1"/><text class="tk" transform="translate(288.3 327.59) scale(0.82 1)" font-size="8.8" text-anchor="end" font-weight="normal" fill="#141414"><tspan>3</tspan></text><line x1="308.5" y1="379.5" x2="308.5" y2="381.9" stroke="#1e1e1e" stroke-width="0.9"/><line x1="341.5" y1="379.5" x2="341.5" y2="381.9" stroke="#1e1e1e" stroke-width="0.9"/><line x1="374.5" y1="379.5" x2="374.5" y2="381.9" stroke="#1e1e1e" stroke-width="0.9"/><text x="308.7" y="392.2" font-size="8.7" text-anchor="middle" font-weight="normal" fill="#141414" textLength="24.3" lengthAdjust="spacingAndGlyphs"><tspan>Spleen</tspan></text><text x="341.7" y="392.2" font-size="8.7" text-anchor="middle" font-weight="normal" fill="#141414" textLength="5.4" lengthAdjust="spacingAndGlyphs"><tspan>SI</tspan></text><text x="374.7" y="392.2" font-size="8.7" text-anchor="middle" font-weight="normal" fill="#141414" textLength="21" lengthAdjust="spacingAndGlyphs"><tspan>Colon</tspan></text><line x1="335.7" y1="355.5" x2="347.7" y2="355.5" stroke="#222" stroke-width="1"/><polygon points="335.7,349.55 336.32,350.85 337.74,351.04 336.7,352.02 336.96,353.44 335.7,352.75 334.44,353.44 334.7,352.02 333.66,351.04 335.08,350.85" fill="#111"/><polygon points="339.7,349.55 340.32,350.85 341.74,351.04 340.7,352.02 340.96,353.44 339.7,352.75 338.44,353.44 338.7,352.02 337.66,351.04 339.08,350.85" fill="#111"/><polygon points="343.7,349.55 344.32,350.85 345.74,351.04 344.7,352.02 344.96,353.44 343.7,352.75 342.44,353.44 342.7,352.02 341.66,351.04 343.08,350.85" fill="#111"/><polygon points="347.7,349.55 348.32,350.85 349.74,351.04 348.7,352.02 348.96,353.44 347.7,352.75 346.44,353.44 346.7,352.02 345.66,351.04 347.08,350.85" fill="#111"/><text transform="translate(276.5 351.8) rotate(-90)" x="0" y="0" font-size="9.8" text-anchor="middle" font-weight="normal" fill="#141414" textLength="86.4" lengthAdjust="spacingAndGlyphs"><tspan>CD8</tspan><tspan dy="-3.53" font-size="5.2">+</tspan><tspan dy="3.53">CD44</tspan><tspan dy="-3.53" font-size="5.2">+</tspan><tspan dy="3.53">CD62L</tspan><tspan dy="-3.53" font-size="5.2">−</tspan><tspan dy="3.53"> (×10</tspan><tspan dy="-3.53" font-size="5.2">5</tspan><tspan dy="3.53">)</tspan></text><rect x="421.3" y="328.3" width="7.4" height="50.2" fill="#6893bb" stroke="#5584b2" stroke-width="0.6"/><rect x="420.5" y="338.6" width="9" height="4.7" fill="#ffffff"/><rect x="433.3" y="344.3" width="7.4" height="34.2" fill="#de6f83" stroke="#d9566f" stroke-width="0.6"/><line x1="425" y1="326.5" x2="425" y2="329.5" stroke="#0e4e8e" stroke-width="0.75"/><line x1="423.2" y1="326.5" x2="426.8" y2="326.5" stroke="#0e4e8e" stroke-width="0.75"/><circle cx="426.38" cy="330.32" r="1.35" fill="#0e4e8e"/><circle cx="426.49" cy="328.21" r="1.35" fill="#0e4e8e"/><circle cx="424.55" cy="326.95" r="1.35" fill="#0e4e8e"/><circle cx="425.56" cy="327.25" r="1.35" fill="#0e4e8e"/><circle cx="423.66" cy="328.5" r="1.35" fill="#0e4e8e"/><line x1="437" y1="338.5" x2="437" y2="358.3" stroke="#d2123d" stroke-width="0.75"/><line x1="435.2" y1="358.3" x2="438.8" y2="358.3" stroke="#d2123d" stroke-width="0.75"/><rect x="437.67" y="333.94" width="2.6" height="2.6" fill="#d2123d"/><rect x="437.46" y="336.2" width="2.6" height="2.6" fill="#d2123d"/><rect x="438.47" y="334.94" width="2.6" height="2.6" fill="#d2123d"/><rect x="435.7" y="349.7" width="2.6" height="2.6" fill="#d2123d"/><rect x="435.7" y="360.1" width="2.6" height="2.6" fill="#d2123d"/><rect x="454.3" y="357.3" width="7.4" height="21.2" fill="#6893bb" stroke="#5584b2" stroke-width="0.6"/><rect x="466.3" y="372.8" width="7.4" height="5.7" fill="#de6f83" stroke="#d9566f" stroke-width="0.6"/><line x1="458" y1="349" x2="458" y2="365" stroke="#0e4e8e" stroke-width="0.75"/><line x1="456.2" y1="349" x2="459.8" y2="349" stroke="#0e4e8e" stroke-width="0.75"/><circle cx="455.76" cy="353.69" r="1.35" fill="#0e4e8e"/><circle cx="460.61" cy="368.99" r="1.35" fill="#0e4e8e"/><circle cx="455.11" cy="355.15" r="1.35" fill="#0e4e8e"/><circle cx="460.98" cy="354.68" r="1.35" fill="#0e4e8e"/><circle cx="457.85" cy="352.36" r="1.35" fill="#0e4e8e"/><line x1="470" y1="371" x2="470" y2="374" stroke="#d2123d" stroke-width="0.75"/><line x1="468.2" y1="371" x2="471.8" y2="371" stroke="#d2123d" stroke-width="0.75"/><rect x="467.36" y="375" width="2.6" height="2.6" fill="#d2123d"/><rect x="469.27" y="369.84" width="2.6" height="2.6" fill="#d2123d"/><rect x="469.84" y="370.28" width="2.6" height="2.6" fill="#d2123d"/><rect x="466.4" y="370.66" width="2.6" height="2.6" fill="#d2123d"/><rect x="465.96" y="371.11" width="2.6" height="2.6" fill="#d2123d"/><rect x="487.3" y="366.5" width="7.4" height="12" fill="#6893bb" stroke="#5584b2" stroke-width="0.6"/><rect x="499.3" y="376.5" width="7.4" height="2" fill="#de6f83" stroke="#d9566f" stroke-width="0.6"/><line x1="491" y1="355.2" x2="491" y2="377.2" stroke="#0e4e8e" stroke-width="0.75"/><line x1="489.2" y1="355.2" x2="492.8" y2="355.2" stroke="#0e4e8e" stroke-width="0.75"/><circle cx="492.43" cy="371.4" r="1.35" fill="#0e4e8e"/><circle cx="493.11" cy="362.81" r="1.35" fill="#0e4e8e"/><circle cx="488.71" cy="358.71" r="1.35" fill="#0e4e8e"/><circle cx="493.43" cy="366.08" r="1.35" fill="#0e4e8e"/><circle cx="489.94" cy="364.72" r="1.35" fill="#0e4e8e"/><line x1="503" y1="375.2" x2="503" y2="377.2" stroke="#d2123d" stroke-width="0.75"/><line x1="501.2" y1="375.2" x2="504.8" y2="375.2" stroke="#d2123d" stroke-width="0.75"/><rect x="502.23" y="374.99" width="2.6" height="2.6" fill="#d2123d"/><rect x="500.1" y="376" width="2.6" height="2.6" fill="#d2123d"/><rect x="504.15" y="372.83" width="2.6" height="2.6" fill="#d2123d"/><rect x="501.1" y="373.15" width="2.6" height="2.6" fill="#d2123d"/><rect x="504.43" y="375.5" width="2.6" height="2.6" fill="#d2123d"/><line x1="416.5" y1="323.8" x2="416.5" y2="338.8" stroke="#1e1e1e" stroke-width="1"/><line x1="416.5" y1="343.3" x2="416.5" y2="379" stroke="#1e1e1e" stroke-width="1"/><line x1="414.9" y1="338.8" x2="418.3" y2="338.8" stroke="#1e1e1e" stroke-width="0.9"/><line x1="414.9" y1="343.3" x2="418.3" y2="343.3" stroke="#1e1e1e" stroke-width="0.9"/><line x1="416" y1="378.5" x2="511" y2="378.5" stroke="#1e1e1e" stroke-width="1"/><line x1="413.5" y1="324.5" x2="416.5" y2="324.5" stroke="#1e1e1e" stroke-width="1"/><text class="tk" transform="translate(410.3 327.35) scale(0.82 1)" font-size="8.8" text-anchor="end" font-weight="normal" fill="#141414"><tspan>4.0</tspan></text><line x1="413.5" y1="332.5" x2="416.5" y2="332.5" stroke="#1e1e1e" stroke-width="1"/><text class="tk" transform="translate(410.3 335.1) scale(0.82 1)" font-size="8.8" text-anchor="end" font-weight="normal" fill="#141414"><tspan>2.0</tspan></text><line x1="413.5" y1="344.5" x2="416.5" y2="344.5" stroke="#1e1e1e" stroke-width="1"/><text class="tk" transform="translate(410.3 347.35) scale(0.82 1)" font-size="8.8" text-anchor="end" font-weight="normal" fill="#141414"><tspan>0.4</tspan></text><line x1="413.5" y1="361.5" x2="416.5" y2="361.5" stroke="#1e1e1e" stroke-width="1"/><text class="tk" transform="translate(410.3 364.5) scale(0.82 1)" font-size="8.8" text-anchor="end" font-weight="normal" fill="#141414"><tspan>0.2</tspan></text><line x1="413.5" y1="378.5" x2="416.5" y2="378.5" stroke="#1e1e1e" stroke-width="1"/><text class="tk" transform="translate(410.3 381.6) scale(0.82 1)" font-size="8.8" text-anchor="end" font-weight="normal" fill="#141414"><tspan>0</tspan></text><line x1="431.5" y1="378.5" x2="431.5" y2="380.9" stroke="#1e1e1e" stroke-width="0.9"/><line x1="464.5" y1="378.5" x2="464.5" y2="380.9" stroke="#1e1e1e" stroke-width="0.9"/><line x1="497.5" y1="378.5" x2="497.5" y2="380.9" stroke="#1e1e1e" stroke-width="0.9"/><text x="431" y="391.2" font-size="8.7" text-anchor="middle" font-weight="normal" fill="#141414" textLength="24.3" lengthAdjust="spacingAndGlyphs"><tspan>Spleen</tspan></text><text x="464" y="391.2" font-size="8.7" text-anchor="middle" font-weight="normal" fill="#141414" textLength="5.4" lengthAdjust="spacingAndGlyphs"><tspan>SI</tspan></text><text x="497" y="391.2" font-size="8.7" text-anchor="middle" font-weight="normal" fill="#141414" textLength="21" lengthAdjust="spacingAndGlyphs"><tspan>Colon</tspan></text><line x1="425.8" y1="322.5" x2="436.2" y2="322.5" stroke="#222" stroke-width="1"/><polygon points="429,315.75 429.62,317.05 431.04,317.24 430,318.22 430.26,319.64 429,318.95 427.74,319.64 428,318.22 426.96,317.24 428.38,317.05" fill="#111"/><polygon points="433,315.75 433.62,317.05 435.04,317.24 434,318.22 434.26,319.64 433,318.95 431.74,319.64 432,318.22 430.96,317.24 432.38,317.05" fill="#111"/><line x1="458.8" y1="342.5" x2="469.2" y2="342.5" stroke="#222" stroke-width="1"/><polygon points="462,335.75 462.62,337.05 464.04,337.24 463,338.22 463.26,339.64 462,338.95 460.74,339.64 461,338.22 459.96,337.24 461.38,337.05" fill="#111"/><polygon points="466,335.75 466.62,337.05 468.04,337.24 467,338.22 467.26,339.64 466,338.95 464.74,339.64 465,338.22 463.96,337.24 465.38,337.05" fill="#111"/><line x1="491.8" y1="345.5" x2="502.2" y2="345.5" stroke="#222" stroke-width="1"/><polygon points="497,338.25 497.62,339.55 499.04,339.74 498,340.72 498.26,342.14 497,341.45 495.74,342.14 496,340.72 494.96,339.74 496.38,339.55" fill="#111"/><text transform="translate(398.5 350.9) rotate(-90)" x="0" y="0" font-size="9.8" text-anchor="middle" font-weight="normal" fill="#141414" textLength="85" lengthAdjust="spacingAndGlyphs"><tspan>CD8</tspan><tspan dy="-3.53" font-size="5.2">+</tspan><tspan dy="3.53">CD44</tspan><tspan dy="-3.53" font-size="5.2">+</tspan><tspan dy="3.53">CD62L</tspan><tspan dy="-3.53" font-size="5.2">−</tspan><tspan dy="3.53"> (×10</tspan><tspan dy="-3.53" font-size="5.2">5</tspan><tspan dy="3.53">)</tspan></text><rect x="40.9" y="482.3" width="7.4" height="11.3" fill="#6893bb" stroke="#5584b2" stroke-width="0.6"/><rect x="52.9" y="477.4" width="7.4" height="16.2" fill="#de6f83" stroke="#d9566f" stroke-width="0.6"/><line x1="44.6" y1="479" x2="44.6" y2="485" stroke="#0e4e8e" stroke-width="0.75"/><line x1="42.8" y1="479" x2="46.4" y2="479" stroke="#0e4e8e" stroke-width="0.75"/><circle cx="45.58" cy="479.37" r="1.35" fill="#0e4e8e"/><circle cx="41.71" cy="483.19" r="1.35" fill="#0e4e8e"/><circle cx="44.02" cy="485.01" r="1.35" fill="#0e4e8e"/><circle cx="43.6" cy="480.07" r="1.35" fill="#0e4e8e"/><circle cx="46.01" cy="478.81" r="1.35" fill="#0e4e8e"/><circle cx="47.34" cy="483.16" r="1.35" fill="#0e4e8e"/><circle cx="42.53" cy="484.88" r="1.35" fill="#0e4e8e"/><circle cx="45.04" cy="484.07" r="1.35" fill="#0e4e8e"/><circle cx="42.65" cy="481.7" r="1.35" fill="#0e4e8e"/><circle cx="42.54" cy="480.32" r="1.35" fill="#0e4e8e"/><circle cx="42.46" cy="482.42" r="1.35" fill="#0e4e8e"/><circle cx="45.84" cy="482.41" r="1.35" fill="#0e4e8e"/><circle cx="46.87" cy="485.88" r="1.35" fill="#0e4e8e"/><circle cx="44.01" cy="483.57" r="1.35" fill="#0e4e8e"/><circle cx="42.11" cy="483.9" r="1.35" fill="#0e4e8e"/><circle cx="44.97" cy="481.45" r="1.35" fill="#0e4e8e"/><circle cx="43.12" cy="472.9" r="1.35" fill="#0e4e8e"/><line x1="56.6" y1="472.1" x2="56.6" y2="482.1" stroke="#d2123d" stroke-width="0.75"/><line x1="54.8" y1="472.1" x2="58.4" y2="472.1" stroke="#d2123d" stroke-width="0.75"/><rect x="55.86" y="468.81" width="2.6" height="2.6" fill="#d2123d"/><rect x="53.78" y="476.15" width="2.6" height="2.6" fill="#d2123d"/><rect x="53.27" y="480.82" width="2.6" height="2.6" fill="#d2123d"/><rect x="52.67" y="480.92" width="2.6" height="2.6" fill="#d2123d"/><rect x="53.3" y="472.42" width="2.6" height="2.6" fill="#d2123d"/><rect x="57.54" y="474.76" width="2.6" height="2.6" fill="#d2123d"/><rect x="53.39" y="471.65" width="2.6" height="2.6" fill="#d2123d"/><rect x="57.01" y="478.37" width="2.6" height="2.6" fill="#d2123d"/><rect x="56.38" y="478.22" width="2.6" height="2.6" fill="#d2123d"/><rect x="53.65" y="480.47" width="2.6" height="2.6" fill="#d2123d"/><rect x="56.09" y="478.83" width="2.6" height="2.6" fill="#d2123d"/><rect x="53.38" y="475.26" width="2.6" height="2.6" fill="#d2123d"/><rect x="53.49" y="475.1" width="2.6" height="2.6" fill="#d2123d"/><rect x="54.04" y="474.4" width="2.6" height="2.6" fill="#d2123d"/><rect x="53.31" y="477.9" width="2.6" height="2.6" fill="#d2123d"/><rect x="57.14" y="480.57" width="2.6" height="2.6" fill="#d2123d"/><rect x="55.28" y="453.2" width="2.6" height="2.6" fill="#d2123d"/><rect x="74" y="489.1" width="7.4" height="4.5" fill="#6893bb" stroke="#5584b2" stroke-width="0.6"/><rect x="86" y="485.5" width="7.4" height="8.1" fill="#de6f83" stroke="#d9566f" stroke-width="0.6"/><line x1="77.7" y1="487.8" x2="77.7" y2="489.8" stroke="#0e4e8e" stroke-width="0.75"/><line x1="75.9" y1="487.8" x2="79.5" y2="487.8" stroke="#0e4e8e" stroke-width="0.75"/><circle cx="78.3" cy="488.25" r="1.35" fill="#0e4e8e"/><circle cx="79.24" cy="489.6" r="1.35" fill="#0e4e8e"/><circle cx="77.83" cy="487.68" r="1.35" fill="#0e4e8e"/><circle cx="78.74" cy="489.41" r="1.35" fill="#0e4e8e"/><circle cx="76.4" cy="489.97" r="1.35" fill="#0e4e8e"/><circle cx="76.54" cy="489.55" r="1.35" fill="#0e4e8e"/><circle cx="77.15" cy="491.86" r="1.35" fill="#0e4e8e"/><circle cx="79.79" cy="488.48" r="1.35" fill="#0e4e8e"/><circle cx="80.19" cy="490.02" r="1.35" fill="#0e4e8e"/><circle cx="77.77" cy="492.05" r="1.35" fill="#0e4e8e"/><circle cx="74.93" cy="488.72" r="1.35" fill="#0e4e8e"/><circle cx="80.44" cy="487.64" r="1.35" fill="#0e4e8e"/><circle cx="76.93" cy="490.63" r="1.35" fill="#0e4e8e"/><circle cx="80.42" cy="488.07" r="1.35" fill="#0e4e8e"/><circle cx="79.62" cy="488.94" r="1.35" fill="#0e4e8e"/><circle cx="79.45" cy="489.67" r="1.35" fill="#0e4e8e"/><line x1="89.7" y1="480.2" x2="89.7" y2="490.2" stroke="#d2123d" stroke-width="0.75"/><line x1="87.9" y1="480.2" x2="91.5" y2="480.2" stroke="#d2123d" stroke-width="0.75"/><rect x="85.85" y="484.35" width="2.6" height="2.6" fill="#d2123d"/><rect x="88.78" y="480.3" width="2.6" height="2.6" fill="#d2123d"/><rect x="87.47" y="489.85" width="2.6" height="2.6" fill="#d2123d"/><rect x="87.99" y="478.9" width="2.6" height="2.6" fill="#d2123d"/><rect x="87.68" y="490.14" width="2.6" height="2.6" fill="#d2123d"/><rect x="90.48" y="482.06" width="2.6" height="2.6" fill="#d2123d"/><rect x="87.41" y="485.03" width="2.6" height="2.6" fill="#d2123d"/><rect x="90.88" y="485.38" width="2.6" height="2.6" fill="#d2123d"/><rect x="89.53" y="481.68" width="2.6" height="2.6" fill="#d2123d"/><rect x="90.7" y="483.77" width="2.6" height="2.6" fill="#d2123d"/><rect x="86.51" y="484.34" width="2.6" height="2.6" fill="#d2123d"/><rect x="89.83" y="484.72" width="2.6" height="2.6" fill="#d2123d"/><rect x="91.21" y="479.61" width="2.6" height="2.6" fill="#d2123d"/><rect x="89.08" y="487.77" width="2.6" height="2.6" fill="#d2123d"/><rect x="87.65" y="483.17" width="2.6" height="2.6" fill="#d2123d"/><rect x="90.99" y="482.71" width="2.6" height="2.6" fill="#d2123d"/><rect x="87.13" y="470.3" width="2.6" height="2.6" fill="#d2123d"/><rect x="90.4" y="473.4" width="2.6" height="2.6" fill="#d2123d"/><rect x="107.1" y="482.3" width="7.4" height="11.3" fill="#6893bb" stroke="#5584b2" stroke-width="0.6"/><rect x="119.1" y="471.9" width="7.4" height="21.7" fill="#de6f83" stroke="#d9566f" stroke-width="0.6"/><line x1="110.8" y1="477" x2="110.8" y2="487" stroke="#0e4e8e" stroke-width="0.75"/><line x1="109" y1="477" x2="112.6" y2="477" stroke="#0e4e8e" stroke-width="0.75"/><circle cx="111.53" cy="479.64" r="1.35" fill="#0e4e8e"/><circle cx="112.55" cy="488.68" r="1.35" fill="#0e4e8e"/><circle cx="109.93" cy="479.38" r="1.35" fill="#0e4e8e"/><circle cx="113.55" cy="481.15" r="1.35" fill="#0e4e8e"/><circle cx="112.6" cy="481.04" r="1.35" fill="#0e4e8e"/><circle cx="109.13" cy="484.24" r="1.35" fill="#0e4e8e"/><circle cx="113.68" cy="478.26" r="1.35" fill="#0e4e8e"/><circle cx="110.27" cy="483.97" r="1.35" fill="#0e4e8e"/><circle cx="110.41" cy="474.6" r="1.35" fill="#0e4e8e"/><circle cx="110.47" cy="480.36" r="1.35" fill="#0e4e8e"/><circle cx="110.7" cy="482.07" r="1.35" fill="#0e4e8e"/><circle cx="113.07" cy="483.57" r="1.35" fill="#0e4e8e"/><circle cx="108.65" cy="484.96" r="1.35" fill="#0e4e8e"/><circle cx="111.62" cy="486.5" r="1.35" fill="#0e4e8e"/><circle cx="112.94" cy="478.76" r="1.35" fill="#0e4e8e"/><circle cx="110.22" cy="482.85" r="1.35" fill="#0e4e8e"/><circle cx="110.73" cy="468" r="1.35" fill="#0e4e8e"/><line x1="122.8" y1="463.6" x2="122.8" y2="479.6" stroke="#d2123d" stroke-width="0.75"/><line x1="121" y1="463.6" x2="124.6" y2="463.6" stroke="#d2123d" stroke-width="0.75"/><rect x="122.38" y="474.63" width="2.6" height="2.6" fill="#d2123d"/><rect x="119.8" y="478.23" width="2.6" height="2.6" fill="#d2123d"/><rect x="119.03" y="467.92" width="2.6" height="2.6" fill="#d2123d"/><rect x="123.89" y="483.64" width="2.6" height="2.6" fill="#d2123d"/><rect x="123.81" y="476.42" width="2.6" height="2.6" fill="#d2123d"/><rect x="122.6" y="472.22" width="2.6" height="2.6" fill="#d2123d"/><rect x="124.43" y="462.98" width="2.6" height="2.6" fill="#d2123d"/><rect x="120.91" y="478.73" width="2.6" height="2.6" fill="#d2123d"/><rect x="122.59" y="477.12" width="2.6" height="2.6" fill="#d2123d"/><rect x="121.98" y="475.47" width="2.6" height="2.6" fill="#d2123d"/><rect x="123.16" y="470.49" width="2.6" height="2.6" fill="#d2123d"/><rect x="121.83" y="476.65" width="2.6" height="2.6" fill="#d2123d"/><rect x="120.39" y="482.72" width="2.6" height="2.6" fill="#d2123d"/><rect x="119.94" y="481.82" width="2.6" height="2.6" fill="#d2123d"/><rect x="123.48" y="467.92" width="2.6" height="2.6" fill="#d2123d"/><rect x="119.34" y="474.02" width="2.6" height="2.6" fill="#d2123d"/><rect x="121.9" y="454.1" width="2.6" height="2.6" fill="#d2123d"/><rect x="123.5" y="460.4" width="2.6" height="2.6" fill="#d2123d"/><line x1="36.5" y1="438.1" x2="36.5" y2="494" stroke="#1e1e1e" stroke-width="1"/><line x1="36" y1="493.5" x2="131.5" y2="493.5" stroke="#1e1e1e" stroke-width="1"/><line x1="33.5" y1="493.5" x2="36.5" y2="493.5" stroke="#1e1e1e" stroke-width="1"/><text class="tk" transform="translate(30.3 496.7) scale(0.82 1)" font-size="8.8" text-anchor="end" font-weight="normal" fill="#141414"><tspan>0</tspan></text><line x1="33.5" y1="482.5" x2="36.5" y2="482.5" stroke="#1e1e1e" stroke-width="1"/><text class="tk" transform="translate(30.3 485.6) scale(0.82 1)" font-size="8.8" text-anchor="end" font-weight="normal" fill="#141414"><tspan>5</tspan></text><line x1="33.5" y1="471.5" x2="36.5" y2="471.5" stroke="#1e1e1e" stroke-width="1"/><text class="tk" transform="translate(30.3 474.5) scale(0.82 1)" font-size="8.8" text-anchor="end" font-weight="normal" fill="#141414"><tspan>10</tspan></text><line x1="33.5" y1="460.5" x2="36.5" y2="460.5" stroke="#1e1e1e" stroke-width="1"/><text class="tk" transform="translate(30.3 463.4) scale(0.82 1)" font-size="8.8" text-anchor="end" font-weight="normal" fill="#141414"><tspan>15</tspan></text><line x1="33.5" y1="449.5" x2="36.5" y2="449.5" stroke="#1e1e1e" stroke-width="1"/><text class="tk" transform="translate(30.3 452.3) scale(0.82 1)" font-size="8.8" text-anchor="end" font-weight="normal" fill="#141414"><tspan>20</tspan></text><line x1="33.5" y1="438.5" x2="36.5" y2="438.5" stroke="#1e1e1e" stroke-width="1"/><text class="tk" transform="translate(30.3 441.2) scale(0.82 1)" font-size="8.8" text-anchor="end" font-weight="normal" fill="#141414"><tspan>25</tspan></text><line x1="50.5" y1="493.5" x2="50.5" y2="495.9" stroke="#1e1e1e" stroke-width="0.9"/><line x1="83.5" y1="493.5" x2="83.5" y2="495.9" stroke="#1e1e1e" stroke-width="0.9"/><line x1="116.5" y1="493.5" x2="116.5" y2="495.9" stroke="#1e1e1e" stroke-width="0.9"/><text x="50.6" y="506.2" font-size="8.7" text-anchor="middle" font-weight="normal" fill="#141414" textLength="24.3" lengthAdjust="spacingAndGlyphs"><tspan>Spleen</tspan></text><text x="83.7" y="506.2" font-size="8.7" text-anchor="middle" font-weight="normal" fill="#141414" textLength="5.4" lengthAdjust="spacingAndGlyphs"><tspan>SI</tspan></text><text x="116.8" y="506.2" font-size="8.7" text-anchor="middle" font-weight="normal" fill="#141414" textLength="21" lengthAdjust="spacingAndGlyphs"><tspan>Colon</tspan></text><line x1="45.4" y1="448.5" x2="55.8" y2="448.5" stroke="#222" stroke-width="1"/><polygon points="48.6,441.85 49.22,443.15 50.64,443.34 49.6,444.32 49.86,445.74 48.6,445.05 47.34,445.74 47.6,444.32 46.56,443.34 47.98,443.15" fill="#111"/><polygon points="52.6,441.85 53.22,443.15 54.64,443.34 53.6,444.32 53.86,445.74 52.6,445.05 51.34,445.74 51.6,444.32 50.56,443.34 51.98,443.15" fill="#111"/><line x1="78.5" y1="463.5" x2="88.9" y2="463.5" stroke="#222" stroke-width="1"/><polygon points="79.7,455.85 80.32,457.15 81.74,457.34 80.7,458.32 80.96,459.74 79.7,459.05 78.44,459.74 78.7,458.32 77.66,457.34 79.08,457.15" fill="#111"/><polygon points="83.7,455.85 84.32,457.15 85.74,457.34 84.7,458.32 84.96,459.74 83.7,459.05 82.44,459.74 82.7,458.32 81.66,457.34 83.08,457.15" fill="#111"/><polygon points="87.7,455.85 88.32,457.15 89.74,457.34 88.7,458.32 88.96,459.74 87.7,459.05 86.44,459.74 86.7,458.32 85.66,457.34 87.08,457.15" fill="#111"/><line x1="111.6" y1="449.5" x2="122" y2="449.5" stroke="#222" stroke-width="1"/><polygon points="116.8,441.85 117.42,443.15 118.84,443.34 117.8,444.32 118.06,445.74 116.8,445.05 115.54,445.74 115.8,444.32 114.76,443.34 116.18,443.15" fill="#111"/><text transform="translate(16.3 465.9) rotate(-90)" x="0" y="0" font-size="9.8" text-anchor="middle" font-weight="normal" fill="#141414" textLength="71.3" lengthAdjust="spacingAndGlyphs"><tspan>% CD4</tspan><tspan dy="-3.53" font-size="5.2">+</tspan><tspan dy="3.53">CD25</tspan><tspan dy="-3.53" font-size="5.2">+</tspan><tspan dy="3.53">Foxp3</tspan><tspan dy="-3.53" font-size="5.2">+</tspan></text><rect x="166.3" y="488.3" width="7.4" height="5.3" fill="#6893bb" stroke="#5584b2" stroke-width="0.6"/><rect x="178.3" y="477.3" width="7.4" height="16.3" fill="#de6f83" stroke="#d9566f" stroke-width="0.6"/><line x1="170" y1="487" x2="170" y2="489" stroke="#0e4e8e" stroke-width="0.75"/><line x1="168.2" y1="487" x2="171.8" y2="487" stroke="#0e4e8e" stroke-width="0.75"/><circle cx="168.97" cy="487.61" r="1.35" fill="#0e4e8e"/><circle cx="170.65" cy="488.46" r="1.35" fill="#0e4e8e"/><circle cx="167.8" cy="489.8" r="1.35" fill="#0e4e8e"/><circle cx="169.55" cy="487.03" r="1.35" fill="#0e4e8e"/><circle cx="171.81" cy="487.44" r="1.35" fill="#0e4e8e"/><line x1="182" y1="469" x2="182" y2="485" stroke="#d2123d" stroke-width="0.75"/><line x1="180.2" y1="469" x2="183.8" y2="469" stroke="#d2123d" stroke-width="0.75"/><rect x="179.43" y="481.63" width="2.6" height="2.6" fill="#d2123d"/><rect x="178.16" y="480.48" width="2.6" height="2.6" fill="#d2123d"/><rect x="182.87" y="472.79" width="2.6" height="2.6" fill="#d2123d"/><rect x="182.77" y="474.5" width="2.6" height="2.6" fill="#d2123d"/><rect x="177.86" y="481.55" width="2.6" height="2.6" fill="#d2123d"/><rect x="182.2" y="458.2" width="2.6" height="2.6" fill="#d2123d"/><rect x="199.2" y="489" width="7.4" height="4.6" fill="#6893bb" stroke="#5584b2" stroke-width="0.6"/><rect x="211.2" y="475.8" width="7.4" height="17.8" fill="#de6f83" stroke="#d9566f" stroke-width="0.6"/><line x1="202.9" y1="487.7" x2="202.9" y2="489.7" stroke="#0e4e8e" stroke-width="0.75"/><line x1="201.1" y1="487.7" x2="204.7" y2="487.7" stroke="#0e4e8e" stroke-width="0.75"/><circle cx="200.82" cy="490.85" r="1.35" fill="#0e4e8e"/><circle cx="201.32" cy="489.84" r="1.35" fill="#0e4e8e"/><circle cx="203.02" cy="489.79" r="1.35" fill="#0e4e8e"/><circle cx="203.55" cy="489.79" r="1.35" fill="#0e4e8e"/><circle cx="201.32" cy="489.32" r="1.35" fill="#0e4e8e"/><line x1="214.9" y1="464.5" x2="214.9" y2="486.5" stroke="#d2123d" stroke-width="0.75"/><line x1="213.1" y1="464.5" x2="216.7" y2="464.5" stroke="#d2123d" stroke-width="0.75"/><rect x="216.06" y="469.1" width="2.6" height="2.6" fill="#d2123d"/><rect x="216.48" y="472.12" width="2.6" height="2.6" fill="#d2123d"/><rect x="214.76" y="477.96" width="2.6" height="2.6" fill="#d2123d"/><rect x="214.06" y="482.29" width="2.6" height="2.6" fill="#d2123d"/><rect x="210.72" y="471.05" width="2.6" height="2.6" fill="#d2123d"/><rect x="213.9" y="457.5" width="2.6" height="2.6" fill="#d2123d"/><rect x="232.1" y="480.8" width="7.4" height="12.8" fill="#6893bb" stroke="#5584b2" stroke-width="0.6"/><rect x="244.1" y="464" width="7.4" height="29.6" fill="#de6f83" stroke="#d9566f" stroke-width="0.6"/><line x1="235.8" y1="477" x2="235.8" y2="484" stroke="#0e4e8e" stroke-width="0.75"/><line x1="234" y1="477" x2="237.6" y2="477" stroke="#0e4e8e" stroke-width="0.75"/><circle cx="235.37" cy="483.67" r="1.35" fill="#0e4e8e"/><circle cx="235.05" cy="484.85" r="1.35" fill="#0e4e8e"/><circle cx="234.1" cy="478.92" r="1.35" fill="#0e4e8e"/><circle cx="236.84" cy="477.32" r="1.35" fill="#0e4e8e"/><circle cx="236.25" cy="483.58" r="1.35" fill="#0e4e8e"/><line x1="247.8" y1="457.7" x2="247.8" y2="469.7" stroke="#d2123d" stroke-width="0.75"/><line x1="246" y1="457.7" x2="249.6" y2="457.7" stroke="#d2123d" stroke-width="0.75"/><rect x="247.57" y="457.8" width="2.6" height="2.6" fill="#d2123d"/><rect x="247.13" y="468.56" width="2.6" height="2.6" fill="#d2123d"/><rect x="248.86" y="467.1" width="2.6" height="2.6" fill="#d2123d"/><rect x="245.46" y="468.06" width="2.6" height="2.6" fill="#d2123d"/><rect x="249.38" y="469.18" width="2.6" height="2.6" fill="#d2123d"/><line x1="161.5" y1="437.5" x2="161.5" y2="494" stroke="#1e1e1e" stroke-width="1"/><line x1="161" y1="493.5" x2="253" y2="493.5" stroke="#1e1e1e" stroke-width="1"/><line x1="158.5" y1="493.5" x2="161.5" y2="493.5" stroke="#1e1e1e" stroke-width="1"/><text class="tk" transform="translate(155.3 496.7) scale(0.82 1)" font-size="8.8" text-anchor="end" font-weight="normal" fill="#141414"><tspan>0</tspan></text><line x1="158.5" y1="474.5" x2="161.5" y2="474.5" stroke="#1e1e1e" stroke-width="1"/><text class="tk" transform="translate(155.3 478) scale(0.82 1)" font-size="8.8" text-anchor="end" font-weight="normal" fill="#141414"><tspan>5</tspan></text><line x1="158.5" y1="456.5" x2="161.5" y2="456.5" stroke="#1e1e1e" stroke-width="1"/><text class="tk" transform="translate(155.3 459.3) scale(0.82 1)" font-size="8.8" text-anchor="end" font-weight="normal" fill="#141414"><tspan>10</tspan></text><line x1="158.5" y1="437.5" x2="161.5" y2="437.5" stroke="#1e1e1e" stroke-width="1"/><text class="tk" transform="translate(155.3 440.6) scale(0.82 1)" font-size="8.8" text-anchor="end" font-weight="normal" fill="#141414"><tspan>15</tspan></text><line x1="176.5" y1="493.5" x2="176.5" y2="495.9" stroke="#1e1e1e" stroke-width="0.9"/><line x1="208.5" y1="493.5" x2="208.5" y2="495.9" stroke="#1e1e1e" stroke-width="0.9"/><line x1="241.5" y1="493.5" x2="241.5" y2="495.9" stroke="#1e1e1e" stroke-width="0.9"/><text x="176" y="506.2" font-size="8.7" text-anchor="middle" font-weight="normal" fill="#141414" textLength="24.3" lengthAdjust="spacingAndGlyphs"><tspan>Spleen</tspan></text><text x="208.9" y="506.2" font-size="8.7" text-anchor="middle" font-weight="normal" fill="#141414" textLength="5.4" lengthAdjust="spacingAndGlyphs"><tspan>SI</tspan></text><text x="241.8" y="506.2" font-size="8.7" text-anchor="middle" font-weight="normal" fill="#141414" textLength="21" lengthAdjust="spacingAndGlyphs"><tspan>Colon</tspan></text><line x1="170.8" y1="451.5" x2="181.2" y2="451.5" stroke="#222" stroke-width="1"/><polygon points="176,444.45 176.62,445.75 178.04,445.94 177,446.92 177.26,448.34 176,447.65 174.74,448.34 175,446.92 173.96,445.94 175.38,445.75" fill="#111"/><line x1="203.7" y1="451.5" x2="214.1" y2="451.5" stroke="#222" stroke-width="1"/><polygon points="206.9,444.45 207.52,445.75 208.94,445.94 207.9,446.92 208.16,448.34 206.9,447.65 205.64,448.34 205.9,446.92 204.86,445.94 206.28,445.75" fill="#111"/><polygon points="210.9,444.45 211.52,445.75 212.94,445.94 211.9,446.92 212.16,448.34 210.9,447.65 209.64,448.34 209.9,446.92 208.86,445.94 210.28,445.75" fill="#111"/><line x1="236.6" y1="448.5" x2="247" y2="448.5" stroke="#222" stroke-width="1"/><polygon points="239.8,441.95 240.42,443.25 241.84,443.44 240.8,444.42 241.06,445.84 239.8,445.15 238.54,445.84 238.8,444.42 237.76,443.44 239.18,443.25" fill="#111"/><polygon points="243.8,441.95 244.42,443.25 245.84,443.44 244.8,444.42 245.06,445.84 243.8,445.15 242.54,445.84 242.8,444.42 241.76,443.44 243.18,443.25" fill="#111"/><text transform="translate(143.8 465.5) rotate(-90)" x="0" y="0" font-size="9.8" text-anchor="middle" font-weight="normal" fill="#141414" textLength="67.6" lengthAdjust="spacingAndGlyphs"><tspan>% CD4</tspan><tspan dy="-3.53" font-size="5.2">+</tspan><tspan dy="3.53">CD25</tspan><tspan dy="-3.53" font-size="5.2">+</tspan><tspan dy="3.53">Foxp3</tspan><tspan dy="-3.53" font-size="5.2">+</tspan></text><rect x="44" y="574.5" width="7.4" height="11.4" fill="#6893bb" stroke="#5584b2" stroke-width="0.6"/><rect x="56" y="567.3" width="7.4" height="18.6" fill="#de6f83" stroke="#d9566f" stroke-width="0.6"/><line x1="47.7" y1="571.2" x2="47.7" y2="577.2" stroke="#0e4e8e" stroke-width="0.75"/><line x1="45.9" y1="571.2" x2="49.5" y2="571.2" stroke="#0e4e8e" stroke-width="0.75"/><circle cx="45.95" cy="575.76" r="1.35" fill="#0e4e8e"/><circle cx="49.54" cy="574.65" r="1.35" fill="#0e4e8e"/><circle cx="49" cy="574.52" r="1.35" fill="#0e4e8e"/><circle cx="46.73" cy="575.74" r="1.35" fill="#0e4e8e"/><circle cx="46.22" cy="573.93" r="1.35" fill="#0e4e8e"/><circle cx="47.94" cy="574.78" r="1.35" fill="#0e4e8e"/><circle cx="48.62" cy="573.64" r="1.35" fill="#0e4e8e"/><circle cx="48.49" cy="578.71" r="1.35" fill="#0e4e8e"/><circle cx="49.95" cy="571.9" r="1.35" fill="#0e4e8e"/><circle cx="47.2" cy="577.57" r="1.35" fill="#0e4e8e"/><circle cx="48.93" cy="578.14" r="1.35" fill="#0e4e8e"/><circle cx="49.05" cy="574.34" r="1.35" fill="#0e4e8e"/><circle cx="50.13" cy="571.97" r="1.35" fill="#0e4e8e"/><circle cx="49.79" cy="574.17" r="1.35" fill="#0e4e8e"/><circle cx="47.65" cy="573.99" r="1.35" fill="#0e4e8e"/><circle cx="49.13" cy="575.79" r="1.35" fill="#0e4e8e"/><circle cx="48.18" cy="564.6" r="1.35" fill="#0e4e8e"/><line x1="59.7" y1="562" x2="59.7" y2="572" stroke="#d2123d" stroke-width="0.75"/><line x1="57.9" y1="562" x2="61.5" y2="562" stroke="#d2123d" stroke-width="0.75"/><rect x="57.34" y="562.76" width="2.6" height="2.6" fill="#d2123d"/><rect x="59.24" y="565.24" width="2.6" height="2.6" fill="#d2123d"/><rect x="58.79" y="572.22" width="2.6" height="2.6" fill="#d2123d"/><rect x="60.27" y="562.05" width="2.6" height="2.6" fill="#d2123d"/><rect x="58.42" y="565.9" width="2.6" height="2.6" fill="#d2123d"/><rect x="55.47" y="565.32" width="2.6" height="2.6" fill="#d2123d"/><rect x="57.38" y="569.79" width="2.6" height="2.6" fill="#d2123d"/><rect x="58.01" y="562.49" width="2.6" height="2.6" fill="#d2123d"/><rect x="56.54" y="571.07" width="2.6" height="2.6" fill="#d2123d"/><rect x="55.6" y="566.14" width="2.6" height="2.6" fill="#d2123d"/><rect x="55.67" y="569.44" width="2.6" height="2.6" fill="#d2123d"/><rect x="57.99" y="567.25" width="2.6" height="2.6" fill="#d2123d"/><rect x="56.32" y="567.87" width="2.6" height="2.6" fill="#d2123d"/><rect x="60.15" y="562.53" width="2.6" height="2.6" fill="#d2123d"/><rect x="61.33" y="566.41" width="2.6" height="2.6" fill="#d2123d"/><rect x="55.98" y="562.49" width="2.6" height="2.6" fill="#d2123d"/><rect x="58.27" y="547.6" width="2.6" height="2.6" fill="#d2123d"/><rect x="58.54" y="558.5" width="2.6" height="2.6" fill="#d2123d"/><rect x="77.1" y="581.2" width="7.4" height="4.7" fill="#6893bb" stroke="#5584b2" stroke-width="0.6"/><rect x="89.1" y="574.9" width="7.4" height="11" fill="#de6f83" stroke="#d9566f" stroke-width="0.6"/><line x1="80.8" y1="579.9" x2="80.8" y2="581.9" stroke="#0e4e8e" stroke-width="0.75"/><line x1="79" y1="579.9" x2="82.6" y2="579.9" stroke="#0e4e8e" stroke-width="0.75"/><circle cx="82.18" cy="582.78" r="1.35" fill="#0e4e8e"/><circle cx="79.06" cy="579.84" r="1.35" fill="#0e4e8e"/><circle cx="83.73" cy="580.8" r="1.35" fill="#0e4e8e"/><circle cx="79.34" cy="580.39" r="1.35" fill="#0e4e8e"/><circle cx="78.62" cy="580.68" r="1.35" fill="#0e4e8e"/><circle cx="79.24" cy="580.03" r="1.35" fill="#0e4e8e"/><circle cx="83.36" cy="583.17" r="1.35" fill="#0e4e8e"/><circle cx="79.55" cy="582.31" r="1.35" fill="#0e4e8e"/><circle cx="78.41" cy="581.7" r="1.35" fill="#0e4e8e"/><circle cx="82.18" cy="582.86" r="1.35" fill="#0e4e8e"/><circle cx="83.51" cy="582.7" r="1.35" fill="#0e4e8e"/><circle cx="82.46" cy="580.94" r="1.35" fill="#0e4e8e"/><circle cx="78.01" cy="581.38" r="1.35" fill="#0e4e8e"/><circle cx="82.4" cy="582.96" r="1.35" fill="#0e4e8e"/><circle cx="83.76" cy="582.77" r="1.35" fill="#0e4e8e"/><circle cx="78.89" cy="581.76" r="1.35" fill="#0e4e8e"/><line x1="92.8" y1="571.6" x2="92.8" y2="577.6" stroke="#d2123d" stroke-width="0.75"/><line x1="91" y1="571.6" x2="94.6" y2="571.6" stroke="#d2123d" stroke-width="0.75"/><rect x="90.02" y="578.13" width="2.6" height="2.6" fill="#d2123d"/><rect x="89.06" y="575.26" width="2.6" height="2.6" fill="#d2123d"/><rect x="89.04" y="578.05" width="2.6" height="2.6" fill="#d2123d"/><rect x="92.93" y="573.82" width="2.6" height="2.6" fill="#d2123d"/><rect x="89.27" y="576.06" width="2.6" height="2.6" fill="#d2123d"/><rect x="88.51" y="580.34" width="2.6" height="2.6" fill="#d2123d"/><rect x="92.04" y="579.24" width="2.6" height="2.6" fill="#d2123d"/><rect x="94.33" y="573.82" width="2.6" height="2.6" fill="#d2123d"/><rect x="94.41" y="575.7" width="2.6" height="2.6" fill="#d2123d"/><rect x="90.37" y="575.5" width="2.6" height="2.6" fill="#d2123d"/><rect x="94.34" y="573.34" width="2.6" height="2.6" fill="#d2123d"/><rect x="88.89" y="574.4" width="2.6" height="2.6" fill="#d2123d"/><rect x="89.72" y="579.83" width="2.6" height="2.6" fill="#d2123d"/><rect x="91.58" y="573.98" width="2.6" height="2.6" fill="#d2123d"/><rect x="92.4" y="573.03" width="2.6" height="2.6" fill="#d2123d"/><rect x="90.64" y="572.77" width="2.6" height="2.6" fill="#d2123d"/><rect x="90.27" y="566.1" width="2.6" height="2.6" fill="#d2123d"/><rect x="91.57" y="569.7" width="2.6" height="2.6" fill="#d2123d"/><rect x="110.2" y="573.1" width="7.4" height="12.8" fill="#6893bb" stroke="#5584b2" stroke-width="0.6"/><rect x="122.2" y="565.5" width="7.4" height="20.4" fill="#de6f83" stroke="#d9566f" stroke-width="0.6"/><line x1="113.9" y1="568.8" x2="113.9" y2="576.8" stroke="#0e4e8e" stroke-width="0.75"/><line x1="112.1" y1="568.8" x2="115.7" y2="568.8" stroke="#0e4e8e" stroke-width="0.75"/><circle cx="112.32" cy="573.3" r="1.35" fill="#0e4e8e"/><circle cx="114.05" cy="581.42" r="1.35" fill="#0e4e8e"/><circle cx="113.24" cy="570.22" r="1.35" fill="#0e4e8e"/><circle cx="113.27" cy="573.6" r="1.35" fill="#0e4e8e"/><circle cx="112.36" cy="574.23" r="1.35" fill="#0e4e8e"/><circle cx="112.82" cy="576.91" r="1.35" fill="#0e4e8e"/><circle cx="113.89" cy="577.9" r="1.35" fill="#0e4e8e"/><circle cx="112.71" cy="575.99" r="1.35" fill="#0e4e8e"/><circle cx="111.97" cy="571.59" r="1.35" fill="#0e4e8e"/><circle cx="111.56" cy="577.47" r="1.35" fill="#0e4e8e"/><circle cx="116.44" cy="573.6" r="1.35" fill="#0e4e8e"/><circle cx="112.82" cy="576.71" r="1.35" fill="#0e4e8e"/><circle cx="111.27" cy="576.11" r="1.35" fill="#0e4e8e"/><circle cx="112.87" cy="573.62" r="1.35" fill="#0e4e8e"/><circle cx="110.93" cy="574.79" r="1.35" fill="#0e4e8e"/><circle cx="112.16" cy="571.68" r="1.35" fill="#0e4e8e"/><circle cx="114.45" cy="566.5" r="1.35" fill="#0e4e8e"/><line x1="125.9" y1="557.2" x2="125.9" y2="573.2" stroke="#d2123d" stroke-width="0.75"/><line x1="124.1" y1="557.2" x2="127.7" y2="557.2" stroke="#d2123d" stroke-width="0.75"/><rect x="122.59" y="562.83" width="2.6" height="2.6" fill="#d2123d"/><rect x="125.78" y="562.86" width="2.6" height="2.6" fill="#d2123d"/><rect x="121.87" y="565.93" width="2.6" height="2.6" fill="#d2123d"/><rect x="127.5" y="564.79" width="2.6" height="2.6" fill="#d2123d"/><rect x="126.51" y="567.31" width="2.6" height="2.6" fill="#d2123d"/><rect x="125.44" y="562.58" width="2.6" height="2.6" fill="#d2123d"/><rect x="126.63" y="577.05" width="2.6" height="2.6" fill="#d2123d"/><rect x="122.75" y="565.91" width="2.6" height="2.6" fill="#d2123d"/><rect x="122.68" y="569.96" width="2.6" height="2.6" fill="#d2123d"/><rect x="123.81" y="563.09" width="2.6" height="2.6" fill="#d2123d"/><rect x="121.93" y="563.79" width="2.6" height="2.6" fill="#d2123d"/><rect x="124.92" y="562.21" width="2.6" height="2.6" fill="#d2123d"/><rect x="126.32" y="563.8" width="2.6" height="2.6" fill="#d2123d"/><rect x="125.28" y="565.08" width="2.6" height="2.6" fill="#d2123d"/><rect x="124.76" y="568.93" width="2.6" height="2.6" fill="#d2123d"/><rect x="127.09" y="561.81" width="2.6" height="2.6" fill="#d2123d"/><rect x="124.97" y="540.7" width="2.6" height="2.6" fill="#d2123d"/><rect x="124.29" y="552.5" width="2.6" height="2.6" fill="#d2123d"/><rect x="126.6" y="554.7" width="2.6" height="2.6" fill="#d2123d"/><rect x="122.6" y="558.7" width="2.6" height="2.6" fill="#d2123d"/><line x1="39.5" y1="529.7" x2="39.5" y2="586" stroke="#1e1e1e" stroke-width="1"/><line x1="39" y1="585.5" x2="134" y2="585.5" stroke="#1e1e1e" stroke-width="1"/><line x1="36.5" y1="585.5" x2="39.5" y2="585.5" stroke="#1e1e1e" stroke-width="1"/><text class="tk" transform="translate(33.3 589) scale(0.82 1)" font-size="8.8" text-anchor="end" font-weight="normal" fill="#141414"><tspan>0.00</tspan></text><line x1="36.5" y1="574.5" x2="39.5" y2="574.5" stroke="#1e1e1e" stroke-width="1"/><text class="tk" transform="translate(33.3 577.75) scale(0.82 1)" font-size="8.8" text-anchor="end" font-weight="normal" fill="#141414"><tspan>0.05</tspan></text><line x1="36.5" y1="563.5" x2="39.5" y2="563.5" stroke="#1e1e1e" stroke-width="1"/><text class="tk" transform="translate(33.3 566.5) scale(0.82 1)" font-size="8.8" text-anchor="end" font-weight="normal" fill="#141414"><tspan>0.10</tspan></text><line x1="36.5" y1="552.5" x2="39.5" y2="552.5" stroke="#1e1e1e" stroke-width="1"/><text class="tk" transform="translate(33.3 555.25) scale(0.82 1)" font-size="8.8" text-anchor="end" font-weight="normal" fill="#141414"><tspan>0.15</tspan></text><line x1="36.5" y1="540.5" x2="39.5" y2="540.5" stroke="#1e1e1e" stroke-width="1"/><text class="tk" transform="translate(33.3 544) scale(0.82 1)" font-size="8.8" text-anchor="end" font-weight="normal" fill="#141414"><tspan>0.20</tspan></text><line x1="36.5" y1="529.5" x2="39.5" y2="529.5" stroke="#1e1e1e" stroke-width="1"/><text class="tk" transform="translate(33.3 532.75) scale(0.82 1)" font-size="8.8" text-anchor="end" font-weight="normal" fill="#141414"><tspan>0.25</tspan></text><line x1="53.5" y1="585.5" x2="53.5" y2="587.9" stroke="#1e1e1e" stroke-width="0.9"/><line x1="86.5" y1="585.5" x2="86.5" y2="587.9" stroke="#1e1e1e" stroke-width="0.9"/><line x1="119.5" y1="585.5" x2="119.5" y2="587.9" stroke="#1e1e1e" stroke-width="0.9"/><text x="53.7" y="598.2" font-size="8.7" text-anchor="middle" font-weight="normal" fill="#141414" textLength="24.3" lengthAdjust="spacingAndGlyphs"><tspan>Spleen</tspan></text><text x="86.8" y="598.2" font-size="8.7" text-anchor="middle" font-weight="normal" fill="#141414" textLength="5.4" lengthAdjust="spacingAndGlyphs"><tspan>SI</tspan></text><text x="119.9" y="598.2" font-size="8.7" text-anchor="middle" font-weight="normal" fill="#141414" textLength="21" lengthAdjust="spacingAndGlyphs"><tspan>Colon</tspan></text><line x1="48.5" y1="541.5" x2="58.9" y2="541.5" stroke="#222" stroke-width="1"/><polygon points="49.7,534.45 50.32,535.75 51.74,535.94 50.7,536.92 50.96,538.34 49.7,537.65 48.44,538.34 48.7,536.92 47.66,535.94 49.08,535.75" fill="#111"/><polygon points="53.7,534.45 54.32,535.75 55.74,535.94 54.7,536.92 54.96,538.34 53.7,537.65 52.44,538.34 52.7,536.92 51.66,535.94 53.08,535.75" fill="#111"/><polygon points="57.7,534.45 58.32,535.75 59.74,535.94 58.7,536.92 58.96,538.34 57.7,537.65 56.44,538.34 56.7,536.92 55.66,535.94 57.08,535.75" fill="#111"/><line x1="81.6" y1="556.5" x2="92" y2="556.5" stroke="#222" stroke-width="1"/><polygon points="82.8,549.85 83.42,551.15 84.84,551.34 83.8,552.32 84.06,553.74 82.8,553.05 81.54,553.74 81.8,552.32 80.76,551.34 82.18,551.15" fill="#111"/><polygon points="86.8,549.85 87.42,551.15 88.84,551.34 87.8,552.32 88.06,553.74 86.8,553.05 85.54,553.74 85.8,552.32 84.76,551.34 86.18,551.15" fill="#111"/><polygon points="90.8,549.85 91.42,551.15 92.84,551.34 91.8,552.32 92.06,553.74 90.8,553.05 89.54,553.74 89.8,552.32 88.76,551.34 90.18,551.15" fill="#111"/><line x1="114.7" y1="537.5" x2="125.1" y2="537.5" stroke="#222" stroke-width="1"/><polygon points="115.9,530.85 116.52,532.15 117.94,532.34 116.9,533.32 117.16,534.74 115.9,534.05 114.64,534.74 114.9,533.32 113.86,532.34 115.28,532.15" fill="#111"/><polygon points="119.9,530.85 120.52,532.15 121.94,532.34 120.9,533.32 121.16,534.74 119.9,534.05 118.64,534.74 118.9,533.32 117.86,532.34 119.28,532.15" fill="#111"/><polygon points="123.9,530.85 124.52,532.15 125.94,532.34 124.9,533.32 125.16,534.74 123.9,534.05 122.64,534.74 122.9,533.32 121.86,532.34 123.28,532.15" fill="#111"/><text transform="translate(15.6 557.8) rotate(-90)" x="0" y="0" font-size="9.8" text-anchor="middle" font-weight="normal" fill="#141414" textLength="48.3" lengthAdjust="spacingAndGlyphs"><tspan>Treg/CD4 ratio</tspan></text><rect x="170.1" y="580.3" width="7.4" height="5.85" fill="#6893bb" stroke="#5584b2" stroke-width="0.6"/><rect x="182.1" y="569.8" width="7.4" height="16.35" fill="#de6f83" stroke="#d9566f" stroke-width="0.6"/><line x1="173.8" y1="578.8" x2="173.8" y2="581.2" stroke="#0e4e8e" stroke-width="0.75"/><line x1="172" y1="578.8" x2="175.6" y2="578.8" stroke="#0e4e8e" stroke-width="0.75"/><circle cx="173.65" cy="581.45" r="1.35" fill="#0e4e8e"/><circle cx="176.4" cy="580.38" r="1.35" fill="#0e4e8e"/><circle cx="174.25" cy="579.91" r="1.35" fill="#0e4e8e"/><circle cx="171.93" cy="582.02" r="1.35" fill="#0e4e8e"/><circle cx="175.72" cy="582.41" r="1.35" fill="#0e4e8e"/><line x1="185.8" y1="558.5" x2="185.8" y2="580.5" stroke="#d2123d" stroke-width="0.75"/><line x1="184" y1="558.5" x2="187.6" y2="558.5" stroke="#d2123d" stroke-width="0.75"/><rect x="181.82" y="561.85" width="2.6" height="2.6" fill="#d2123d"/><rect x="185.41" y="564.37" width="2.6" height="2.6" fill="#d2123d"/><rect x="184.91" y="578.17" width="2.6" height="2.6" fill="#d2123d"/><rect x="185.97" y="564.99" width="2.6" height="2.6" fill="#d2123d"/><rect x="183.02" y="560.64" width="2.6" height="2.6" fill="#d2123d"/><rect x="183.46" y="550.7" width="2.6" height="2.6" fill="#d2123d"/><rect x="202.9" y="581.5" width="7.4" height="4.65" fill="#6893bb" stroke="#5584b2" stroke-width="0.6"/><rect x="214.9" y="569" width="7.4" height="17.15" fill="#de6f83" stroke="#d9566f" stroke-width="0.6"/><line x1="206.6" y1="580.2" x2="206.6" y2="582.2" stroke="#0e4e8e" stroke-width="0.75"/><line x1="204.8" y1="580.2" x2="208.4" y2="580.2" stroke="#0e4e8e" stroke-width="0.75"/><circle cx="204.97" cy="582.5" r="1.35" fill="#0e4e8e"/><circle cx="206.88" cy="582.75" r="1.35" fill="#0e4e8e"/><circle cx="205.14" cy="582.74" r="1.35" fill="#0e4e8e"/><circle cx="208.14" cy="582.02" r="1.35" fill="#0e4e8e"/><circle cx="205.23" cy="580.41" r="1.35" fill="#0e4e8e"/><line x1="218.6" y1="557.7" x2="218.6" y2="579.7" stroke="#d2123d" stroke-width="0.75"/><line x1="216.8" y1="557.7" x2="220.4" y2="557.7" stroke="#d2123d" stroke-width="0.75"/><rect x="215.79" y="565.31" width="2.6" height="2.6" fill="#d2123d"/><rect x="214.64" y="564.88" width="2.6" height="2.6" fill="#d2123d"/><rect x="216.46" y="573.9" width="2.6" height="2.6" fill="#d2123d"/><rect x="215.63" y="565.85" width="2.6" height="2.6" fill="#d2123d"/><rect x="214.53" y="572.99" width="2.6" height="2.6" fill="#d2123d"/><rect x="215.94" y="549.7" width="2.6" height="2.6" fill="#d2123d"/><rect x="235.7" y="574" width="7.4" height="12.15" fill="#6893bb" stroke="#5584b2" stroke-width="0.6"/><rect x="247.7" y="555.3" width="7.4" height="30.85" fill="#de6f83" stroke="#d9566f" stroke-width="0.6"/><line x1="239.4" y1="569.7" x2="239.4" y2="577.7" stroke="#0e4e8e" stroke-width="0.75"/><line x1="237.6" y1="569.7" x2="241.2" y2="569.7" stroke="#0e4e8e" stroke-width="0.75"/><circle cx="241.01" cy="571.92" r="1.35" fill="#0e4e8e"/><circle cx="242.07" cy="572.03" r="1.35" fill="#0e4e8e"/><circle cx="239.66" cy="575.18" r="1.35" fill="#0e4e8e"/><circle cx="237.84" cy="570.48" r="1.35" fill="#0e4e8e"/><circle cx="237.66" cy="570.77" r="1.35" fill="#0e4e8e"/><line x1="251.4" y1="548" x2="251.4" y2="562" stroke="#d2123d" stroke-width="0.75"/><line x1="249.6" y1="548" x2="253.2" y2="548" stroke="#d2123d" stroke-width="0.75"/><rect x="250.36" y="561.35" width="2.6" height="2.6" fill="#d2123d"/><rect x="252.94" y="553.88" width="2.6" height="2.6" fill="#d2123d"/><rect x="249.94" y="564.35" width="2.6" height="2.6" fill="#d2123d"/><rect x="249.95" y="559.18" width="2.6" height="2.6" fill="#d2123d"/><rect x="252.58" y="556.02" width="2.6" height="2.6" fill="#d2123d"/><line x1="165.5" y1="529.9" x2="165.5" y2="587" stroke="#1e1e1e" stroke-width="1"/><line x1="165" y1="586.5" x2="258" y2="586.5" stroke="#1e1e1e" stroke-width="1"/><line x1="162.5" y1="586.5" x2="165.5" y2="586.5" stroke="#1e1e1e" stroke-width="1"/><text class="tk" transform="translate(159.3 589.25) scale(0.82 1)" font-size="8.8" text-anchor="end" font-weight="normal" fill="#141414"><tspan>0.00</tspan></text><line x1="162.5" y1="567.5" x2="165.5" y2="567.5" stroke="#1e1e1e" stroke-width="1"/><text class="tk" transform="translate(159.3 570.5) scale(0.82 1)" font-size="8.8" text-anchor="end" font-weight="normal" fill="#141414"><tspan>0.05</tspan></text><line x1="162.5" y1="548.5" x2="165.5" y2="548.5" stroke="#1e1e1e" stroke-width="1"/><text class="tk" transform="translate(159.3 551.75) scale(0.82 1)" font-size="8.8" text-anchor="end" font-weight="normal" fill="#141414"><tspan>0.10</tspan></text><line x1="162.5" y1="529.5" x2="165.5" y2="529.5" stroke="#1e1e1e" stroke-width="1"/><text class="tk" transform="translate(159.3 533) scale(0.82 1)" font-size="8.8" text-anchor="end" font-weight="normal" fill="#141414"><tspan>0.15</tspan></text><line x1="179.5" y1="586.5" x2="179.5" y2="588.9" stroke="#1e1e1e" stroke-width="0.9"/><line x1="212.5" y1="586.5" x2="212.5" y2="588.9" stroke="#1e1e1e" stroke-width="0.9"/><line x1="245.5" y1="586.5" x2="245.5" y2="588.9" stroke="#1e1e1e" stroke-width="0.9"/><text x="179.8" y="599.2" font-size="8.7" text-anchor="middle" font-weight="normal" fill="#141414" textLength="24.3" lengthAdjust="spacingAndGlyphs"><tspan>Spleen</tspan></text><text x="212.6" y="599.2" font-size="8.7" text-anchor="middle" font-weight="normal" fill="#141414" textLength="5.4" lengthAdjust="spacingAndGlyphs"><tspan>SI</tspan></text><text x="245.4" y="599.2" font-size="8.7" text-anchor="middle" font-weight="normal" fill="#141414" textLength="21" lengthAdjust="spacingAndGlyphs"><tspan>Colon</tspan></text><line x1="207.4" y1="541.5" x2="217.8" y2="541.5" stroke="#222" stroke-width="1"/><polygon points="208.6,534.95 209.22,536.25 210.64,536.44 209.6,537.42 209.86,538.84 208.6,538.15 207.34,538.84 207.6,537.42 206.56,536.44 207.98,536.25" fill="#111"/><polygon points="212.6,534.95 213.22,536.25 214.64,536.44 213.6,537.42 213.86,538.84 212.6,538.15 211.34,538.84 211.6,537.42 210.56,536.44 211.98,536.25" fill="#111"/><polygon points="216.6,534.95 217.22,536.25 218.64,536.44 217.6,537.42 217.86,538.84 216.6,538.15 215.34,538.84 215.6,537.42 214.56,536.44 215.98,536.25" fill="#111"/><line x1="240.2" y1="541.5" x2="250.6" y2="541.5" stroke="#222" stroke-width="1"/><polygon points="245.4,534.95 246.02,536.25 247.44,536.44 246.4,537.42 246.66,538.84 245.4,538.15 244.14,538.84 244.4,537.42 243.36,536.44 244.78,536.25" fill="#111"/><text transform="translate(142.6 557.8) rotate(-90)" x="0" y="0" font-size="9.8" text-anchor="middle" font-weight="normal" fill="#141414" textLength="48.3" lengthAdjust="spacingAndGlyphs"><tspan>Treg/CD4 ratio</tspan></text><rect x="293.4" y="468.3" width="7.4" height="26.2" fill="#6893bb" stroke="#5584b2" stroke-width="0.6"/><rect x="305.4" y="474.8" width="7.4" height="19.7" fill="#de6f83" stroke="#d9566f" stroke-width="0.6"/><line x1="297.1" y1="464" x2="297.1" y2="472" stroke="#0e4e8e" stroke-width="0.75"/><line x1="295.3" y1="464" x2="298.9" y2="464" stroke="#0e4e8e" stroke-width="0.75"/><circle cx="294.64" cy="468.74" r="1.35" fill="#0e4e8e"/><circle cx="296.57" cy="476.08" r="1.35" fill="#0e4e8e"/><circle cx="298.29" cy="473.11" r="1.35" fill="#0e4e8e"/><circle cx="298.31" cy="470.42" r="1.35" fill="#0e4e8e"/><circle cx="294.76" cy="466.59" r="1.35" fill="#0e4e8e"/><circle cx="298.51" cy="473.84" r="1.35" fill="#0e4e8e"/><circle cx="299.46" cy="465.6" r="1.35" fill="#0e4e8e"/><circle cx="296.38" cy="477.75" r="1.35" fill="#0e4e8e"/><circle cx="298.44" cy="463.25" r="1.35" fill="#0e4e8e"/><circle cx="294.54" cy="462.73" r="1.35" fill="#0e4e8e"/><circle cx="298.87" cy="463.64" r="1.35" fill="#0e4e8e"/><circle cx="297.42" cy="460.41" r="1.35" fill="#0e4e8e"/><circle cx="297.07" cy="448.2" r="1.35" fill="#0e4e8e"/><line x1="309.1" y1="467" x2="309.1" y2="482" stroke="#d2123d" stroke-width="0.75"/><line x1="307.3" y1="467" x2="310.9" y2="467" stroke="#d2123d" stroke-width="0.75"/><rect x="306.97" y="468.13" width="2.6" height="2.6" fill="#d2123d"/><rect x="308.39" y="474.05" width="2.6" height="2.6" fill="#d2123d"/><rect x="308.68" y="470.18" width="2.6" height="2.6" fill="#d2123d"/><rect x="307.99" y="481.75" width="2.6" height="2.6" fill="#d2123d"/><rect x="307.88" y="463.98" width="2.6" height="2.6" fill="#d2123d"/><rect x="308.99" y="470.69" width="2.6" height="2.6" fill="#d2123d"/><rect x="305.89" y="470.33" width="2.6" height="2.6" fill="#d2123d"/><rect x="308.25" y="475.14" width="2.6" height="2.6" fill="#d2123d"/><rect x="310.66" y="469.45" width="2.6" height="2.6" fill="#d2123d"/><rect x="305.74" y="468.41" width="2.6" height="2.6" fill="#d2123d"/><rect x="308.35" y="479.51" width="2.6" height="2.6" fill="#d2123d"/><rect x="307.83" y="470.14" width="2.6" height="2.6" fill="#d2123d"/><rect x="308" y="451.2" width="2.6" height="2.6" fill="#d2123d"/><rect x="309.8" y="453.2" width="2.6" height="2.6" fill="#d2123d"/><rect x="324.6" y="488.3" width="7.4" height="6.2" fill="#6893bb" stroke="#5584b2" stroke-width="0.6"/><rect x="336.6" y="489" width="7.4" height="5.5" fill="#de6f83" stroke="#d9566f" stroke-width="0.6"/><line x1="328.3" y1="484" x2="328.3" y2="492" stroke="#0e4e8e" stroke-width="0.75"/><line x1="326.5" y1="484" x2="330.1" y2="484" stroke="#0e4e8e" stroke-width="0.75"/><circle cx="328.94" cy="491.32" r="1.35" fill="#0e4e8e"/><circle cx="326.3" cy="490.87" r="1.35" fill="#0e4e8e"/><circle cx="325.97" cy="490.43" r="1.35" fill="#0e4e8e"/><circle cx="328.46" cy="492.54" r="1.35" fill="#0e4e8e"/><circle cx="325.48" cy="490.87" r="1.35" fill="#0e4e8e"/><circle cx="328.97" cy="490.62" r="1.35" fill="#0e4e8e"/><circle cx="328.73" cy="487.78" r="1.35" fill="#0e4e8e"/><circle cx="328.68" cy="484.94" r="1.35" fill="#0e4e8e"/><circle cx="325.67" cy="485.07" r="1.35" fill="#0e4e8e"/><circle cx="328.61" cy="485.83" r="1.35" fill="#0e4e8e"/><circle cx="328.84" cy="485.51" r="1.35" fill="#0e4e8e"/><circle cx="330.58" cy="484.66" r="1.35" fill="#0e4e8e"/><circle cx="329" cy="477" r="1.35" fill="#0e4e8e"/><line x1="340.3" y1="486.7" x2="340.3" y2="490.7" stroke="#d2123d" stroke-width="0.75"/><line x1="338.5" y1="486.7" x2="342.1" y2="486.7" stroke="#d2123d" stroke-width="0.75"/><rect x="338.74" y="485.56" width="2.6" height="2.6" fill="#d2123d"/><rect x="339.7" y="490.03" width="2.6" height="2.6" fill="#d2123d"/><rect x="336.04" y="483.78" width="2.6" height="2.6" fill="#d2123d"/><rect x="339.45" y="488.24" width="2.6" height="2.6" fill="#d2123d"/><rect x="340.54" y="488.73" width="2.6" height="2.6" fill="#d2123d"/><rect x="339.92" y="483.53" width="2.6" height="2.6" fill="#d2123d"/><rect x="337.06" y="492" width="2.6" height="2.6" fill="#d2123d"/><rect x="337.47" y="488.41" width="2.6" height="2.6" fill="#d2123d"/><rect x="339.73" y="490.27" width="2.6" height="2.6" fill="#d2123d"/><rect x="340.23" y="488.18" width="2.6" height="2.6" fill="#d2123d"/><rect x="337.5" y="488.83" width="2.6" height="2.6" fill="#d2123d"/><rect x="337.06" y="483.75" width="2.6" height="2.6" fill="#d2123d"/><rect x="355.8" y="487.8" width="7.4" height="6.7" fill="#6893bb" stroke="#5584b2" stroke-width="0.6"/><rect x="367.8" y="489" width="7.4" height="5.5" fill="#de6f83" stroke="#d9566f" stroke-width="0.6"/><line x1="359.5" y1="485.5" x2="359.5" y2="489.5" stroke="#0e4e8e" stroke-width="0.75"/><line x1="357.7" y1="485.5" x2="361.3" y2="485.5" stroke="#0e4e8e" stroke-width="0.75"/><circle cx="357.85" cy="484.49" r="1.35" fill="#0e4e8e"/><circle cx="358.78" cy="486.59" r="1.35" fill="#0e4e8e"/><circle cx="362.1" cy="485.97" r="1.35" fill="#0e4e8e"/><circle cx="358.11" cy="486.05" r="1.35" fill="#0e4e8e"/><circle cx="361.61" cy="484.92" r="1.35" fill="#0e4e8e"/><circle cx="359.57" cy="485.95" r="1.35" fill="#0e4e8e"/><circle cx="362.35" cy="485.93" r="1.35" fill="#0e4e8e"/><circle cx="356.58" cy="487.27" r="1.35" fill="#0e4e8e"/><circle cx="360.94" cy="484.4" r="1.35" fill="#0e4e8e"/><circle cx="360.43" cy="485.37" r="1.35" fill="#0e4e8e"/><circle cx="360.28" cy="485.45" r="1.35" fill="#0e4e8e"/><circle cx="360.96" cy="487.1" r="1.35" fill="#0e4e8e"/><line x1="371.5" y1="486.7" x2="371.5" y2="490.7" stroke="#d2123d" stroke-width="0.75"/><line x1="369.7" y1="486.7" x2="373.3" y2="486.7" stroke="#d2123d" stroke-width="0.75"/><rect x="368.96" y="488.15" width="2.6" height="2.6" fill="#d2123d"/><rect x="372.54" y="486.82" width="2.6" height="2.6" fill="#d2123d"/><rect x="371.5" y="489.84" width="2.6" height="2.6" fill="#d2123d"/><rect x="369.44" y="484.67" width="2.6" height="2.6" fill="#d2123d"/><rect x="373" y="485.69" width="2.6" height="2.6" fill="#d2123d"/><rect x="373.09" y="487.97" width="2.6" height="2.6" fill="#d2123d"/><rect x="367.37" y="485.11" width="2.6" height="2.6" fill="#d2123d"/><rect x="369.86" y="487.21" width="2.6" height="2.6" fill="#d2123d"/><rect x="371.74" y="489.73" width="2.6" height="2.6" fill="#d2123d"/><rect x="368.74" y="487.07" width="2.6" height="2.6" fill="#d2123d"/><rect x="368.57" y="490.16" width="2.6" height="2.6" fill="#d2123d"/><rect x="367.39" y="482.86" width="2.6" height="2.6" fill="#d2123d"/><line x1="289.5" y1="438.25" x2="289.5" y2="495" stroke="#1e1e1e" stroke-width="1"/><line x1="289" y1="494.5" x2="379.8" y2="494.5" stroke="#1e1e1e" stroke-width="1"/><line x1="286.5" y1="494.5" x2="289.5" y2="494.5" stroke="#1e1e1e" stroke-width="1"/><text class="tk" transform="translate(283.3 497.6) scale(0.82 1)" font-size="8.8" text-anchor="end" font-weight="normal" fill="#141414"><tspan>0</tspan></text><line x1="286.5" y1="483.5" x2="289.5" y2="483.5" stroke="#1e1e1e" stroke-width="1"/><text class="tk" transform="translate(283.3 486.35) scale(0.82 1)" font-size="8.8" text-anchor="end" font-weight="normal" fill="#141414"><tspan>5</tspan></text><line x1="286.5" y1="472.5" x2="289.5" y2="472.5" stroke="#1e1e1e" stroke-width="1"/><text class="tk" transform="translate(283.3 475.1) scale(0.82 1)" font-size="8.8" text-anchor="end" font-weight="normal" fill="#141414"><tspan>10</tspan></text><line x1="286.5" y1="460.5" x2="289.5" y2="460.5" stroke="#1e1e1e" stroke-width="1"/><text class="tk" transform="translate(283.3 463.85) scale(0.82 1)" font-size="8.8" text-anchor="end" font-weight="normal" fill="#141414"><tspan>15</tspan></text><line x1="286.5" y1="449.5" x2="289.5" y2="449.5" stroke="#1e1e1e" stroke-width="1"/><text class="tk" transform="translate(283.3 452.6) scale(0.82 1)" font-size="8.8" text-anchor="end" font-weight="normal" fill="#141414"><tspan>20</tspan></text><line x1="286.5" y1="438.5" x2="289.5" y2="438.5" stroke="#1e1e1e" stroke-width="1"/><text class="tk" transform="translate(283.3 441.35) scale(0.82 1)" font-size="8.8" text-anchor="end" font-weight="normal" fill="#141414"><tspan>25</tspan></text><line x1="303.5" y1="494.5" x2="303.5" y2="496.9" stroke="#1e1e1e" stroke-width="0.9"/><line x1="334.5" y1="494.5" x2="334.5" y2="496.9" stroke="#1e1e1e" stroke-width="0.9"/><line x1="365.5" y1="494.5" x2="365.5" y2="496.9" stroke="#1e1e1e" stroke-width="0.9"/><text x="303.1" y="507.2" font-size="8.7" text-anchor="middle" font-weight="normal" fill="#141414" textLength="24.3" lengthAdjust="spacingAndGlyphs"><tspan>Spleen</tspan></text><text x="334.3" y="507.2" font-size="8.7" text-anchor="middle" font-weight="normal" fill="#141414" textLength="5.4" lengthAdjust="spacingAndGlyphs"><tspan>SI</tspan></text><text x="365.5" y="507.2" font-size="8.7" text-anchor="middle" font-weight="normal" fill="#141414" textLength="21" lengthAdjust="spacingAndGlyphs"><tspan>Colon</tspan></text><text transform="translate(271.8 466) rotate(-90)" x="0" y="0" font-size="9.8" text-anchor="middle" font-weight="normal" fill="#141414" textLength="46.8" lengthAdjust="spacingAndGlyphs"><tspan>% CD4</tspan><tspan dy="-3.53" font-size="5.2">+</tspan><tspan dy="3.53"> T-bet</tspan><tspan dy="-3.53" font-size="5.2">+</tspan></text><rect x="293.5" y="540.8" width="7.4" height="46.1" fill="#6893bb" stroke="#5584b2" stroke-width="0.6"/><rect x="292.7" y="546.05" width="9" height="5.2" fill="#ffffff"/><rect x="305.5" y="542.8" width="7.4" height="44.1" fill="#de6f83" stroke="#d9566f" stroke-width="0.6"/><rect x="304.7" y="546.05" width="9" height="5.2" fill="#ffffff"/><line x1="297.2" y1="538.5" x2="297.2" y2="542.5" stroke="#0e4e8e" stroke-width="0.75"/><line x1="295.4" y1="538.5" x2="299" y2="538.5" stroke="#0e4e8e" stroke-width="0.75"/><circle cx="296.47" cy="537.4" r="1.35" fill="#0e4e8e"/><circle cx="295.57" cy="540.45" r="1.35" fill="#0e4e8e"/><circle cx="298.56" cy="539.64" r="1.35" fill="#0e4e8e"/><circle cx="295.23" cy="542.05" r="1.35" fill="#0e4e8e"/><circle cx="296.4" cy="537.9" r="1.35" fill="#0e4e8e"/><circle cx="296.29" cy="537.34" r="1.35" fill="#0e4e8e"/><circle cx="299.38" cy="537.64" r="1.35" fill="#0e4e8e"/><circle cx="295.37" cy="543.97" r="1.35" fill="#0e4e8e"/><circle cx="300.13" cy="539.98" r="1.35" fill="#0e4e8e"/><circle cx="295.86" cy="540.66" r="1.35" fill="#0e4e8e"/><circle cx="298.79" cy="535.62" r="1.35" fill="#0e4e8e"/><circle cx="294.93" cy="540.09" r="1.35" fill="#0e4e8e"/><line x1="309.2" y1="541" x2="309.2" y2="544" stroke="#d2123d" stroke-width="0.75"/><line x1="307.4" y1="541" x2="311" y2="541" stroke="#d2123d" stroke-width="0.75"/><rect x="305.75" y="541.49" width="2.6" height="2.6" fill="#d2123d"/><rect x="310.55" y="537.29" width="2.6" height="2.6" fill="#d2123d"/><rect x="307.83" y="539.44" width="2.6" height="2.6" fill="#d2123d"/><rect x="306.43" y="541.98" width="2.6" height="2.6" fill="#d2123d"/><rect x="310.12" y="544.56" width="2.6" height="2.6" fill="#d2123d"/><rect x="307.86" y="539.04" width="2.6" height="2.6" fill="#d2123d"/><rect x="309.94" y="543.61" width="2.6" height="2.6" fill="#d2123d"/><rect x="307.02" y="540.88" width="2.6" height="2.6" fill="#d2123d"/><rect x="310.41" y="539.16" width="2.6" height="2.6" fill="#d2123d"/><rect x="310.8" y="540.03" width="2.6" height="2.6" fill="#d2123d"/><rect x="309.12" y="537.75" width="2.6" height="2.6" fill="#d2123d"/><rect x="324.8" y="573.3" width="7.4" height="13.6" fill="#6893bb" stroke="#5584b2" stroke-width="0.6"/><rect x="336.8" y="576.5" width="7.4" height="10.4" fill="#de6f83" stroke="#d9566f" stroke-width="0.6"/><line x1="328.5" y1="568" x2="328.5" y2="578" stroke="#0e4e8e" stroke-width="0.75"/><line x1="326.7" y1="568" x2="330.3" y2="568" stroke="#0e4e8e" stroke-width="0.75"/><circle cx="327.83" cy="572.49" r="1.35" fill="#0e4e8e"/><circle cx="327.71" cy="569.55" r="1.35" fill="#0e4e8e"/><circle cx="330.85" cy="570.19" r="1.35" fill="#0e4e8e"/><circle cx="326.84" cy="564.2" r="1.35" fill="#0e4e8e"/><circle cx="326.23" cy="574.94" r="1.35" fill="#0e4e8e"/><circle cx="331.41" cy="566.21" r="1.35" fill="#0e4e8e"/><circle cx="326.75" cy="576.59" r="1.35" fill="#0e4e8e"/><circle cx="327.79" cy="568.33" r="1.35" fill="#0e4e8e"/><circle cx="331.41" cy="570.93" r="1.35" fill="#0e4e8e"/><circle cx="325.64" cy="575.2" r="1.35" fill="#0e4e8e"/><circle cx="330.3" cy="568.79" r="1.35" fill="#0e4e8e"/><circle cx="327.96" cy="569.58" r="1.35" fill="#0e4e8e"/><line x1="340.5" y1="568.2" x2="340.5" y2="584.2" stroke="#d2123d" stroke-width="0.75"/><line x1="338.7" y1="568.2" x2="342.3" y2="568.2" stroke="#d2123d" stroke-width="0.75"/><rect x="342.18" y="560.96" width="2.6" height="2.6" fill="#d2123d"/><rect x="341.33" y="574.51" width="2.6" height="2.6" fill="#d2123d"/><rect x="339.01" y="579.35" width="2.6" height="2.6" fill="#d2123d"/><rect x="341.36" y="569.83" width="2.6" height="2.6" fill="#d2123d"/><rect x="339.87" y="577.9" width="2.6" height="2.6" fill="#d2123d"/><rect x="340.23" y="578.07" width="2.6" height="2.6" fill="#d2123d"/><rect x="341.13" y="561.16" width="2.6" height="2.6" fill="#d2123d"/><rect x="340.6" y="575.18" width="2.6" height="2.6" fill="#d2123d"/><rect x="337.18" y="575.8" width="2.6" height="2.6" fill="#d2123d"/><rect x="340.42" y="578.87" width="2.6" height="2.6" fill="#d2123d"/><rect x="340.28" y="572.43" width="2.6" height="2.6" fill="#d2123d"/><rect x="337.52" y="581.86" width="2.6" height="2.6" fill="#d2123d"/><rect x="356.1" y="570.8" width="7.4" height="16.1" fill="#6893bb" stroke="#5584b2" stroke-width="0.6"/><rect x="368.1" y="568.3" width="7.4" height="18.6" fill="#de6f83" stroke="#d9566f" stroke-width="0.6"/><line x1="359.8" y1="564.5" x2="359.8" y2="576.5" stroke="#0e4e8e" stroke-width="0.75"/><line x1="358" y1="564.5" x2="361.6" y2="564.5" stroke="#0e4e8e" stroke-width="0.75"/><circle cx="359.96" cy="565.34" r="1.35" fill="#0e4e8e"/><circle cx="361.98" cy="567.19" r="1.35" fill="#0e4e8e"/><circle cx="362.34" cy="566.88" r="1.35" fill="#0e4e8e"/><circle cx="361.34" cy="576.83" r="1.35" fill="#0e4e8e"/><circle cx="359.46" cy="579.69" r="1.35" fill="#0e4e8e"/><circle cx="359.71" cy="578.22" r="1.35" fill="#0e4e8e"/><circle cx="359.12" cy="576.86" r="1.35" fill="#0e4e8e"/><circle cx="362.48" cy="562.84" r="1.35" fill="#0e4e8e"/><circle cx="360.51" cy="569.47" r="1.35" fill="#0e4e8e"/><circle cx="359.33" cy="569.17" r="1.35" fill="#0e4e8e"/><circle cx="360.26" cy="571.83" r="1.35" fill="#0e4e8e"/><circle cx="359.86" cy="568.97" r="1.35" fill="#0e4e8e"/><circle cx="359.85" cy="555" r="1.35" fill="#0e4e8e"/><line x1="371.8" y1="563" x2="371.8" y2="573" stroke="#d2123d" stroke-width="0.75"/><line x1="370" y1="563" x2="373.6" y2="563" stroke="#d2123d" stroke-width="0.75"/><rect x="372.34" y="566.57" width="2.6" height="2.6" fill="#d2123d"/><rect x="369.47" y="570.73" width="2.6" height="2.6" fill="#d2123d"/><rect x="369.38" y="561.82" width="2.6" height="2.6" fill="#d2123d"/><rect x="372.26" y="572.86" width="2.6" height="2.6" fill="#d2123d"/><rect x="372.66" y="566.15" width="2.6" height="2.6" fill="#d2123d"/><rect x="372.25" y="563.12" width="2.6" height="2.6" fill="#d2123d"/><rect x="368.83" y="575.15" width="2.6" height="2.6" fill="#d2123d"/><rect x="369.1" y="563" width="2.6" height="2.6" fill="#d2123d"/><rect x="370.92" y="572.04" width="2.6" height="2.6" fill="#d2123d"/><rect x="372.7" y="568.95" width="2.6" height="2.6" fill="#d2123d"/><rect x="371.2" y="563.31" width="2.6" height="2.6" fill="#d2123d"/><rect x="372.49" y="562.25" width="2.6" height="2.6" fill="#d2123d"/><line x1="289.5" y1="530.75" x2="289.5" y2="546.25" stroke="#1e1e1e" stroke-width="1"/><line x1="289.5" y1="551.25" x2="289.5" y2="587" stroke="#1e1e1e" stroke-width="1"/><line x1="287.9" y1="546.25" x2="291.3" y2="546.25" stroke="#1e1e1e" stroke-width="0.9"/><line x1="287.9" y1="551.25" x2="291.3" y2="551.25" stroke="#1e1e1e" stroke-width="0.9"/><line x1="289" y1="586.5" x2="379.6" y2="586.5" stroke="#1e1e1e" stroke-width="1"/><line x1="286.5" y1="531.5" x2="289.5" y2="531.5" stroke="#1e1e1e" stroke-width="1"/><text class="tk" transform="translate(283.3 534.35) scale(0.82 1)" font-size="8.8" text-anchor="end" font-weight="normal" fill="#141414"><tspan>4</tspan></text><line x1="286.5" y1="539.5" x2="289.5" y2="539.5" stroke="#1e1e1e" stroke-width="1"/><text class="tk" transform="translate(283.3 542.6) scale(0.82 1)" font-size="8.8" text-anchor="end" font-weight="normal" fill="#141414"><tspan>2</tspan></text><line x1="286.5" y1="552.5" x2="289.5" y2="552.5" stroke="#1e1e1e" stroke-width="1"/><text class="tk" transform="translate(283.3 555.1) scale(0.82 1)" font-size="8.8" text-anchor="end" font-weight="normal" fill="#141414"><tspan>0.2</tspan></text><line x1="286.5" y1="569.5" x2="289.5" y2="569.5" stroke="#1e1e1e" stroke-width="1"/><text class="tk" transform="translate(283.3 572.4) scale(0.82 1)" font-size="8.8" text-anchor="end" font-weight="normal" fill="#141414"><tspan>0.1</tspan></text><line x1="286.5" y1="586.5" x2="289.5" y2="586.5" stroke="#1e1e1e" stroke-width="1"/><text class="tk" transform="translate(283.3 590) scale(0.82 1)" font-size="8.8" text-anchor="end" font-weight="normal" fill="#141414"><tspan>0</tspan></text><line x1="303.5" y1="586.5" x2="303.5" y2="588.9" stroke="#1e1e1e" stroke-width="0.9"/><line x1="334.5" y1="586.5" x2="334.5" y2="588.9" stroke="#1e1e1e" stroke-width="0.9"/><line x1="365.5" y1="586.5" x2="365.5" y2="588.9" stroke="#1e1e1e" stroke-width="0.9"/><text x="303.2" y="599.2" font-size="8.7" text-anchor="middle" font-weight="normal" fill="#141414" textLength="24.3" lengthAdjust="spacingAndGlyphs"><tspan>Spleen</tspan></text><text x="334.5" y="599.2" font-size="8.7" text-anchor="middle" font-weight="normal" fill="#141414" textLength="5.4" lengthAdjust="spacingAndGlyphs"><tspan>SI</tspan></text><text x="365.8" y="599.2" font-size="8.7" text-anchor="middle" font-weight="normal" fill="#141414" textLength="21" lengthAdjust="spacingAndGlyphs"><tspan>Colon</tspan></text><line x1="298" y1="527.5" x2="308.4" y2="527.5" stroke="#222" stroke-width="1"/><polygon points="303.2,520.75 303.82,522.05 305.24,522.24 304.2,523.22 304.46,524.64 303.2,523.95 301.94,524.64 302.2,523.22 301.16,522.24 302.58,522.05" fill="#111"/><text transform="translate(272.5 558.8) rotate(-90)" x="0" y="0" font-size="9.8" text-anchor="middle" font-weight="normal" fill="#141414" textLength="62.4" lengthAdjust="spacingAndGlyphs"><tspan>CD4</tspan><tspan dy="-3.53" font-size="5.2">+</tspan><tspan dy="3.53"> T-bet</tspan><tspan dy="-3.53" font-size="5.2">+</tspan><tspan dy="3.53"> (×10</tspan><tspan dy="-3.53" font-size="5.2">4</tspan><tspan dy="3.53">)</tspan></text><rect x="422.3" y="479.8" width="7.4" height="14.7" fill="#6893bb" stroke="#5584b2" stroke-width="0.6"/><rect x="434.3" y="480.3" width="7.4" height="14.2" fill="#de6f83" stroke="#d9566f" stroke-width="0.6"/><line x1="426" y1="469.5" x2="426" y2="489.5" stroke="#0e4e8e" stroke-width="0.75"/><line x1="424.2" y1="469.5" x2="427.8" y2="469.5" stroke="#0e4e8e" stroke-width="0.75"/><circle cx="423.47" cy="471.97" r="1.35" fill="#0e4e8e"/><circle cx="428.67" cy="480.97" r="1.35" fill="#0e4e8e"/><circle cx="424.16" cy="487.57" r="1.35" fill="#0e4e8e"/><circle cx="428.79" cy="474.78" r="1.35" fill="#0e4e8e"/><circle cx="424.72" cy="469.23" r="1.35" fill="#0e4e8e"/><circle cx="425.9" cy="472.42" r="1.35" fill="#0e4e8e"/><circle cx="424.73" cy="486.17" r="1.35" fill="#0e4e8e"/><circle cx="428.56" cy="479.94" r="1.35" fill="#0e4e8e"/><circle cx="424.83" cy="479.11" r="1.35" fill="#0e4e8e"/><circle cx="428.22" cy="479.4" r="1.35" fill="#0e4e8e"/><circle cx="426.26" cy="472.84" r="1.35" fill="#0e4e8e"/><circle cx="427.78" cy="487.9" r="1.35" fill="#0e4e8e"/><circle cx="424.97" cy="441" r="1.35" fill="#0e4e8e"/><circle cx="424.67" cy="460.5" r="1.35" fill="#0e4e8e"/><circle cx="428" cy="463" r="1.35" fill="#0e4e8e"/><line x1="438" y1="470" x2="438" y2="490" stroke="#d2123d" stroke-width="0.75"/><line x1="436.2" y1="470" x2="439.8" y2="470" stroke="#d2123d" stroke-width="0.75"/><rect x="434.94" y="484.74" width="2.6" height="2.6" fill="#d2123d"/><rect x="434.9" y="476.03" width="2.6" height="2.6" fill="#d2123d"/><rect x="438.78" y="478.12" width="2.6" height="2.6" fill="#d2123d"/><rect x="438.59" y="475.67" width="2.6" height="2.6" fill="#d2123d"/><rect x="435.46" y="475.24" width="2.6" height="2.6" fill="#d2123d"/><rect x="434.73" y="487.7" width="2.6" height="2.6" fill="#d2123d"/><rect x="438.22" y="478.92" width="2.6" height="2.6" fill="#d2123d"/><rect x="433.81" y="480.18" width="2.6" height="2.6" fill="#d2123d"/><rect x="435.49" y="467.12" width="2.6" height="2.6" fill="#d2123d"/><rect x="435.3" y="483.27" width="2.6" height="2.6" fill="#d2123d"/><rect x="437.25" y="470.85" width="2.6" height="2.6" fill="#d2123d"/><rect x="435.39" y="479.17" width="2.6" height="2.6" fill="#d2123d"/><rect x="436.15" y="446.7" width="2.6" height="2.6" fill="#d2123d"/><rect x="439.2" y="448.2" width="2.6" height="2.6" fill="#d2123d"/><rect x="436.63" y="460.7" width="2.6" height="2.6" fill="#d2123d"/><rect x="454.1" y="489.8" width="7.4" height="4.7" fill="#6893bb" stroke="#5584b2" stroke-width="0.6"/><rect x="466.1" y="487.8" width="7.4" height="6.7" fill="#de6f83" stroke="#d9566f" stroke-width="0.6"/><line x1="457.8" y1="488" x2="457.8" y2="491" stroke="#0e4e8e" stroke-width="0.75"/><line x1="456" y1="488" x2="459.6" y2="488" stroke="#0e4e8e" stroke-width="0.75"/><circle cx="460.68" cy="488.41" r="1.35" fill="#0e4e8e"/><circle cx="458.11" cy="492.69" r="1.35" fill="#0e4e8e"/><circle cx="457.93" cy="490.08" r="1.35" fill="#0e4e8e"/><circle cx="454.91" cy="488.15" r="1.35" fill="#0e4e8e"/><circle cx="456.83" cy="491.33" r="1.35" fill="#0e4e8e"/><circle cx="460.18" cy="488.48" r="1.35" fill="#0e4e8e"/><circle cx="455.02" cy="490.16" r="1.35" fill="#0e4e8e"/><circle cx="459.58" cy="489.09" r="1.35" fill="#0e4e8e"/><circle cx="456.62" cy="493.3" r="1.35" fill="#0e4e8e"/><circle cx="459.13" cy="487.24" r="1.35" fill="#0e4e8e"/><circle cx="459.42" cy="487.81" r="1.35" fill="#0e4e8e"/><circle cx="457.53" cy="488.97" r="1.35" fill="#0e4e8e"/><line x1="469.8" y1="484" x2="469.8" y2="491" stroke="#d2123d" stroke-width="0.75"/><line x1="468" y1="484" x2="471.6" y2="484" stroke="#d2123d" stroke-width="0.75"/><rect x="466.52" y="484.93" width="2.6" height="2.6" fill="#d2123d"/><rect x="466.49" y="491.23" width="2.6" height="2.6" fill="#d2123d"/><rect x="469.45" y="487.71" width="2.6" height="2.6" fill="#d2123d"/><rect x="470.07" y="482" width="2.6" height="2.6" fill="#d2123d"/><rect x="471.21" y="483.89" width="2.6" height="2.6" fill="#d2123d"/><rect x="466.7" y="488.9" width="2.6" height="2.6" fill="#d2123d"/><rect x="470.62" y="489.47" width="2.6" height="2.6" fill="#d2123d"/><rect x="468.83" y="487.15" width="2.6" height="2.6" fill="#d2123d"/><rect x="468.46" y="483.72" width="2.6" height="2.6" fill="#d2123d"/><rect x="469.47" y="479.15" width="2.6" height="2.6" fill="#d2123d"/><rect x="470.39" y="488.55" width="2.6" height="2.6" fill="#d2123d"/><rect x="467.29" y="489.14" width="2.6" height="2.6" fill="#d2123d"/><rect x="469.75" y="470.7" width="2.6" height="2.6" fill="#d2123d"/><rect x="470.5" y="472.7" width="2.6" height="2.6" fill="#d2123d"/><rect x="485.9" y="484.8" width="7.4" height="9.7" fill="#6893bb" stroke="#5584b2" stroke-width="0.6"/><rect x="497.9" y="484" width="7.4" height="10.5" fill="#de6f83" stroke="#d9566f" stroke-width="0.6"/><line x1="489.6" y1="481.5" x2="489.6" y2="487.5" stroke="#0e4e8e" stroke-width="0.75"/><line x1="487.8" y1="481.5" x2="491.4" y2="481.5" stroke="#0e4e8e" stroke-width="0.75"/><circle cx="491.27" cy="478.48" r="1.35" fill="#0e4e8e"/><circle cx="486.98" cy="484.88" r="1.35" fill="#0e4e8e"/><circle cx="487.84" cy="481.46" r="1.35" fill="#0e4e8e"/><circle cx="489.21" cy="486.51" r="1.35" fill="#0e4e8e"/><circle cx="489.78" cy="493.15" r="1.35" fill="#0e4e8e"/><circle cx="492.09" cy="487.16" r="1.35" fill="#0e4e8e"/><circle cx="486.97" cy="479.69" r="1.35" fill="#0e4e8e"/><circle cx="487.88" cy="490.36" r="1.35" fill="#0e4e8e"/><circle cx="492.19" cy="476.53" r="1.35" fill="#0e4e8e"/><circle cx="488.29" cy="489.42" r="1.35" fill="#0e4e8e"/><circle cx="491.42" cy="483.44" r="1.35" fill="#0e4e8e"/><circle cx="488.37" cy="488.5" r="1.35" fill="#0e4e8e"/><line x1="501.6" y1="480.7" x2="501.6" y2="486.7" stroke="#d2123d" stroke-width="0.75"/><line x1="499.8" y1="480.7" x2="503.4" y2="480.7" stroke="#d2123d" stroke-width="0.75"/><rect x="500.83" y="479.48" width="2.6" height="2.6" fill="#d2123d"/><rect x="499.62" y="486.56" width="2.6" height="2.6" fill="#d2123d"/><rect x="497.93" y="488.75" width="2.6" height="2.6" fill="#d2123d"/><rect x="502.73" y="481.7" width="2.6" height="2.6" fill="#d2123d"/><rect x="500.44" y="484.84" width="2.6" height="2.6" fill="#d2123d"/><rect x="499.87" y="487.9" width="2.6" height="2.6" fill="#d2123d"/><rect x="498.4" y="486.68" width="2.6" height="2.6" fill="#d2123d"/><rect x="501.39" y="474.32" width="2.6" height="2.6" fill="#d2123d"/><rect x="502.38" y="489.99" width="2.6" height="2.6" fill="#d2123d"/><rect x="500.19" y="488.74" width="2.6" height="2.6" fill="#d2123d"/><rect x="500.11" y="484.2" width="2.6" height="2.6" fill="#d2123d"/><rect x="501.87" y="481.94" width="2.6" height="2.6" fill="#d2123d"/><line x1="418.5" y1="438.25" x2="418.5" y2="495" stroke="#1e1e1e" stroke-width="1"/><line x1="418" y1="494.5" x2="507" y2="494.5" stroke="#1e1e1e" stroke-width="1"/><line x1="415.5" y1="494.5" x2="418.5" y2="494.5" stroke="#1e1e1e" stroke-width="1"/><text class="tk" transform="translate(412.3 497.6) scale(0.82 1)" font-size="8.8" text-anchor="end" font-weight="normal" fill="#141414"><tspan>0</tspan></text><line x1="415.5" y1="483.5" x2="418.5" y2="483.5" stroke="#1e1e1e" stroke-width="1"/><text class="tk" transform="translate(412.3 486.35) scale(0.82 1)" font-size="8.8" text-anchor="end" font-weight="normal" fill="#141414"><tspan>10</tspan></text><line x1="415.5" y1="472.5" x2="418.5" y2="472.5" stroke="#1e1e1e" stroke-width="1"/><text class="tk" transform="translate(412.3 475.1) scale(0.82 1)" font-size="8.8" text-anchor="end" font-weight="normal" fill="#141414"><tspan>20</tspan></text><line x1="415.5" y1="460.5" x2="418.5" y2="460.5" stroke="#1e1e1e" stroke-width="1"/><text class="tk" transform="translate(412.3 463.85) scale(0.82 1)" font-size="8.8" text-anchor="end" font-weight="normal" fill="#141414"><tspan>30</tspan></text><line x1="415.5" y1="449.5" x2="418.5" y2="449.5" stroke="#1e1e1e" stroke-width="1"/><text class="tk" transform="translate(412.3 452.6) scale(0.82 1)" font-size="8.8" text-anchor="end" font-weight="normal" fill="#141414"><tspan>40</tspan></text><line x1="415.5" y1="438.5" x2="418.5" y2="438.5" stroke="#1e1e1e" stroke-width="1"/><text class="tk" transform="translate(412.3 441.35) scale(0.82 1)" font-size="8.8" text-anchor="end" font-weight="normal" fill="#141414"><tspan>50</tspan></text><line x1="432.5" y1="494.5" x2="432.5" y2="496.9" stroke="#1e1e1e" stroke-width="0.9"/><line x1="463.5" y1="494.5" x2="463.5" y2="496.9" stroke="#1e1e1e" stroke-width="0.9"/><line x1="495.5" y1="494.5" x2="495.5" y2="496.9" stroke="#1e1e1e" stroke-width="0.9"/><text x="432" y="507.2" font-size="8.7" text-anchor="middle" font-weight="normal" fill="#141414" textLength="24.3" lengthAdjust="spacingAndGlyphs"><tspan>Spleen</tspan></text><text x="463.8" y="507.2" font-size="8.7" text-anchor="middle" font-weight="normal" fill="#141414" textLength="5.4" lengthAdjust="spacingAndGlyphs"><tspan>SI</tspan></text><text x="495.6" y="507.2" font-size="8.7" text-anchor="middle" font-weight="normal" fill="#141414" textLength="21" lengthAdjust="spacingAndGlyphs"><tspan>Colon</tspan></text><text transform="translate(399.6 466.8) rotate(-90)" x="0" y="0" font-size="9.8" text-anchor="middle" font-weight="normal" fill="#141414" textLength="46.8" lengthAdjust="spacingAndGlyphs"><tspan>% CD4</tspan><tspan dy="-3.53" font-size="5.2">+</tspan><tspan dy="3.53"> Rorγt</tspan><tspan dy="-3.53" font-size="5.2">+</tspan></text><rect x="422" y="552.9" width="7.4" height="30.7" fill="#6893bb" stroke="#5584b2" stroke-width="0.6"/><rect x="434" y="552.9" width="7.4" height="30.7" fill="#de6f83" stroke="#d9566f" stroke-width="0.6"/><circle cx="425.7" cy="534.5" r="1.35" fill="#0e4e8e"/><circle cx="427.2" cy="537" r="1.35" fill="#0e4e8e"/><circle cx="424.7" cy="540" r="1.35" fill="#0e4e8e"/><circle cx="425.7" cy="542" r="1.35" fill="#0e4e8e"/><circle cx="423.7" cy="543.5" r="1.35" fill="#0e4e8e"/><circle cx="427.7" cy="544" r="1.35" fill="#0e4e8e"/><circle cx="424.7" cy="546" r="1.35" fill="#0e4e8e"/><circle cx="426.7" cy="546.5" r="1.35" fill="#0e4e8e"/><circle cx="425.7" cy="547.5" r="1.35" fill="#0e4e8e"/><circle cx="423.2" cy="545.5" r="1.35" fill="#0e4e8e"/><circle cx="428.2" cy="546" r="1.35" fill="#0e4e8e"/><line x1="437.7" y1="552.7" x2="437.7" y2="558.5" stroke="#d2123d" stroke-width="0.75"/><line x1="435.9" y1="558.5" x2="439.5" y2="558.5" stroke="#d2123d" stroke-width="0.75"/><rect x="436.4" y="534.7" width="2.6" height="2.6" fill="#d2123d"/><rect x="438.4" y="536.7" width="2.6" height="2.6" fill="#d2123d"/><rect x="435.4" y="539.7" width="2.6" height="2.6" fill="#d2123d"/><rect x="437.4" y="541.7" width="2.6" height="2.6" fill="#d2123d"/><rect x="434.4" y="542.7" width="2.6" height="2.6" fill="#d2123d"/><rect x="438.4" y="543.7" width="2.6" height="2.6" fill="#d2123d"/><rect x="436.4" y="545.2" width="2.6" height="2.6" fill="#d2123d"/><rect x="434.9" y="546.2" width="2.6" height="2.6" fill="#d2123d"/><rect x="437.9" y="546.2" width="2.6" height="2.6" fill="#d2123d"/><rect x="436.4" y="547.2" width="2.6" height="2.6" fill="#d2123d"/><rect x="436.4" y="569.2" width="2.6" height="2.6" fill="#d2123d"/><rect x="453.8" y="575.3" width="7.4" height="8.3" fill="#6893bb" stroke="#5584b2" stroke-width="0.6"/><rect x="465.8" y="577.8" width="7.4" height="5.8" fill="#de6f83" stroke="#d9566f" stroke-width="0.6"/><line x1="457.5" y1="573" x2="457.5" y2="577" stroke="#0e4e8e" stroke-width="0.75"/><line x1="455.7" y1="573" x2="459.3" y2="573" stroke="#0e4e8e" stroke-width="0.75"/><circle cx="459.3" cy="581.79" r="1.35" fill="#0e4e8e"/><circle cx="460.39" cy="576.03" r="1.35" fill="#0e4e8e"/><circle cx="454.88" cy="578.52" r="1.35" fill="#0e4e8e"/><circle cx="460.23" cy="577.32" r="1.35" fill="#0e4e8e"/><circle cx="460.24" cy="582.4" r="1.35" fill="#0e4e8e"/><circle cx="458.61" cy="578.51" r="1.35" fill="#0e4e8e"/><circle cx="458.02" cy="579.69" r="1.35" fill="#0e4e8e"/><circle cx="457.77" cy="580.49" r="1.35" fill="#0e4e8e"/><circle cx="459.25" cy="577.52" r="1.35" fill="#0e4e8e"/><circle cx="454.95" cy="581.52" r="1.35" fill="#0e4e8e"/><circle cx="458.87" cy="566" r="1.35" fill="#0e4e8e"/><line x1="469.5" y1="575.5" x2="469.5" y2="579.5" stroke="#d2123d" stroke-width="0.75"/><line x1="467.7" y1="575.5" x2="471.3" y2="575.5" stroke="#d2123d" stroke-width="0.75"/><rect x="468.28" y="578.51" width="2.6" height="2.6" fill="#d2123d"/><rect x="465.28" y="578.02" width="2.6" height="2.6" fill="#d2123d"/><rect x="470.79" y="581.1" width="2.6" height="2.6" fill="#d2123d"/><rect x="466.65" y="579.37" width="2.6" height="2.6" fill="#d2123d"/><rect x="466.58" y="577.32" width="2.6" height="2.6" fill="#d2123d"/><rect x="469.91" y="579.73" width="2.6" height="2.6" fill="#d2123d"/><rect x="469.46" y="578.78" width="2.6" height="2.6" fill="#d2123d"/><rect x="467.79" y="578.79" width="2.6" height="2.6" fill="#d2123d"/><rect x="470.54" y="579.43" width="2.6" height="2.6" fill="#d2123d"/><rect x="465.84" y="577.18" width="2.6" height="2.6" fill="#d2123d"/><rect x="469.11" y="577.07" width="2.6" height="2.6" fill="#d2123d"/><rect x="468.45" y="578.83" width="2.6" height="2.6" fill="#d2123d"/><rect x="485.6" y="569.8" width="7.4" height="13.8" fill="#6893bb" stroke="#5584b2" stroke-width="0.6"/><rect x="497.6" y="572.3" width="7.4" height="11.3" fill="#de6f83" stroke="#d9566f" stroke-width="0.6"/><line x1="489.3" y1="557.5" x2="489.3" y2="581.5" stroke="#0e4e8e" stroke-width="0.75"/><line x1="487.5" y1="557.5" x2="491.1" y2="557.5" stroke="#0e4e8e" stroke-width="0.75"/><circle cx="490.3" cy="578.81" r="1.35" fill="#0e4e8e"/><circle cx="487.55" cy="576.95" r="1.35" fill="#0e4e8e"/><circle cx="490.07" cy="574.38" r="1.35" fill="#0e4e8e"/><circle cx="490.91" cy="571.96" r="1.35" fill="#0e4e8e"/><circle cx="487.8" cy="570.97" r="1.35" fill="#0e4e8e"/><circle cx="489.68" cy="568.78" r="1.35" fill="#0e4e8e"/><circle cx="488.48" cy="578.5" r="1.35" fill="#0e4e8e"/><circle cx="488.18" cy="577.92" r="1.35" fill="#0e4e8e"/><circle cx="488.73" cy="547.2" r="1.35" fill="#0e4e8e"/><circle cx="491.8" cy="547.2" r="1.35" fill="#0e4e8e"/><circle cx="489.81" cy="557.5" r="1.35" fill="#0e4e8e"/><circle cx="487.3" cy="563" r="1.35" fill="#0e4e8e"/><line x1="501.3" y1="564" x2="501.3" y2="580" stroke="#d2123d" stroke-width="0.75"/><line x1="499.5" y1="564" x2="503.1" y2="564" stroke="#d2123d" stroke-width="0.75"/><rect x="497.67" y="574.07" width="2.6" height="2.6" fill="#d2123d"/><rect x="498.51" y="571.19" width="2.6" height="2.6" fill="#d2123d"/><rect x="500.68" y="581.03" width="2.6" height="2.6" fill="#d2123d"/><rect x="502.02" y="569.11" width="2.6" height="2.6" fill="#d2123d"/><rect x="498.73" y="569.64" width="2.6" height="2.6" fill="#d2123d"/><rect x="499" y="580.82" width="2.6" height="2.6" fill="#d2123d"/><rect x="497.93" y="577.69" width="2.6" height="2.6" fill="#d2123d"/><rect x="498.69" y="574.21" width="2.6" height="2.6" fill="#d2123d"/><rect x="500.59" y="579.26" width="2.6" height="2.6" fill="#d2123d"/><rect x="500" y="553.1" width="2.6" height="2.6" fill="#d2123d"/><rect x="502.5" y="553.5" width="2.6" height="2.6" fill="#d2123d"/><rect x="500.2" y="563.3" width="2.6" height="2.6" fill="#d2123d"/><line x1="418.1" y1="583.6" x2="510" y2="583.6" stroke="#c8c8c8" stroke-width="1"/><line x1="418.5" y1="531.25" x2="418.5" y2="547.5" stroke="#1e1e1e" stroke-width="1"/><line x1="418.5" y1="552" x2="418.5" y2="588" stroke="#1e1e1e" stroke-width="1"/><line x1="416.9" y1="547.5" x2="420.3" y2="547.5" stroke="#1e1e1e" stroke-width="0.9"/><line x1="416.9" y1="552" x2="420.3" y2="552" stroke="#1e1e1e" stroke-width="0.9"/><line x1="418" y1="587.5" x2="510" y2="587.5" stroke="#1e1e1e" stroke-width="1"/><line x1="415.5" y1="532.5" x2="418.5" y2="532.5" stroke="#1e1e1e" stroke-width="1"/><text class="tk" transform="translate(412.3 535.6) scale(0.82 1)" font-size="8.8" text-anchor="end" font-weight="normal" fill="#141414"><tspan>8</tspan></text><line x1="415.5" y1="541.5" x2="418.5" y2="541.5" stroke="#1e1e1e" stroke-width="1"/><text class="tk" transform="translate(412.3 544.35) scale(0.82 1)" font-size="8.8" text-anchor="end" font-weight="normal" fill="#141414"><tspan>4</tspan></text><line x1="415.5" y1="552.5" x2="418.5" y2="552.5" stroke="#1e1e1e" stroke-width="1"/><text class="tk" transform="translate(412.3 555.6) scale(0.82 1)" font-size="8.8" text-anchor="end" font-weight="normal" fill="#141414"><tspan>1</tspan></text><line x1="415.5" y1="568.5" x2="418.5" y2="568.5" stroke="#1e1e1e" stroke-width="1"/><text class="tk" transform="translate(412.3 571.3) scale(0.82 1)" font-size="8.8" text-anchor="end" font-weight="normal" fill="#141414"><tspan>0.5</tspan></text><line x1="415.5" y1="583.5" x2="418.5" y2="583.5" stroke="#1e1e1e" stroke-width="1"/><text class="tk" transform="translate(412.3 586.7) scale(0.82 1)" font-size="8.8" text-anchor="end" font-weight="normal" fill="#141414"><tspan>0</tspan></text><line x1="431.5" y1="587.5" x2="431.5" y2="589.9" stroke="#1e1e1e" stroke-width="0.9"/><line x1="463.5" y1="587.5" x2="463.5" y2="589.9" stroke="#1e1e1e" stroke-width="0.9"/><line x1="495.5" y1="587.5" x2="495.5" y2="589.9" stroke="#1e1e1e" stroke-width="0.9"/><text x="431.7" y="600.2" font-size="8.7" text-anchor="middle" font-weight="normal" fill="#141414" textLength="24.3" lengthAdjust="spacingAndGlyphs"><tspan>Spleen</tspan></text><text x="463.5" y="600.2" font-size="8.7" text-anchor="middle" font-weight="normal" fill="#141414" textLength="5.4" lengthAdjust="spacingAndGlyphs"><tspan>SI</tspan></text><text x="495.3" y="600.2" font-size="8.7" text-anchor="middle" font-weight="normal" fill="#141414" textLength="21" lengthAdjust="spacingAndGlyphs"><tspan>Colon</tspan></text><line x1="458.3" y1="553.5" x2="468.7" y2="553.5" stroke="#222" stroke-width="1"/><polygon points="463.5,546.95 464.12,548.25 465.54,548.44 464.5,549.42 464.76,550.84 463.5,550.15 462.24,550.84 462.5,549.42 461.46,548.44 462.88,548.25" fill="#111"/><text transform="translate(398.8 559.6) rotate(-90)" x="0" y="0" font-size="9.8" text-anchor="middle" font-weight="normal" fill="#141414" textLength="63.9" lengthAdjust="spacingAndGlyphs"><tspan>CD4</tspan><tspan dy="-3.53" font-size="5.2">+</tspan><tspan dy="3.53"> Rorγt</tspan><tspan dy="-3.53" font-size="5.2">+</tspan><tspan dy="3.53"> (×10</tspan><tspan dy="-3.53" font-size="5.2">4</tspan><tspan dy="3.53">)</tspan></text></svg></body></html>
